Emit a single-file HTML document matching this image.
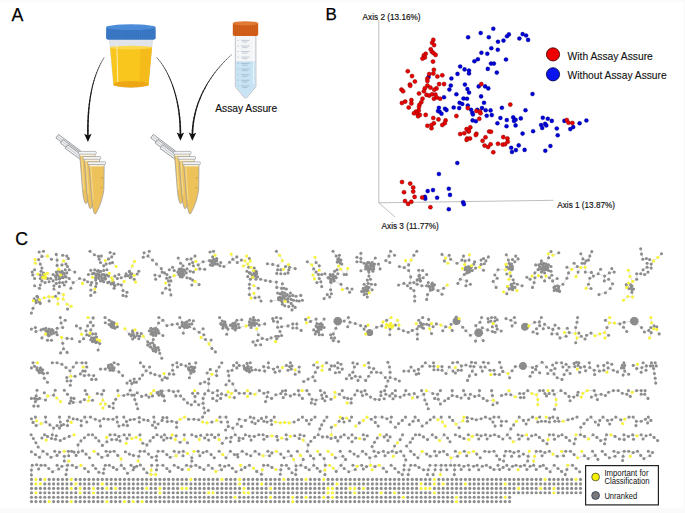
<!DOCTYPE html><html><head><meta charset="utf-8"><style>html,body{margin:0;padding:0;background:#fff;overflow:hidden}svg{display:block}</style></head><body><svg width="685" height="513" viewBox="0 0 685 513"><rect width="685" height="513" fill="#fff"/><rect x="0" y="0" width="685" height="2.2" fill="#fafafa"/><rect x="0" y="508" width="685" height="5" fill="#fafafa"/><rect x="683.5" y="0" width="2" height="513" fill="#fafafa"/><text x="11.6" y="20.8" font-size="17.8" font-family="Liberation Sans, sans-serif" fill="#000" stroke="#000" stroke-width="0.25">A</text><text x="325.6" y="20.0" font-size="17" font-family="Liberation Sans, sans-serif" fill="#000" stroke="#000" stroke-width="0.25">B</text><text x="15.3" y="245.1" font-size="17.6" font-family="Liberation Sans, sans-serif" fill="#000" stroke="#000" stroke-width="0.25">C</text><path d="M104.20,57.40L103.06,59.27" stroke="#1a1a1a" stroke-width="0.43" stroke-linecap="round"/><path d="M103.06,59.27L101.94,61.23" stroke="#1a1a1a" stroke-width="0.48" stroke-linecap="round"/><path d="M101.94,61.23L100.83,63.29" stroke="#1a1a1a" stroke-width="0.54" stroke-linecap="round"/><path d="M100.83,63.29L99.76,65.44" stroke="#1a1a1a" stroke-width="0.59" stroke-linecap="round"/><path d="M99.76,65.44L98.71,67.70" stroke="#1a1a1a" stroke-width="0.64" stroke-linecap="round"/><path d="M98.71,67.70L97.69,70.07" stroke="#1a1a1a" stroke-width="0.70" stroke-linecap="round"/><path d="M97.69,70.07L96.70,72.54" stroke="#1a1a1a" stroke-width="0.75" stroke-linecap="round"/><path d="M96.70,72.54L95.75,75.14" stroke="#1a1a1a" stroke-width="0.81" stroke-linecap="round"/><path d="M95.75,75.14L94.84,77.85" stroke="#1a1a1a" stroke-width="0.86" stroke-linecap="round"/><path d="M94.84,77.85L93.97,80.68" stroke="#1a1a1a" stroke-width="0.91" stroke-linecap="round"/><path d="M93.97,80.68L93.15,83.64" stroke="#1a1a1a" stroke-width="0.97" stroke-linecap="round"/><path d="M93.15,83.64L92.37,86.74" stroke="#1a1a1a" stroke-width="1.02" stroke-linecap="round"/><path d="M92.37,86.74L91.65,89.96" stroke="#1a1a1a" stroke-width="1.08" stroke-linecap="round"/><path d="M91.65,89.96L90.98,93.33" stroke="#1a1a1a" stroke-width="1.13" stroke-linecap="round"/><path d="M90.98,93.33L90.37,96.84" stroke="#1a1a1a" stroke-width="1.19" stroke-linecap="round"/><path d="M90.37,96.84L89.81,100.50" stroke="#1a1a1a" stroke-width="1.24" stroke-linecap="round"/><path d="M89.81,100.50L89.32,104.30" stroke="#1a1a1a" stroke-width="1.29" stroke-linecap="round"/><path d="M89.32,104.30L88.90,108.26" stroke="#1a1a1a" stroke-width="1.35" stroke-linecap="round"/><path d="M88.90,108.26L88.54,112.38" stroke="#1a1a1a" stroke-width="1.40" stroke-linecap="round"/><path d="M88.54,112.38L88.26,116.67" stroke="#1a1a1a" stroke-width="1.46" stroke-linecap="round"/><path d="M88.26,116.67L88.05,121.12" stroke="#1a1a1a" stroke-width="1.51" stroke-linecap="round"/><path d="M88.05,121.12L87.92,125.73" stroke="#1a1a1a" stroke-width="1.56" stroke-linecap="round"/><path d="M87.92,125.73L87.87,130.53" stroke="#1a1a1a" stroke-width="1.62" stroke-linecap="round"/><path d="M87.87,130.53L87.90,135.50" stroke="#1a1a1a" stroke-width="1.67" stroke-linecap="round"/><path d="M84.2,133.8 L87.9,135.4 L91.6,133.8 L87.9,142.0 Z" fill="#111" transform="rotate(0 87.9 142.0)"/><path d="M156.70,57.40L158.35,59.29" stroke="#1a1a1a" stroke-width="0.43" stroke-linecap="round"/><path d="M158.35,59.29L159.96,61.33" stroke="#1a1a1a" stroke-width="0.48" stroke-linecap="round"/><path d="M159.96,61.33L161.55,63.49" stroke="#1a1a1a" stroke-width="0.54" stroke-linecap="round"/><path d="M161.55,63.49L163.09,65.78" stroke="#1a1a1a" stroke-width="0.59" stroke-linecap="round"/><path d="M163.09,65.78L164.59,68.21" stroke="#1a1a1a" stroke-width="0.64" stroke-linecap="round"/><path d="M164.59,68.21L166.04,70.75" stroke="#1a1a1a" stroke-width="0.70" stroke-linecap="round"/><path d="M166.04,70.75L167.45,73.42" stroke="#1a1a1a" stroke-width="0.75" stroke-linecap="round"/><path d="M167.45,73.42L168.80,76.21" stroke="#1a1a1a" stroke-width="0.81" stroke-linecap="round"/><path d="M168.80,76.21L170.10,79.11" stroke="#1a1a1a" stroke-width="0.86" stroke-linecap="round"/><path d="M170.10,79.11L171.33,82.13" stroke="#1a1a1a" stroke-width="0.91" stroke-linecap="round"/><path d="M171.33,82.13L172.51,85.26" stroke="#1a1a1a" stroke-width="0.97" stroke-linecap="round"/><path d="M172.51,85.26L173.61,88.49" stroke="#1a1a1a" stroke-width="1.02" stroke-linecap="round"/><path d="M173.61,88.49L174.65,91.82" stroke="#1a1a1a" stroke-width="1.08" stroke-linecap="round"/><path d="M174.65,91.82L175.61,95.26" stroke="#1a1a1a" stroke-width="1.13" stroke-linecap="round"/><path d="M175.61,95.26L176.50,98.79" stroke="#1a1a1a" stroke-width="1.19" stroke-linecap="round"/><path d="M176.50,98.79L177.30,102.42" stroke="#1a1a1a" stroke-width="1.24" stroke-linecap="round"/><path d="M177.30,102.42L178.02,106.14" stroke="#1a1a1a" stroke-width="1.29" stroke-linecap="round"/><path d="M178.02,106.14L178.65,109.95" stroke="#1a1a1a" stroke-width="1.35" stroke-linecap="round"/><path d="M178.65,109.95L179.19,113.85" stroke="#1a1a1a" stroke-width="1.40" stroke-linecap="round"/><path d="M179.19,113.85L179.64,117.82" stroke="#1a1a1a" stroke-width="1.46" stroke-linecap="round"/><path d="M179.64,117.82L179.98,121.88" stroke="#1a1a1a" stroke-width="1.51" stroke-linecap="round"/><path d="M179.98,121.88L180.23,126.01" stroke="#1a1a1a" stroke-width="1.56" stroke-linecap="round"/><path d="M180.23,126.01L180.37,130.22" stroke="#1a1a1a" stroke-width="1.62" stroke-linecap="round"/><path d="M180.37,130.22L180.40,134.50" stroke="#1a1a1a" stroke-width="1.67" stroke-linecap="round"/><path d="M176.7,132.6 L180.4,134.2 L184.1,132.6 L180.4,140.8 Z" fill="#111" transform="rotate(0 180.4 140.8)"/><path d="M231.60,54.70L229.15,56.92" stroke="#1a1a1a" stroke-width="0.43" stroke-linecap="round"/><path d="M229.15,56.92L226.72,59.25" stroke="#1a1a1a" stroke-width="0.48" stroke-linecap="round"/><path d="M226.72,59.25L224.31,61.68" stroke="#1a1a1a" stroke-width="0.54" stroke-linecap="round"/><path d="M224.31,61.68L221.93,64.22" stroke="#1a1a1a" stroke-width="0.59" stroke-linecap="round"/><path d="M221.93,64.22L219.59,66.87" stroke="#1a1a1a" stroke-width="0.64" stroke-linecap="round"/><path d="M219.59,66.87L217.29,69.62" stroke="#1a1a1a" stroke-width="0.70" stroke-linecap="round"/><path d="M217.29,69.62L215.04,72.46" stroke="#1a1a1a" stroke-width="0.75" stroke-linecap="round"/><path d="M215.04,72.46L212.86,75.41" stroke="#1a1a1a" stroke-width="0.81" stroke-linecap="round"/><path d="M212.86,75.41L210.74,78.46" stroke="#1a1a1a" stroke-width="0.86" stroke-linecap="round"/><path d="M210.74,78.46L208.70,81.59" stroke="#1a1a1a" stroke-width="0.91" stroke-linecap="round"/><path d="M208.70,81.59L206.74,84.83" stroke="#1a1a1a" stroke-width="0.97" stroke-linecap="round"/><path d="M206.74,84.83L204.88,88.15" stroke="#1a1a1a" stroke-width="1.02" stroke-linecap="round"/><path d="M204.88,88.15L203.11,91.56" stroke="#1a1a1a" stroke-width="1.08" stroke-linecap="round"/><path d="M203.11,91.56L201.45,95.06" stroke="#1a1a1a" stroke-width="1.13" stroke-linecap="round"/><path d="M201.45,95.06L199.90,98.65" stroke="#1a1a1a" stroke-width="1.19" stroke-linecap="round"/><path d="M199.90,98.65L198.47,102.32" stroke="#1a1a1a" stroke-width="1.24" stroke-linecap="round"/><path d="M198.47,102.32L197.18,106.08" stroke="#1a1a1a" stroke-width="1.29" stroke-linecap="round"/><path d="M197.18,106.08L196.02,109.91" stroke="#1a1a1a" stroke-width="1.35" stroke-linecap="round"/><path d="M196.02,109.91L195.01,113.82" stroke="#1a1a1a" stroke-width="1.40" stroke-linecap="round"/><path d="M195.01,113.82L194.15,117.81" stroke="#1a1a1a" stroke-width="1.46" stroke-linecap="round"/><path d="M194.15,117.81L193.45,121.88" stroke="#1a1a1a" stroke-width="1.51" stroke-linecap="round"/><path d="M193.45,121.88L192.92,126.01" stroke="#1a1a1a" stroke-width="1.56" stroke-linecap="round"/><path d="M192.92,126.01L192.57,130.22" stroke="#1a1a1a" stroke-width="1.62" stroke-linecap="round"/><path d="M192.57,130.22L192.40,134.50" stroke="#1a1a1a" stroke-width="1.67" stroke-linecap="round"/><path d="M188.6,132.6 L192.3,134.2 L196.0,132.6 L192.3,140.8 Z" fill="#111" transform="rotate(1 192.3 140.8)"/><path d="M109.4,39.3 L152.6,39.3 L148.4,85.6 Q131,89 113.6,85.6 Z" fill="#e1e4ea" stroke="#c9ccd2" stroke-width="0.5"/><path d="M110.1,47.2 L151.9,47.2 L148.4,85.6 Q131,89 113.6,85.6 Z" fill="#f9c61d"/><path d="M140.5,47.2 L151.9,47.2 L148.4,85.6 L139.5,86.6 Z" fill="#f4bb1a"/><ellipse cx="131" cy="47.6" rx="20.9" ry="1.8" fill="#fbd84e"/><ellipse cx="131" cy="84.3" rx="17.2" ry="3.2" fill="#eda714"/><path d="M116.8,44 L117.8,82" stroke="#fff3c0" stroke-width="1" opacity="0.9"/><path d="M106.2,27 L155.5,27 L155.5,37.5 Q155.5,39.8 152.5,39.8 L109.2,39.8 Q106.2,39.8 106.2,37.5 Z" fill="#3b79c6"/><path d="M106.8,29.5 v9.5 M108.9,29.5 v9.5 M111.0,29.5 v9.5 M113.1,29.5 v9.5 M115.2,29.5 v9.5 M117.3,29.5 v9.5 M119.4,29.5 v9.5 M121.5,29.5 v9.5 M123.6,29.5 v9.5 M125.7,29.5 v9.5 M127.8,29.5 v9.5 M129.9,29.5 v9.5 M132.0,29.5 v9.5 M134.1,29.5 v9.5 M136.2,29.5 v9.5 M138.3,29.5 v9.5 M140.4,29.5 v9.5 M142.5,29.5 v9.5 M144.6,29.5 v9.5 M146.7,29.5 v9.5 M148.8,29.5 v9.5 M150.9,29.5 v9.5 M153.0,29.5 v9.5 M155.1,29.5 v9.5 " stroke="#346fb8" stroke-width="0.6"/><ellipse cx="130.85" cy="27.2" rx="24.65" ry="2.9" fill="#4c8bd8"/><path d="M235.3,35.3 L255.9,35.3 L255.9,86.8 L246.7,97.9 L244.5,97.9 L235.3,86.8 Z" fill="#f4f6f8" stroke="#a4abb3" stroke-width="0.7"/><path d="M235.8,61.9 L255.4,61.9 L255.4,86.6 L246.5,97.3 L244.7,97.3 L235.8,86.6 Z" fill="#c8e3f4"/><path d="M235.8,61.9 L255.4,61.9" stroke="#a9cde6" stroke-width="0.6"/><path d="M241,40.4 h8.6 M242.3,42.0 h5.2 M237.4,40.4 h1.4 M241,46.0 h8.6 M242.3,47.6 h5.2 M237.4,46.0 h1.4 M241,51.5 h8.6 M242.3,53.1 h5.2 M237.4,51.5 h1.4 M241,57.1 h8.6 M242.3,58.7 h5.2 M237.4,57.1 h1.4 M241,63.5 h8.6 M242.3,65.1 h5.2 M237.4,63.5 h1.4 M241,69.1 h8.6 M242.3,70.7 h5.2 M237.4,69.1 h1.4 M241,74.7 h8.6 M242.3,76.3 h5.2 M237.4,74.7 h1.4 M241,80.3 h8.6 M242.3,81.9 h5.2 M237.4,80.3 h1.4 M241,85.9 h8.6 M242.3,87.5 h5.2 M237.4,85.9 h1.4 " stroke="#8a99a8" stroke-width="0.45"/><path d="M253.6,38 v46" stroke="#ffffff" stroke-width="0.8" opacity="0.8"/><path d="M232.8,23.2 L258.2,23.2 L258.2,34.2 Q258.2,36 256.2,36 L234.8,36 Q232.8,36 232.8,34.2 Z" fill="#d4621c"/><path d="M233.6,25 v10.5 M235.5,25 v10.5 M237.4,25 v10.5 M239.3,25 v10.5 M241.2,25 v10.5 M243.1,25 v10.5 M245.0,25 v10.5 M246.9,25 v10.5 M248.8,25 v10.5 M250.7,25 v10.5 M252.6,25 v10.5 M254.5,25 v10.5 M256.4,25 v10.5 " stroke="#c35616" stroke-width="0.6"/><ellipse cx="245.5" cy="23.3" rx="12.7" ry="2.1" fill="#e07a35"/><text x="215.2" y="111.8" font-size="11" font-family="Liberation Sans, sans-serif" fill="#111" stroke="#111" stroke-width="0.15" textLength="62" lengthAdjust="spacingAndGlyphs">Assay Assure</text><path d="M58.5,134.4 L80.5,150.8 L78.5,154.4 L55.9,138.0 Z" fill="#eef0f2" stroke="#7e8186" stroke-width="0.75"/><path d="M57.9,136.5 L77.9,152.0" stroke="#a9acb1" stroke-width="0.6"/><path d="M63.0,139.5 L85.0,155.9 L83.0,159.5 L60.4,143.1 Z" fill="#eef0f2" stroke="#7e8186" stroke-width="0.75"/><path d="M62.4,141.6 L82.4,157.1" stroke="#a9acb1" stroke-width="0.6"/><path d="M67.8,144.8 L89.8,161.2 L87.8,164.8 L65.2,148.4 Z" fill="#eef0f2" stroke="#7e8186" stroke-width="0.75"/><path d="M67.2,146.9 L87.2,162.4" stroke="#a9acb1" stroke-width="0.6"/><path d="M79.7,154.2 L94.9,154.2 L94.6,179.4 Q92.7,192.4 86.7,203.0 Q85.7,204.2 84.9,202.8 Q82.9,197.4 82.5,189.9 Z" fill="#eec25a" stroke="#9c9c9c" stroke-width="0.75"/><path d="M81.7,156.4 L83.8,189.4" stroke="#f5d88e" stroke-width="1.1"/><rect x="78.5" y="151.4" width="17.7" height="2.8" rx="0.7" fill="#f3f4f5" stroke="#8e9196" stroke-width="0.6"/><rect x="80.1" y="154.5" width="14.4" height="1.5" fill="#f7f1e0"/><path d="M84.2,159.3 L99.4,159.3 L99.1,184.5 Q97.2,197.5 91.2,208.1 Q90.2,209.3 89.4,207.9 Q87.4,202.5 87.0,195.0 Z" fill="#eec25a" stroke="#9c9c9c" stroke-width="0.75"/><path d="M86.2,161.5 L88.3,194.5" stroke="#f5d88e" stroke-width="1.1"/><rect x="83.0" y="156.5" width="17.7" height="2.8" rx="0.7" fill="#f3f4f5" stroke="#8e9196" stroke-width="0.6"/><rect x="84.6" y="159.6" width="14.4" height="1.5" fill="#f7f1e0"/><path d="M89.0,164.6 L104.2,164.6 L103.9,189.8 Q102.0,202.8 96.0,213.4 Q95.0,214.6 94.2,213.2 Q92.2,207.8 91.8,200.3 Z" fill="#eec25a" stroke="#9c9c9c" stroke-width="0.75"/><path d="M91.0,166.8 L93.1,199.8" stroke="#f5d88e" stroke-width="1.1"/><rect x="87.8" y="161.8" width="17.7" height="2.8" rx="0.7" fill="#f3f4f5" stroke="#8e9196" stroke-width="0.6"/><rect x="89.4" y="164.9" width="14.4" height="1.5" fill="#f7f1e0"/><path d="M100.8,177.8 h2.5 M100.4,187.8 h2.5" stroke="#b3893a" stroke-width="0.5"/><path d="M153.3,134.4 L175.3,150.8 L173.3,154.4 L150.7,138.0 Z" fill="#eef0f2" stroke="#7e8186" stroke-width="0.75"/><path d="M152.7,136.5 L172.7,152.0" stroke="#a9acb1" stroke-width="0.6"/><path d="M157.8,139.5 L179.8,155.9 L177.8,159.5 L155.2,143.1 Z" fill="#eef0f2" stroke="#7e8186" stroke-width="0.75"/><path d="M157.2,141.6 L177.2,157.1" stroke="#a9acb1" stroke-width="0.6"/><path d="M162.6,144.8 L184.6,161.2 L182.6,164.8 L160.0,148.4 Z" fill="#eef0f2" stroke="#7e8186" stroke-width="0.75"/><path d="M162.0,146.9 L182.0,162.4" stroke="#a9acb1" stroke-width="0.6"/><path d="M174.5,154.2 L189.7,154.2 L189.4,179.4 Q187.5,192.4 181.5,203.0 Q180.5,204.2 179.7,202.8 Q177.7,197.4 177.3,189.9 Z" fill="#eec25a" stroke="#9c9c9c" stroke-width="0.75"/><path d="M176.5,156.4 L178.6,189.4" stroke="#f5d88e" stroke-width="1.1"/><rect x="173.3" y="151.4" width="17.7" height="2.8" rx="0.7" fill="#f3f4f5" stroke="#8e9196" stroke-width="0.6"/><rect x="174.9" y="154.5" width="14.4" height="1.5" fill="#f7f1e0"/><path d="M179.0,159.3 L194.2,159.3 L193.9,184.5 Q192.0,197.5 186.0,208.1 Q185.0,209.3 184.2,207.9 Q182.2,202.5 181.8,195.0 Z" fill="#eec25a" stroke="#9c9c9c" stroke-width="0.75"/><path d="M181.0,161.5 L183.1,194.5" stroke="#f5d88e" stroke-width="1.1"/><rect x="177.8" y="156.5" width="17.7" height="2.8" rx="0.7" fill="#f3f4f5" stroke="#8e9196" stroke-width="0.6"/><rect x="179.4" y="159.6" width="14.4" height="1.5" fill="#f7f1e0"/><path d="M183.8,164.6 L199.0,164.6 L198.7,189.8 Q196.8,202.8 190.8,213.4 Q189.8,214.6 189.0,213.2 Q187.0,207.8 186.6,200.3 Z" fill="#eec25a" stroke="#9c9c9c" stroke-width="0.75"/><path d="M185.8,166.8 L187.9,199.8" stroke="#f5d88e" stroke-width="1.1"/><rect x="182.6" y="161.8" width="17.7" height="2.8" rx="0.7" fill="#f3f4f5" stroke="#8e9196" stroke-width="0.6"/><rect x="184.2" y="164.9" width="14.4" height="1.5" fill="#f7f1e0"/><path d="M195.6,177.8 h2.5 M195.2,187.8 h2.5" stroke="#b3893a" stroke-width="0.5"/><path d="M378.8,20 L378.8,202.8 L553.6,200.3 M378.8,202.8 L395,217" fill="none" stroke="#b8b8b8" stroke-width="0.9"/><text x="362.6" y="19.9" font-size="8.6" font-family="Liberation Sans, sans-serif" fill="#111" stroke="#111" stroke-width="0.18" textLength="58" lengthAdjust="spacingAndGlyphs">Axis 2 (13.16%)</text><text x="557.3" y="207.6" font-size="9.2" font-family="Liberation Sans, sans-serif" fill="#111" stroke="#111" stroke-width="0.18" textLength="57.7" lengthAdjust="spacingAndGlyphs">Axis 1 (13.87%)</text><text x="381.6" y="228.7" font-size="9.2" font-family="Liberation Sans, sans-serif" fill="#111" stroke="#111" stroke-width="0.18" textLength="57.2" lengthAdjust="spacingAndGlyphs">Axis 3 (11.77%)</text><circle cx="468.1" cy="37.3" r="2.05" fill="#0000d8" stroke="#00006a" stroke-width="0.3"/><circle cx="460.2" cy="66.5" r="2.05" fill="#0000d8" stroke="#00006a" stroke-width="0.3"/><circle cx="464.6" cy="69.4" r="2.05" fill="#0000d8" stroke="#00006a" stroke-width="0.3"/><circle cx="469" cy="70.6" r="2.05" fill="#0000d8" stroke="#00006a" stroke-width="0.3"/><circle cx="469" cy="73.5" r="2.05" fill="#0000d8" stroke="#00006a" stroke-width="0.3"/><circle cx="457.5" cy="73.9" r="2.05" fill="#0000d8" stroke="#00006a" stroke-width="0.3"/><circle cx="451.4" cy="78.5" r="2.05" fill="#0000d8" stroke="#00006a" stroke-width="0.3"/><circle cx="428.6" cy="77" r="2.05" fill="#0000d8" stroke="#00006a" stroke-width="0.3"/><circle cx="493.3" cy="28.7" r="2.05" fill="#0000d8" stroke="#00006a" stroke-width="0.3"/><circle cx="480.7" cy="33" r="2.05" fill="#0000d8" stroke="#00006a" stroke-width="0.3"/><circle cx="488.8" cy="37.2" r="2.05" fill="#0000d8" stroke="#00006a" stroke-width="0.3"/><circle cx="508.9" cy="34.4" r="2.05" fill="#0000d8" stroke="#00006a" stroke-width="0.3"/><circle cx="507" cy="36.3" r="2.05" fill="#0000d8" stroke="#00006a" stroke-width="0.3"/><circle cx="503.5" cy="40.6" r="2.05" fill="#0000d8" stroke="#00006a" stroke-width="0.3"/><circle cx="498" cy="41.7" r="2.05" fill="#0000d8" stroke="#00006a" stroke-width="0.3"/><circle cx="522.6" cy="34.1" r="2.05" fill="#0000d8" stroke="#00006a" stroke-width="0.3"/><circle cx="526.1" cy="35.5" r="2.05" fill="#0000d8" stroke="#00006a" stroke-width="0.3"/><circle cx="519.4" cy="38.5" r="2.05" fill="#0000d8" stroke="#00006a" stroke-width="0.3"/><circle cx="528.1" cy="39.9" r="2.05" fill="#0000d8" stroke="#00006a" stroke-width="0.3"/><circle cx="491.3" cy="48.2" r="2.05" fill="#0000d8" stroke="#00006a" stroke-width="0.3"/><circle cx="497.8" cy="49.8" r="2.05" fill="#0000d8" stroke="#00006a" stroke-width="0.3"/><circle cx="481.4" cy="52.7" r="2.05" fill="#0000d8" stroke="#00006a" stroke-width="0.3"/><circle cx="487.3" cy="53.7" r="2.05" fill="#0000d8" stroke="#00006a" stroke-width="0.3"/><circle cx="477.9" cy="59.2" r="2.05" fill="#0000d8" stroke="#00006a" stroke-width="0.3"/><circle cx="474.4" cy="61.3" r="2.05" fill="#0000d8" stroke="#00006a" stroke-width="0.3"/><circle cx="506" cy="59.5" r="2.05" fill="#0000d8" stroke="#00006a" stroke-width="0.3"/><circle cx="491" cy="63.6" r="2.05" fill="#0000d8" stroke="#00006a" stroke-width="0.3"/><circle cx="493.9" cy="63.6" r="2.05" fill="#0000d8" stroke="#00006a" stroke-width="0.3"/><circle cx="487.8" cy="68.9" r="2.05" fill="#0000d8" stroke="#00006a" stroke-width="0.3"/><circle cx="496.8" cy="72.6" r="2.05" fill="#0000d8" stroke="#00006a" stroke-width="0.3"/><circle cx="464.9" cy="84.6" r="2.05" fill="#0000d8" stroke="#00006a" stroke-width="0.3"/><circle cx="450.8" cy="85.6" r="2.05" fill="#0000d8" stroke="#00006a" stroke-width="0.3"/><circle cx="449.4" cy="89.6" r="2.05" fill="#0000d8" stroke="#00006a" stroke-width="0.3"/><circle cx="444" cy="97.2" r="2.05" fill="#0000d8" stroke="#00006a" stroke-width="0.3"/><circle cx="456.4" cy="94.3" r="2.05" fill="#0000d8" stroke="#00006a" stroke-width="0.3"/><circle cx="467.4" cy="89.1" r="2.05" fill="#0000d8" stroke="#00006a" stroke-width="0.3"/><circle cx="469" cy="92.6" r="2.05" fill="#0000d8" stroke="#00006a" stroke-width="0.3"/><circle cx="463.5" cy="98.5" r="2.05" fill="#0000d8" stroke="#00006a" stroke-width="0.3"/><circle cx="467" cy="98.7" r="2.05" fill="#0000d8" stroke="#00006a" stroke-width="0.3"/><circle cx="459.6" cy="102.8" r="2.05" fill="#0000d8" stroke="#00006a" stroke-width="0.3"/><circle cx="462.3" cy="104" r="2.05" fill="#0000d8" stroke="#00006a" stroke-width="0.3"/><circle cx="467.8" cy="105.5" r="2.05" fill="#0000d8" stroke="#00006a" stroke-width="0.3"/><circle cx="453.7" cy="107.5" r="2.05" fill="#0000d8" stroke="#00006a" stroke-width="0.3"/><circle cx="459.2" cy="108.1" r="2.05" fill="#0000d8" stroke="#00006a" stroke-width="0.3"/><circle cx="438.9" cy="107.8" r="2.05" fill="#0000d8" stroke="#00006a" stroke-width="0.3"/><circle cx="438" cy="111" r="2.05" fill="#0000d8" stroke="#00006a" stroke-width="0.3"/><circle cx="439.7" cy="111.8" r="2.05" fill="#0000d8" stroke="#00006a" stroke-width="0.3"/><circle cx="441.5" cy="113.7" r="2.05" fill="#0000d8" stroke="#00006a" stroke-width="0.3"/><circle cx="445" cy="108.7" r="2.05" fill="#0000d8" stroke="#00006a" stroke-width="0.3"/><circle cx="446.5" cy="110.1" r="2.05" fill="#0000d8" stroke="#00006a" stroke-width="0.3"/><circle cx="478.7" cy="86.4" r="2.05" fill="#0000d8" stroke="#00006a" stroke-width="0.3"/><circle cx="485.1" cy="86.4" r="2.05" fill="#0000d8" stroke="#00006a" stroke-width="0.3"/><circle cx="488.3" cy="88.4" r="2.05" fill="#0000d8" stroke="#00006a" stroke-width="0.3"/><circle cx="481.1" cy="96.4" r="2.05" fill="#0000d8" stroke="#00006a" stroke-width="0.3"/><circle cx="484" cy="102.8" r="2.05" fill="#0000d8" stroke="#00006a" stroke-width="0.3"/><circle cx="471.1" cy="109.8" r="2.05" fill="#0000d8" stroke="#00006a" stroke-width="0.3"/><circle cx="472.3" cy="112.7" r="2.05" fill="#0000d8" stroke="#00006a" stroke-width="0.3"/><circle cx="472.9" cy="114.5" r="2.05" fill="#0000d8" stroke="#00006a" stroke-width="0.3"/><circle cx="477.3" cy="109.8" r="2.05" fill="#0000d8" stroke="#00006a" stroke-width="0.3"/><circle cx="482" cy="108.1" r="2.05" fill="#0000d8" stroke="#00006a" stroke-width="0.3"/><circle cx="485.7" cy="110.2" r="2.05" fill="#0000d8" stroke="#00006a" stroke-width="0.3"/><circle cx="490.6" cy="110.4" r="2.05" fill="#0000d8" stroke="#00006a" stroke-width="0.3"/><circle cx="486.7" cy="115.7" r="2.05" fill="#0000d8" stroke="#00006a" stroke-width="0.3"/><circle cx="491.8" cy="115.1" r="2.05" fill="#0000d8" stroke="#00006a" stroke-width="0.3"/><circle cx="472.6" cy="120.4" r="2.05" fill="#0000d8" stroke="#00006a" stroke-width="0.3"/><circle cx="475.8" cy="121.2" r="2.05" fill="#0000d8" stroke="#00006a" stroke-width="0.3"/><circle cx="501.9" cy="107.8" r="2.05" fill="#0000d8" stroke="#00006a" stroke-width="0.3"/><circle cx="500.4" cy="118" r="2.05" fill="#0000d8" stroke="#00006a" stroke-width="0.3"/><circle cx="497.4" cy="123.3" r="2.05" fill="#0000d8" stroke="#00006a" stroke-width="0.3"/><circle cx="506.8" cy="120" r="2.05" fill="#0000d8" stroke="#00006a" stroke-width="0.3"/><circle cx="506.5" cy="126.2" r="2.05" fill="#0000d8" stroke="#00006a" stroke-width="0.3"/><circle cx="513.2" cy="117.4" r="2.05" fill="#0000d8" stroke="#00006a" stroke-width="0.3"/><circle cx="515.6" cy="119.8" r="2.05" fill="#0000d8" stroke="#00006a" stroke-width="0.3"/><circle cx="514" cy="120.9" r="2.05" fill="#0000d8" stroke="#00006a" stroke-width="0.3"/><circle cx="520.8" cy="118.4" r="2.05" fill="#0000d8" stroke="#00006a" stroke-width="0.3"/><circle cx="515.6" cy="125.4" r="2.05" fill="#0000d8" stroke="#00006a" stroke-width="0.3"/><circle cx="525.5" cy="110.2" r="2.05" fill="#0000d8" stroke="#00006a" stroke-width="0.3"/><circle cx="532.5" cy="94" r="2.05" fill="#0000d8" stroke="#00006a" stroke-width="0.3"/><circle cx="522.6" cy="133.6" r="2.05" fill="#0000d8" stroke="#00006a" stroke-width="0.3"/><circle cx="533.1" cy="131.2" r="2.05" fill="#0000d8" stroke="#00006a" stroke-width="0.3"/><circle cx="542.8" cy="117.7" r="2.05" fill="#0000d8" stroke="#00006a" stroke-width="0.3"/><circle cx="547.8" cy="118.8" r="2.05" fill="#0000d8" stroke="#00006a" stroke-width="0.3"/><circle cx="551.8" cy="120.9" r="2.05" fill="#0000d8" stroke="#00006a" stroke-width="0.3"/><circle cx="541.1" cy="125" r="2.05" fill="#0000d8" stroke="#00006a" stroke-width="0.3"/><circle cx="545.1" cy="123.9" r="2.05" fill="#0000d8" stroke="#00006a" stroke-width="0.3"/><circle cx="546.3" cy="125.4" r="2.05" fill="#0000d8" stroke="#00006a" stroke-width="0.3"/><circle cx="542.2" cy="128" r="2.05" fill="#0000d8" stroke="#00006a" stroke-width="0.3"/><circle cx="556.8" cy="128.5" r="2.05" fill="#0000d8" stroke="#00006a" stroke-width="0.3"/><circle cx="557.7" cy="135.3" r="2.05" fill="#0000d8" stroke="#00006a" stroke-width="0.3"/><circle cx="564.4" cy="120.9" r="2.05" fill="#0000d8" stroke="#00006a" stroke-width="0.3"/><circle cx="570.3" cy="129.1" r="2.05" fill="#0000d8" stroke="#00006a" stroke-width="0.3"/><circle cx="573.2" cy="127.1" r="2.05" fill="#0000d8" stroke="#00006a" stroke-width="0.3"/><circle cx="579.6" cy="123.3" r="2.05" fill="#0000d8" stroke="#00006a" stroke-width="0.3"/><circle cx="586.4" cy="120.5" r="2.05" fill="#0000d8" stroke="#00006a" stroke-width="0.3"/><circle cx="457.3" cy="163" r="2.05" fill="#0000d8" stroke="#00006a" stroke-width="0.3"/><circle cx="438.9" cy="174" r="2.05" fill="#0000d8" stroke="#00006a" stroke-width="0.3"/><circle cx="427.7" cy="191.1" r="2.05" fill="#0000d8" stroke="#00006a" stroke-width="0.3"/><circle cx="433" cy="190.1" r="2.05" fill="#0000d8" stroke="#00006a" stroke-width="0.3"/><circle cx="424.9" cy="196.7" r="2.05" fill="#0000d8" stroke="#00006a" stroke-width="0.3"/><circle cx="425.3" cy="198.7" r="2.05" fill="#0000d8" stroke="#00006a" stroke-width="0.3"/><circle cx="437.1" cy="197.7" r="2.05" fill="#0000d8" stroke="#00006a" stroke-width="0.3"/><circle cx="448.8" cy="188.7" r="2.05" fill="#0000d8" stroke="#00006a" stroke-width="0.3"/><circle cx="450" cy="194.9" r="2.05" fill="#0000d8" stroke="#00006a" stroke-width="0.3"/><circle cx="448.8" cy="209.2" r="2.05" fill="#0000d8" stroke="#00006a" stroke-width="0.3"/><circle cx="463.1" cy="202.2" r="2.05" fill="#0000d8" stroke="#00006a" stroke-width="0.3"/><circle cx="463.9" cy="204.2" r="2.05" fill="#0000d8" stroke="#00006a" stroke-width="0.3"/><circle cx="511.2" cy="147.8" r="2.05" fill="#0000d8" stroke="#00006a" stroke-width="0.3"/><circle cx="512" cy="152" r="2.05" fill="#0000d8" stroke="#00006a" stroke-width="0.3"/><circle cx="515.9" cy="150.1" r="2.05" fill="#0000d8" stroke="#00006a" stroke-width="0.3"/><circle cx="518.7" cy="145.4" r="2.05" fill="#0000d8" stroke="#00006a" stroke-width="0.3"/><circle cx="524.6" cy="149.9" r="2.05" fill="#0000d8" stroke="#00006a" stroke-width="0.3"/><circle cx="550.4" cy="146" r="2.05" fill="#0000d8" stroke="#00006a" stroke-width="0.3"/><circle cx="545.3" cy="150.7" r="2.05" fill="#0000d8" stroke="#00006a" stroke-width="0.3"/><circle cx="433.3" cy="39.9" r="2.05" fill="#ee0000" stroke="#7a0000" stroke-width="0.45"/><circle cx="432.1" cy="42.8" r="2.05" fill="#ee0000" stroke="#7a0000" stroke-width="0.45"/><circle cx="434.1" cy="45.1" r="2.05" fill="#ee0000" stroke="#7a0000" stroke-width="0.45"/><circle cx="430.7" cy="49.3" r="2.05" fill="#ee0000" stroke="#7a0000" stroke-width="0.45"/><circle cx="431.9" cy="51.7" r="2.05" fill="#ee0000" stroke="#7a0000" stroke-width="0.45"/><circle cx="433.5" cy="53.1" r="2.05" fill="#ee0000" stroke="#7a0000" stroke-width="0.45"/><circle cx="435.6" cy="54.9" r="2.05" fill="#ee0000" stroke="#7a0000" stroke-width="0.45"/><circle cx="425.7" cy="53.7" r="2.05" fill="#ee0000" stroke="#7a0000" stroke-width="0.45"/><circle cx="423.9" cy="55.4" r="2.05" fill="#ee0000" stroke="#7a0000" stroke-width="0.45"/><circle cx="424.9" cy="57.5" r="2.05" fill="#ee0000" stroke="#7a0000" stroke-width="0.45"/><circle cx="422.5" cy="58.6" r="2.05" fill="#ee0000" stroke="#7a0000" stroke-width="0.45"/><circle cx="433" cy="61.6" r="2.05" fill="#ee0000" stroke="#7a0000" stroke-width="0.45"/><circle cx="433.9" cy="69.8" r="2.05" fill="#ee0000" stroke="#7a0000" stroke-width="0.45"/><circle cx="407.8" cy="71.2" r="2.05" fill="#ee0000" stroke="#7a0000" stroke-width="0.45"/><circle cx="412" cy="76.1" r="2.05" fill="#ee0000" stroke="#7a0000" stroke-width="0.45"/><circle cx="429.2" cy="74.1" r="2.05" fill="#ee0000" stroke="#7a0000" stroke-width="0.45"/><circle cx="433.3" cy="73.5" r="2.05" fill="#ee0000" stroke="#7a0000" stroke-width="0.45"/><circle cx="437.4" cy="76.5" r="2.05" fill="#ee0000" stroke="#7a0000" stroke-width="0.45"/><circle cx="442.3" cy="75.3" r="2.05" fill="#ee0000" stroke="#7a0000" stroke-width="0.45"/><circle cx="427.4" cy="78.6" r="2.05" fill="#ee0000" stroke="#7a0000" stroke-width="0.45"/><circle cx="427.4" cy="80.9" r="2.05" fill="#ee0000" stroke="#7a0000" stroke-width="0.45"/><circle cx="414.9" cy="81.5" r="2.05" fill="#ee0000" stroke="#7a0000" stroke-width="0.45"/><circle cx="409.9" cy="84.6" r="2.05" fill="#ee0000" stroke="#7a0000" stroke-width="0.45"/><circle cx="439.1" cy="84.1" r="2.05" fill="#ee0000" stroke="#7a0000" stroke-width="0.45"/><circle cx="444" cy="84.1" r="2.05" fill="#ee0000" stroke="#7a0000" stroke-width="0.45"/><circle cx="481.3" cy="84.1" r="2.05" fill="#ee0000" stroke="#7a0000" stroke-width="0.45"/><circle cx="410.2" cy="85.8" r="2.05" fill="#ee0000" stroke="#7a0000" stroke-width="0.45"/><circle cx="401.5" cy="89.6" r="2.05" fill="#ee0000" stroke="#7a0000" stroke-width="0.45"/><circle cx="403.1" cy="91.3" r="2.05" fill="#ee0000" stroke="#7a0000" stroke-width="0.45"/><circle cx="427.4" cy="85.6" r="2.05" fill="#ee0000" stroke="#7a0000" stroke-width="0.45"/><circle cx="424.9" cy="88.2" r="2.05" fill="#ee0000" stroke="#7a0000" stroke-width="0.45"/><circle cx="430.4" cy="87.6" r="2.05" fill="#ee0000" stroke="#7a0000" stroke-width="0.45"/><circle cx="436.5" cy="88.4" r="2.05" fill="#ee0000" stroke="#7a0000" stroke-width="0.45"/><circle cx="434.2" cy="89.7" r="2.05" fill="#ee0000" stroke="#7a0000" stroke-width="0.45"/><circle cx="423.9" cy="91.3" r="2.05" fill="#ee0000" stroke="#7a0000" stroke-width="0.45"/><circle cx="419" cy="93.5" r="2.05" fill="#ee0000" stroke="#7a0000" stroke-width="0.45"/><circle cx="426.5" cy="94.9" r="2.05" fill="#ee0000" stroke="#7a0000" stroke-width="0.45"/><circle cx="429.2" cy="95.6" r="2.05" fill="#ee0000" stroke="#7a0000" stroke-width="0.45"/><circle cx="432.1" cy="94.3" r="2.05" fill="#ee0000" stroke="#7a0000" stroke-width="0.45"/><circle cx="435.4" cy="94.6" r="2.05" fill="#ee0000" stroke="#7a0000" stroke-width="0.45"/><circle cx="433.9" cy="98.7" r="2.05" fill="#ee0000" stroke="#7a0000" stroke-width="0.45"/><circle cx="436.8" cy="97.5" r="2.05" fill="#ee0000" stroke="#7a0000" stroke-width="0.45"/><circle cx="440.1" cy="98.7" r="2.05" fill="#ee0000" stroke="#7a0000" stroke-width="0.45"/><circle cx="422.5" cy="98.7" r="2.05" fill="#ee0000" stroke="#7a0000" stroke-width="0.45"/><circle cx="421.3" cy="102.2" r="2.05" fill="#ee0000" stroke="#7a0000" stroke-width="0.45"/><circle cx="419.5" cy="104.8" r="2.05" fill="#ee0000" stroke="#7a0000" stroke-width="0.45"/><circle cx="419" cy="107.1" r="2.05" fill="#ee0000" stroke="#7a0000" stroke-width="0.45"/><circle cx="411.4" cy="100.1" r="2.05" fill="#ee0000" stroke="#7a0000" stroke-width="0.45"/><circle cx="411.4" cy="103.4" r="2.05" fill="#ee0000" stroke="#7a0000" stroke-width="0.45"/><circle cx="405.2" cy="101.6" r="2.05" fill="#ee0000" stroke="#7a0000" stroke-width="0.45"/><circle cx="401.9" cy="103" r="2.05" fill="#ee0000" stroke="#7a0000" stroke-width="0.45"/><circle cx="408.7" cy="107.5" r="2.05" fill="#ee0000" stroke="#7a0000" stroke-width="0.45"/><circle cx="418.7" cy="110.6" r="2.05" fill="#ee0000" stroke="#7a0000" stroke-width="0.45"/><circle cx="416" cy="111.6" r="2.05" fill="#ee0000" stroke="#7a0000" stroke-width="0.45"/><circle cx="414" cy="113.3" r="2.05" fill="#ee0000" stroke="#7a0000" stroke-width="0.45"/><circle cx="417.5" cy="113.9" r="2.05" fill="#ee0000" stroke="#7a0000" stroke-width="0.45"/><circle cx="419.8" cy="114.9" r="2.05" fill="#ee0000" stroke="#7a0000" stroke-width="0.45"/><circle cx="418.1" cy="116.3" r="2.05" fill="#ee0000" stroke="#7a0000" stroke-width="0.45"/><circle cx="425.7" cy="114.9" r="2.05" fill="#ee0000" stroke="#7a0000" stroke-width="0.45"/><circle cx="433.3" cy="118" r="2.05" fill="#ee0000" stroke="#7a0000" stroke-width="0.45"/><circle cx="438.5" cy="119.4" r="2.05" fill="#ee0000" stroke="#7a0000" stroke-width="0.45"/><circle cx="445.6" cy="120.4" r="2.05" fill="#ee0000" stroke="#7a0000" stroke-width="0.45"/><circle cx="444.7" cy="123.3" r="2.05" fill="#ee0000" stroke="#7a0000" stroke-width="0.45"/><circle cx="442.3" cy="125" r="2.05" fill="#ee0000" stroke="#7a0000" stroke-width="0.45"/><circle cx="433.9" cy="123.3" r="2.05" fill="#ee0000" stroke="#7a0000" stroke-width="0.45"/><circle cx="431.5" cy="125" r="2.05" fill="#ee0000" stroke="#7a0000" stroke-width="0.45"/><circle cx="427.4" cy="125.8" r="2.05" fill="#ee0000" stroke="#7a0000" stroke-width="0.45"/><circle cx="431.5" cy="128.2" r="2.05" fill="#ee0000" stroke="#7a0000" stroke-width="0.45"/><circle cx="456.4" cy="116" r="2.05" fill="#ee0000" stroke="#7a0000" stroke-width="0.45"/><circle cx="467.8" cy="108.1" r="2.05" fill="#ee0000" stroke="#7a0000" stroke-width="0.45"/><circle cx="460.2" cy="134" r="2.05" fill="#ee0000" stroke="#7a0000" stroke-width="0.45"/><circle cx="464.3" cy="133.2" r="2.05" fill="#ee0000" stroke="#7a0000" stroke-width="0.45"/><circle cx="466.6" cy="129.1" r="2.05" fill="#ee0000" stroke="#7a0000" stroke-width="0.45"/><circle cx="468.6" cy="131.5" r="2.05" fill="#ee0000" stroke="#7a0000" stroke-width="0.45"/><circle cx="467.2" cy="138.5" r="2.05" fill="#ee0000" stroke="#7a0000" stroke-width="0.45"/><circle cx="510.3" cy="104.6" r="2.05" fill="#ee0000" stroke="#7a0000" stroke-width="0.45"/><circle cx="476.4" cy="111" r="2.05" fill="#ee0000" stroke="#7a0000" stroke-width="0.45"/><circle cx="479.9" cy="111.6" r="2.05" fill="#ee0000" stroke="#7a0000" stroke-width="0.45"/><circle cx="480.5" cy="113.3" r="2.05" fill="#ee0000" stroke="#7a0000" stroke-width="0.45"/><circle cx="479.3" cy="118.8" r="2.05" fill="#ee0000" stroke="#7a0000" stroke-width="0.45"/><circle cx="470.3" cy="127.4" r="2.05" fill="#ee0000" stroke="#7a0000" stroke-width="0.45"/><circle cx="468.8" cy="130.9" r="2.05" fill="#ee0000" stroke="#7a0000" stroke-width="0.45"/><circle cx="476.4" cy="133.8" r="2.05" fill="#ee0000" stroke="#7a0000" stroke-width="0.45"/><circle cx="475.8" cy="135" r="2.05" fill="#ee0000" stroke="#7a0000" stroke-width="0.45"/><circle cx="489.2" cy="131.5" r="2.05" fill="#ee0000" stroke="#7a0000" stroke-width="0.45"/><circle cx="491" cy="131.7" r="2.05" fill="#ee0000" stroke="#7a0000" stroke-width="0.45"/><circle cx="485.5" cy="137.3" r="2.05" fill="#ee0000" stroke="#7a0000" stroke-width="0.45"/><circle cx="470" cy="138.5" r="2.05" fill="#ee0000" stroke="#7a0000" stroke-width="0.45"/><circle cx="503.3" cy="137.1" r="2.05" fill="#ee0000" stroke="#7a0000" stroke-width="0.45"/><circle cx="507.4" cy="138.5" r="2.05" fill="#ee0000" stroke="#7a0000" stroke-width="0.45"/><circle cx="566.8" cy="120" r="2.05" fill="#ee0000" stroke="#7a0000" stroke-width="0.45"/><circle cx="568.5" cy="122.7" r="2.05" fill="#ee0000" stroke="#7a0000" stroke-width="0.45"/><circle cx="572.4" cy="123" r="2.05" fill="#ee0000" stroke="#7a0000" stroke-width="0.45"/><circle cx="402" cy="182" r="2.05" fill="#ee0000" stroke="#7a0000" stroke-width="0.45"/><circle cx="410.2" cy="183.6" r="2.05" fill="#ee0000" stroke="#7a0000" stroke-width="0.45"/><circle cx="413.2" cy="187.5" r="2.05" fill="#ee0000" stroke="#7a0000" stroke-width="0.45"/><circle cx="466.6" cy="139.9" r="2.05" fill="#ee0000" stroke="#7a0000" stroke-width="0.45"/><circle cx="413.2" cy="191.6" r="2.05" fill="#ee0000" stroke="#7a0000" stroke-width="0.45"/><circle cx="404" cy="192.2" r="2.05" fill="#ee0000" stroke="#7a0000" stroke-width="0.45"/><circle cx="414.6" cy="196.9" r="2.05" fill="#ee0000" stroke="#7a0000" stroke-width="0.45"/><circle cx="422.2" cy="197.5" r="2.05" fill="#ee0000" stroke="#7a0000" stroke-width="0.45"/><circle cx="405" cy="201" r="2.05" fill="#ee0000" stroke="#7a0000" stroke-width="0.45"/><circle cx="408.1" cy="203.9" r="2.05" fill="#ee0000" stroke="#7a0000" stroke-width="0.45"/><circle cx="411.3" cy="201.8" r="2.05" fill="#ee0000" stroke="#7a0000" stroke-width="0.45"/><circle cx="430.4" cy="207.2" r="2.05" fill="#ee0000" stroke="#7a0000" stroke-width="0.45"/><circle cx="482.6" cy="140.8" r="2.05" fill="#ee0000" stroke="#7a0000" stroke-width="0.45"/><circle cx="484.6" cy="145.6" r="2.05" fill="#ee0000" stroke="#7a0000" stroke-width="0.45"/><circle cx="488.1" cy="147" r="2.05" fill="#ee0000" stroke="#7a0000" stroke-width="0.45"/><circle cx="490.6" cy="144.3" r="2.05" fill="#ee0000" stroke="#7a0000" stroke-width="0.45"/><circle cx="493.3" cy="152.2" r="2.05" fill="#ee0000" stroke="#7a0000" stroke-width="0.45"/><circle cx="498" cy="143.8" r="2.05" fill="#ee0000" stroke="#7a0000" stroke-width="0.45"/><circle cx="507.7" cy="141.7" r="2.05" fill="#ee0000" stroke="#7a0000" stroke-width="0.45"/><circle cx="502.7" cy="144.6" r="2.05" fill="#ee0000" stroke="#7a0000" stroke-width="0.45"/><circle cx="505" cy="144.3" r="2.05" fill="#ee0000" stroke="#7a0000" stroke-width="0.45"/><circle cx="553" cy="54.4" r="6.6" fill="#ee0000" stroke="#3a0000" stroke-width="0.8"/><circle cx="553" cy="74.3" r="6.6" fill="#0a14ee" stroke="#00003a" stroke-width="0.8"/><text x="567.6" y="60" font-size="11.4" font-family="Liberation Sans, sans-serif" fill="#111" stroke="#111" stroke-width="0.12" textLength="85.2" lengthAdjust="spacingAndGlyphs">With Assay Assure</text><text x="567.6" y="79.4" font-size="11.4" font-family="Liberation Sans, sans-serif" fill="#111" stroke="#111" stroke-width="0.12" textLength="99.1" lengthAdjust="spacingAndGlyphs">Without Assay Assure</text><path d="M320.9,329.1L321.0,328.9M112.5,280.1L112.7,280.1M254.3,325.1L254.5,325.0M178.2,272.1L178.1,272.3M252.7,277.3L252.5,277.4M255.1,276.1L255.2,275.9M420.3,280.9L420.4,280.7M225.6,325.1L225.8,325.1M249.4,321.9L249.4,322.1M113.3,325.1L113.6,325.1M161.3,393.5L161.6,393.5M254.3,273.7L254.6,273.7M509.2,289.0L509.4,288.7M59.5,278.5L59.5,278.9M541.4,268.9L541.6,268.6M158.9,395.1L159.1,394.8M45.1,278.2L45.3,277.8M254.3,322.7L253.8,322.7M102.1,278.5L102.3,278.1M236.0,325.9L235.5,325.9M417.1,280.1L417.4,279.7M92.5,341.1L92.6,341.6M187.0,325.1L186.5,325.1M100.5,271.3L100.3,271.8M50.7,331.5L50.2,331.5M153.3,334.7L153.1,335.2M433.1,286.6L432.6,286.6M507.6,286.2L507.5,286.8M62.7,277.7L62.3,277.4M626.8,287.4L627.0,286.8M105.3,278.5L105.4,279.1M135.0,337.1L134.4,337.0M98.9,275.3L99.0,275.9M538.1,269.7L538.5,269.2M96.5,274.5L95.9,274.9M466.7,272.9L467.3,272.6M42.7,277.3L43.2,277.7M51.5,333.9L50.8,333.7M337.8,261.7L337.2,262.1M467.5,269.7L466.9,270.1M95.7,277.7L96.3,277.4M541.4,264.1L541.0,263.5M43.5,273.7L43.7,273.0M42.7,277.3L42.1,276.8M331.4,279.3L330.8,279.8M512.5,289.0L512.6,289.7M328.1,277.7L328.9,277.9M129.4,271.3L129.6,272.0M333.8,280.1L334.0,280.9M255.9,271.3L256.5,271.8M179.0,269.7L179.4,269.0M224.7,321.9L224.9,322.6M150.1,346.8L150.8,347.0M230.4,325.1L231.1,325.3M468.3,267.3L468.5,266.5M631.1,288.2L631.4,287.4M253.5,270.5L253.7,271.3M154.1,345.9L154.3,345.1M249.4,371.9L249.6,371.0M94.8,341.1L95.1,340.3M55.5,276.1L56.0,276.9M39.5,299.7L38.6,299.5M330.6,281.8L331.1,282.4M288.0,298.6L287.5,299.4M365.7,266.5L366.4,265.9M155.7,348.4L155.2,347.6M94.0,338.7L94.2,337.8M183.0,272.1L182.5,272.9M249.4,272.9L250.3,273.1M151.7,331.5L150.9,330.9M316.9,326.7L316.1,326.1M156.5,333.1L155.8,333.7M421.1,323.5L420.5,322.7M183.8,274.5L183.2,275.3M371.3,265.7L370.8,266.5M235.2,322.7L234.6,323.4M214.3,260.1L213.7,259.3M60.6,275.0L61.6,275.0M112.5,370.3L113.5,370.1M37.9,370.3L37.0,369.7M512.5,268.9L511.8,269.6M98.1,270.5L97.5,271.3M194.2,371.1L193.5,371.7M512.5,286.6L511.9,287.4M191.0,367.0L192.0,367.1M247.0,370.7L246.4,370.0M511.6,284.2L511.0,284.9M419.5,275.3L418.9,276.1M370.5,268.9L371.5,268.9M64.3,273.7L63.6,273.0M244.6,369.1L244.5,368.1M153.3,329.1L154.3,329.1M49.1,335.5L48.1,335.2M179.0,274.5L180.0,274.2M209.5,260.6L210.3,261.1M543.8,269.7L544.8,269.6M280.8,297.8L279.9,297.2M114.9,285.8L114.3,284.9M319.3,326.7L320.4,326.7M37.0,296.2L37.7,297.0M114.9,328.3L114.3,327.4M109.3,367.9L108.4,367.2M559.6,291.4L559.0,290.5M188.6,367.9L188.6,368.9M158.1,392.3L157.2,392.9M368.1,268.9L368.3,267.8M216.7,260.9L216.5,259.8M541.4,272.1L542.0,271.2M232.8,328.3L233.0,327.2M111.7,367.5L112.8,367.8M189.4,370.3L190.4,370.8M368.1,333.9L367.7,332.8M369.8,330.6L370.9,331.0M371.7,333.0L371.2,334.0M371.2,334.0L370.2,334.6M370.9,331.0L371.6,331.9M369.0,334.5L368.1,333.9M368.7,330.9L369.8,330.6M370.2,334.6L369.0,334.5M367.9,331.7L368.7,330.9M371.7,333.0L371.6,331.9M459.1,318.6L458.0,319.0M66.0,276.9L64.8,276.6M110.1,370.3L110.3,369.1M285.1,301.3L285.0,300.1M39.5,372.7L38.9,371.6M251.9,325.1L251.3,324.0M368.9,262.5L367.7,262.6M546.2,264.1L546.1,265.3M110.9,364.6L111.9,365.3M545.4,267.3L544.1,267.3M184.6,327.5L184.0,326.4M280.0,293.8L281.2,294.0M470.7,268.1L471.3,267.0M111.7,321.9L112.7,322.6M220.7,323.5L221.4,324.5M337.8,259.3L338.8,258.5M318.5,329.1L317.9,327.9M465.9,267.3L465.1,268.3M44.6,275.5L44.7,274.2M432.3,289.8L433.2,288.8M191.8,370.3L192.9,369.5M429.9,286.6L430.1,287.9M184.6,323.5L185.6,322.6M114.1,367.9L112.8,367.8M471.5,265.7L471.3,267.0M365.7,287.4L366.7,286.5M40.3,369.1L40.5,367.8M112.5,283.4L113.6,282.6M368.1,266.5L368.3,267.8M43.5,273.7L44.7,274.2M432.3,283.0L431.7,284.2M510.0,266.5L511.1,267.3M154.1,332.3L155.2,331.5M45.3,277.8L45.5,276.5M386.6,324.3L387.7,325.0M321.7,326.7L320.4,326.7M469.1,272.1L470.0,271.1M216.7,258.5L216.5,259.8M318.5,329.1L318.3,330.4M130.2,277.7L131.2,276.8M44.6,275.5L45.5,276.5M182.2,325.9L182.1,324.5M42.7,369.8L41.4,370.3M465.1,269.7L465.1,268.3M546.2,269.7L544.8,269.6M193.4,367.9L194.8,367.6M283.2,297.0L284.3,297.8M162.1,391.1L160.7,391.0M183.8,269.7L184.6,270.9M114.1,322.7L112.7,322.6M543.0,266.5L544.1,267.3M523.0,363.4L524.4,363.9M525.1,324.2L526.5,324.6M523.5,368.4L522.0,368.3M525.5,329.1L524.1,329.1M455.7,323.4L454.6,322.6M454.3,319.9L455.3,318.9M527.4,327.2L527.3,325.8M525.4,366.4L525.2,365.0M459.0,321.6L458.9,320.1M454.1,321.3L454.3,319.9M522.5,326.9L522.8,325.5M520.4,366.1L520.7,364.8M521.6,363.7L523.0,363.4M455.3,318.9L456.7,318.6M523.7,324.5L525.1,324.2M526.8,328.4L525.5,329.1M524.7,367.7L523.5,368.4M458.4,322.8L457.1,323.5M458.0,319.0L458.9,320.1M459.0,321.6L458.4,322.8M527.4,327.2L526.8,328.4M525.4,366.4L524.7,367.7M520.7,364.8L521.6,363.7M522.8,325.5L523.7,324.5M457.1,323.5L455.7,323.4M456.7,318.6L458.0,319.0M520.9,367.5L520.4,366.1M523.0,328.2L522.5,326.9M522.0,368.3L520.9,367.5M524.1,329.1L523.0,328.2M131.8,334.7L131.2,336.0M546.2,269.7L547.3,268.9M154.1,332.3L152.7,332.8M105.3,275.3L106.7,275.0M366.5,290.6L365.1,290.3M233.6,325.9L233.0,327.2M163.7,395.9L162.3,395.8M251.9,322.7L251.3,324.0M181.4,274.5L180.0,274.2M191.8,370.3L190.4,370.8M364.1,291.4L365.1,290.3M510.0,268.9L508.6,268.6M287.2,294.6L286.3,295.8M336.2,277.7L335.4,276.5M53.1,330.7L52.1,329.6M158.1,330.7L157.1,329.6M280.8,300.2L281.8,299.1M131.8,273.7L130.5,274.5M103.7,281.8L102.7,280.6M555.0,286.6L553.9,287.6M181.4,268.9L181.6,270.4M528.8,325.9L527.3,325.8M189.4,370.3L188.6,368.9M112.5,283.4L111.1,283.9M330.6,276.1L330.2,274.6M470.7,268.1L469.4,268.9M132.6,330.7L132.8,332.2M47.5,330.7L45.9,330.9M512.5,266.5L511.1,267.3M341.0,260.1L339.7,260.9M333.0,274.5L332.4,276.0M99.0,275.9L100.5,276.3M456.2,317.0L456.7,318.6M155.7,348.4L155.9,349.9M211.9,260.9L210.3,261.1M109.3,367.9L110.3,369.1M393.0,325.9L391.4,325.5M187.0,321.9L185.6,322.6M193.4,367.9L192.0,367.1M105.3,275.3L103.9,274.5M633.5,289.0L632.1,289.7M368.1,268.9L368.6,270.4M511.6,264.1L510.2,264.8M631.9,285.8L630.5,284.9M389.8,325.1L389.3,326.6M155.7,328.3L154.3,329.1M543.8,263.3L543.2,264.8M107.7,282.6L109.2,282.0M43.5,373.5L42.1,372.6M333.8,276.9L333.3,278.5M97.3,341.9L95.8,342.6M633.3,323.8L632.0,322.8M636.0,318.7L637.0,320.0M476.2,331.3L477.3,330.1M335.2,319.7L336.4,318.5M632.9,318.5L634.5,318.2M478.9,329.7L480.4,330.3M337.9,318.2L339.5,318.7M481.6,333.2L481.4,331.6M340.6,321.6L340.5,320.0M637.1,321.6L637.0,320.0M338.4,323.9L336.8,323.8M479.4,335.4L477.8,335.4M637.1,321.6L636.4,323.1M475.8,332.9L476.2,331.3M631.4,321.3L631.7,319.7M334.9,321.3L335.2,319.7M476.4,334.4L475.8,332.9M335.5,322.8L334.9,321.3M631.7,319.7L632.9,318.5M481.6,333.2L480.8,334.6M340.6,321.6L339.9,323.1M636.4,323.1L635.0,323.9M339.9,323.1L338.4,323.9M480.8,334.6L479.4,335.4M336.4,318.5L337.9,318.2M477.3,330.1L478.9,329.7M632.0,322.8L631.4,321.3M477.8,335.4L476.4,334.4M336.8,323.8L335.5,322.8M634.5,318.2L636.0,318.7M333.8,276.9L332.4,276.0M151.7,331.5L152.7,332.8M40.3,369.1L41.4,370.3M316.9,326.7L317.9,327.9M320.9,323.5L319.5,324.3M280.8,297.8L281.8,299.1M547.8,267.3L547.3,268.9M558.8,286.6L557.4,285.7M369.2,292.7L368.3,291.3M214.3,260.1L214.6,261.7M333.8,276.9L335.4,276.5M426.7,285.8L428.3,286.0M278.4,297.8L279.9,297.2M421.1,323.5L421.4,325.1M155.7,351.6L155.9,349.9M105.3,275.3L104.8,276.9M512.5,289.0L511.9,287.4M213.5,264.1L212.5,265.4M429.9,286.6L428.3,286.0M510.0,266.5L510.2,264.8M149.3,330.7L150.9,330.9M37.9,370.3L38.9,371.6M110.9,324.3L109.2,324.5M333.8,280.1L333.3,278.5M98.9,275.3L98.4,273.7M61.9,271.3L60.7,272.5M631.9,285.8L631.4,287.4M543.0,266.5L543.2,264.8M558.8,286.6L558.3,288.2M283.2,297.0L283.4,295.3M368.9,272.1L368.6,270.4M389.8,325.1L391.4,325.5M105.3,278.5L104.8,276.9M213.5,264.1L215.2,263.9M374.5,264.1L372.9,264.5M223.1,324.3L221.4,324.5M193.4,367.9L192.9,369.5M557.2,290.6L559.0,290.5M94.8,341.1L95.8,342.6M112.5,327.5L114.3,327.4M341.8,264.1L340.3,263.1M155.7,335.5L155.8,333.7M423.5,328.3L422.0,327.3M213.5,264.1L212.1,262.9M108.5,365.4L108.4,367.2M92.5,273.7L94.1,273.1M112.5,327.5L111.1,326.4M557.2,290.6L555.8,289.5M368.9,262.5L369.9,264.0M368.1,266.5L366.4,265.9M366.5,264.1L366.4,265.9M102.1,274.5L103.9,274.5M509.2,263.3L510.2,264.8M631.1,288.2L632.1,289.7M36.2,302.6L36.1,300.8M232.8,323.5L234.6,323.4M182.2,276.9L180.3,276.8M469.1,272.1L467.3,272.6M182.2,325.9L184.0,326.4M319.3,326.7L317.9,327.9M37.0,367.9L37.0,369.7M330.6,276.1L332.4,276.0M40.3,303.4L39.3,301.8M278.4,297.8L278.7,299.7M393.0,325.9L392.0,327.5M366.5,264.1L367.7,262.6M247.0,367.9L248.0,366.2M510.0,268.9L511.8,269.6M318.5,332.3L318.3,330.4M94.0,338.7L95.1,340.3M389.8,325.1L390.7,323.4M465.1,269.7L466.9,270.1M432.3,289.8L430.5,290.3M320.9,323.5L322.3,324.8M155.7,328.3L157.1,329.6M131.8,334.7L133.7,334.7M554.2,290.6L555.8,289.5M510.0,268.9L511.1,267.3M233.6,325.9L235.5,325.9M366.5,290.6L368.3,291.3M468.3,267.3L469.4,268.9M366.5,290.6L367.6,289.0M256.7,273.7L256.5,271.8M235.2,329.9L236.2,328.2M58.7,269.2L58.5,271.2M371.3,265.7L372.9,264.5M251.9,322.7L253.8,322.7M222.8,328.3L223.3,326.4M330.6,281.8L330.8,279.8M45.1,278.2L43.2,277.7M244.6,369.1L246.4,370.0M182.2,276.9L183.2,275.3M153.3,350.8L152.7,348.9M181.4,274.5L183.2,275.3M321.7,326.7L322.3,324.8M538.9,264.9L539.7,266.7M183.0,272.1L184.6,270.9M181.4,274.5L182.5,272.9M33.4,300.7L34.2,298.9M154.1,345.9L155.2,347.6M181.4,268.9L179.4,269.0M541.4,264.1L543.2,264.8M180.6,272.1L181.6,270.4M91.6,337.9L90.7,339.7M280.8,300.2L282.1,301.7M369.7,332.6L371.2,334.0M153.3,334.7L152.7,332.8M337.8,261.7L339.7,260.9M60.6,275.0L59.1,276.3M247.0,367.9L248.9,368.7M548.6,270.5L547.3,268.9M467.5,269.7L469.4,268.9M194.2,371.1L192.9,369.5M47.5,330.7L47.7,332.8M96.5,274.5L98.4,273.7M156.5,333.1L155.2,331.5M368.9,287.4L367.6,289.0M389.8,325.1L387.7,325.0M211.9,260.9L212.1,262.9M180.6,272.1L182.5,272.9M39.5,299.7L39.3,301.8M256.7,273.7L254.6,273.7M282.4,292.2L281.2,294.0M111.7,367.5L110.3,369.1M249.4,325.1L251.3,324.0M223.1,324.3L223.3,326.4M545.4,267.3L546.1,265.3M110.9,324.3L111.1,326.4M108.5,276.1L106.7,275.0M372.1,262.5L372.9,264.5M331.4,279.3L333.3,278.5M255.1,320.3L252.9,320.2M255.9,271.3L253.7,271.3M512.5,286.6L511.0,284.9M102.1,278.5L102.7,280.6M182.2,322.3L182.1,324.5M373.7,266.5L372.9,264.5M150.9,333.9L152.7,332.8M371.3,265.7L369.9,264.0M111.7,367.5L111.9,365.3M214.3,260.1L216.5,259.8M373.7,268.9L371.5,268.9M92.5,341.1L90.7,339.7M228.0,329.1L226.5,327.4M344.2,274.5L346.4,274.5M134.2,382.3L136.4,382.3M247.0,367.9L246.4,370.0M100.5,280.9L102.7,280.6M50.7,331.5L50.8,333.7M631.1,288.2L628.9,288.7M210.3,264.9L212.5,265.4M433.1,286.6L433.2,288.8M59.5,278.5L59.1,276.3M365.7,333.9L367.7,332.8M97.3,339.5L95.1,340.3M423.5,324.3L421.4,325.1M217.5,264.1L215.2,263.9M626.3,284.6L627.0,286.8M243.8,365.9L244.5,368.1M433.1,286.6L434.5,284.7M47.5,278.5L45.3,277.8M94.8,341.1L92.6,341.6M339.7,260.9L340.3,263.1M421.4,325.1L422.0,327.3M419.8,278.5L420.4,280.7M254.6,273.7L255.2,275.9M214.6,261.7L215.2,263.9M320.4,326.7L321.0,328.9M469.4,268.9L470.0,271.1M543.8,269.7L542.0,271.2M125.4,276.1L126.1,273.9M368.9,287.4L366.7,286.5M189.4,326.7L187.2,327.4M96.5,337.1L94.2,337.8M236.0,325.9L236.2,328.2M187.0,325.1L187.2,327.4M50.7,331.5L52.1,329.6M112.5,283.4L114.3,284.9M252.7,277.3L252.1,274.9M472.3,270.5L470.0,271.1M541.4,268.9L542.0,271.2M114.1,367.9L113.5,370.1M254.3,322.7L254.5,325.0M102.1,274.5L100.5,276.3M165.0,377.5L167.3,378.3M179.0,274.5L178.1,272.3M62.7,277.7L64.8,276.6M56.3,272.1L58.5,271.2M61.9,271.3L63.6,273.0M370.5,268.9L368.6,270.4M55.5,276.1L57.2,274.4M251.9,370.3L249.6,371.0M95.7,277.7L95.7,280.1M170.9,280.9L168.5,280.9M281.6,288.2L284.0,288.2M361.7,291.4L364.1,291.4M365.7,266.5L365.7,268.9M251.1,267.3L248.7,267.3M131.8,395.1L134.2,395.1M156.5,333.1L158.9,333.1M82.8,371.1L85.2,371.1M622.3,365.4L624.7,365.4M137.2,333.1L137.2,335.5M545.4,267.3L547.8,267.3M275.9,336.3L278.4,336.3M582.1,263.3L584.5,263.3M337.8,259.3L337.8,261.7M621.5,367.9L623.9,367.9M650.4,365.9L652.8,365.9M189.4,324.3L189.4,326.7M47.5,330.7L49.3,329.1M223.1,324.3L224.9,322.6M506.0,264.4L506.7,266.7M161.6,393.5L162.3,395.8M225.8,325.1L226.5,327.4M558.3,288.2L559.0,290.5M130.5,274.5L131.2,276.8M133.7,334.7L134.4,337.0M113.6,325.1L114.3,327.4M248.9,368.7L249.6,371.0M41.4,370.3L42.1,372.6M162.1,391.1L161.6,393.5M189.4,324.3L191.8,323.9M296.8,300.7L299.2,301.0M110.9,324.3L112.7,322.6M330.6,276.1L328.9,277.9M284.3,297.8L285.0,300.1M61.6,275.0L62.3,277.4M251.1,367.5L248.9,368.7M316.1,331.5L318.3,330.4M576.5,362.2L578.9,362.7M237.9,457.0L237.4,454.6M56.3,272.1L57.2,274.4M254.3,273.7L252.1,274.9M45.5,333.9L47.7,332.8M257.5,276.9L255.2,275.9M631.9,292.2L632.1,289.7M49.1,335.5L50.8,333.7M232.8,323.5L231.1,325.3M548.6,264.9L546.1,265.3M288.0,301.8L287.5,299.4M251.9,322.7L249.4,322.1M289.6,366.6L292.0,365.9M95.9,274.9L96.3,277.4M47.7,332.8L48.1,335.2M190.4,370.8L190.8,373.2M430.1,287.9L430.5,290.3M60.6,275.0L60.7,272.5M390.1,329.1L392.0,327.5M56.3,279.3L56.0,276.9M626.8,287.4L628.9,288.7M233.6,325.9L231.1,325.3M184.6,323.5L186.5,325.1M538.9,264.9L541.0,263.5M419.8,278.5L418.9,276.1M525.0,326.7L526.5,324.6M522.9,365.9L524.4,363.9M456.6,321.1L459.0,321.6M225.6,325.1L224.9,322.6M283.2,297.0L281.8,299.1M131.8,334.7L129.3,334.1M40.3,278.5L42.1,276.8M155.2,331.5L154.3,329.1M98.4,273.7L97.5,271.3M432.6,286.6L431.7,284.2M586.1,260.9L588.5,260.1M277.6,293.0L280.0,293.8M416.3,374.3L418.7,373.5M158.1,347.6L158.9,350.0M139.6,336.3L138.8,338.7M94.8,289.0L95.7,286.6M111.7,277.7L112.5,280.1M91.6,282.6L90.8,285.0M56.3,332.3L57.1,334.7M53.1,330.7L53.9,333.1M272.7,318.6L273.5,321.1M426.7,324.3L429.1,325.1M318.5,332.3L319.3,334.7M488.4,321.9L490.8,321.1M293.6,300.2L291.2,299.4M474.7,261.7L473.9,264.1M289.6,267.3L288.8,269.7M393.0,325.9L395.4,325.1M624.7,365.4L623.9,367.9M275.9,336.3L276.8,338.7M321.7,326.7L324.1,327.5M250.3,260.9L249.4,258.5M137.2,335.5L139.6,336.3M282.4,292.2L284.8,293.0M316.1,331.5L315.3,333.9M56.3,332.3L53.9,333.1M110.1,263.3L112.5,262.5M71.6,451.3L74.0,452.1M86.8,334.7L89.2,335.5M98.1,270.5L100.5,271.3M34.6,398.4L37.0,399.2M37.0,399.2L39.5,398.4M41.1,329.9L43.5,329.1M43.5,329.1L45.9,328.3M150.1,343.5L152.5,342.7M222.3,321.1L224.7,321.9M155.7,348.4L158.1,347.6M153.3,350.8L155.7,351.6M90.0,333.1L92.5,333.9M135.0,329.9L132.6,330.7M254.3,322.7L256.7,323.5M64.3,273.7L66.8,272.9M150.9,328.3L153.3,329.1M162.1,272.1L164.5,272.9M284.0,288.2L286.4,289.0M255.1,320.3L254.3,322.7M90.0,333.1L89.2,335.5M373.7,268.9L372.9,271.3M253.5,270.5L254.3,268.1M364.1,294.6L366.5,293.8M548.6,270.5L551.0,271.3M251.9,325.1L251.1,327.5M364.1,263.3L366.5,264.1M114.9,285.8L114.1,288.2M512.5,286.6L514.9,287.4M37.9,274.0L40.2,274.9M252.1,274.9L250.3,273.1M102.3,278.1L100.5,276.3M95.9,274.9L94.1,273.1M282.4,304.2L282.1,301.7M555.0,286.6L557.4,285.7M161.3,393.5L159.1,394.8M239.2,438.0L239.0,440.6M184.6,327.5L187.2,327.4M283.4,295.3L281.2,294.0M60.7,272.5L58.5,271.2M98.9,278.5L99.0,275.9M134.2,467.4L133.2,469.8M541.4,260.9L541.0,263.5M186.2,272.9L184.6,270.9M38.6,299.5L37.7,297.0M113.6,282.6L112.7,280.1M133.7,334.7L132.8,332.2M130.5,274.5L129.6,272.0M39.5,372.7L42.1,372.6M628.7,283.0L630.5,284.9M152.7,348.9L150.8,347.0M159.1,394.8L157.2,392.9M42.1,276.8L40.2,274.9M111.1,283.9L109.2,282.0M36.1,300.8L34.2,298.9M128.0,275.8L126.1,273.9M509.4,288.7L507.5,286.8M508.6,268.6L506.7,266.7M365.1,290.3L363.2,288.4M285.0,300.1L287.5,299.4M212.7,256.9L213.7,259.3M45.9,328.3L45.9,330.9M368.1,325.1L365.7,326.2M97.3,339.5L99.7,340.6M63.5,424.5L61.1,425.6M70.8,400.8L69.6,403.2M514.0,283.0L511.6,284.2M574.1,363.4L576.5,362.2M132.6,339.0L134.4,337.0M421.4,325.1L418.9,326.3M419.8,278.5L417.4,279.7M539.7,266.7L538.5,269.2M340.2,417.1L342.6,418.4M131.8,383.6L134.2,382.3M656.8,329.4L656.8,326.7M497.2,319.8L494.8,321.1M195.0,281.4L192.6,280.1M135.0,337.1L137.2,335.5M316.9,323.5L319.5,324.3M71.2,398.0L74.0,398.4M98.5,256.4L101.3,256.1M253.5,317.5L252.9,320.2M71.2,398.0L70.8,400.8M116.8,323.9L117.3,326.7M283.5,269.2L280.8,269.7M134.2,467.4L136.7,466.3M462.3,268.6L465.1,268.3M284.3,297.8L286.3,295.8M511.9,287.4L509.4,288.7M38.6,299.5L36.1,300.8M130.5,274.5L128.0,275.8M162.9,417.6L162.1,420.4M109.3,273.4L108.5,276.1M492.4,331.5L495.1,332.3M654.1,325.9L656.8,326.7M333.3,333.9L330.6,334.7M250.3,319.1L249.4,321.9M623.9,362.7L624.7,365.4M652.8,365.9L653.6,368.6M578.9,362.7L578.1,365.4M99.7,340.6L99.7,343.5M431.5,323.5L429.1,325.1M256.7,323.5L259.1,325.1M289.6,296.2L288.0,298.6M291.2,303.4L292.8,305.8M190.2,278.5L192.6,280.1M150.1,343.5L147.7,345.1M284.8,305.8L282.4,304.2M114.9,328.3L117.3,326.7M59.5,428.1L61.1,425.6M150.9,393.5L152.5,395.9M62.7,282.6L64.3,285.0M37.0,399.2L35.4,401.6M40.3,278.5L41.9,280.9M247.0,271.3L249.4,272.9M53.1,274.5L55.5,276.1M586.1,260.9L584.5,263.3M471.5,265.7L473.9,264.1M147.7,345.1L150.1,346.8M147.7,341.9L150.1,343.5M164.5,272.9L166.9,274.5M134.2,275.3L131.8,273.7M544.9,393.5L546.5,395.9M236.0,325.9L238.4,324.3M215.1,255.3L212.7,256.9M493.2,323.5L494.8,321.1M483.5,258.5L481.1,260.1M34.6,366.2L37.0,367.9M187.0,321.9L189.4,320.3M109.3,320.3L111.7,321.9M179.8,327.5L182.2,325.9M103.7,265.7L106.1,264.1M70.8,400.8L73.2,402.4M34.6,398.4L36.2,395.9M66.8,256.1L68.4,258.5M66.0,264.1L67.5,266.5M466.7,272.9L464.3,274.5M257.5,276.9L255.9,279.3M280.8,393.5L282.4,391.1M217.5,264.1L219.9,265.7M292.8,305.8L295.2,307.4M313.7,329.9L316.1,331.5M334.6,271.3L337.0,269.7M235.2,322.7L236.8,320.3M548.6,264.9L551.0,266.5M634.3,321.1L632.0,322.8M478.7,332.6L475.8,332.9M337.8,321.1L334.9,321.3M47.5,273.4L44.7,274.2M653.6,328.8L654.1,325.9M32.2,272.1L32.7,275.0M369.2,292.7L366.5,293.8M288.5,264.6L289.6,267.3M250.3,279.3L252.5,277.4M98.5,256.4L99.2,259.3M52.6,297.0L55.5,296.2M578.1,392.3L577.3,395.1M334.6,337.9L333.3,340.6M653.6,328.8L650.9,327.5M234.4,454.6L237.4,454.6M479.5,267.0L481.1,264.4M289.6,366.6L291.2,369.1M247.0,363.4L248.0,366.2M548.1,390.6L549.1,393.5M417.1,328.8L418.9,326.3M495.1,317.5L497.2,319.8M482.3,327.8L480.4,330.3M418.7,320.3L420.5,322.7M134.2,279.3L135.6,282.1M453.0,371.1L455.4,373.0M505.7,269.7L508.6,268.6M94.8,269.7L97.5,271.3M239.2,327.5L236.2,328.2M544.6,272.9L542.0,271.2M385.8,327.5L387.7,325.0M275.5,341.6L276.8,338.7M445.7,258.0L444.4,260.9M464.6,264.4L465.9,267.3M538.5,275.6L541.4,276.9M187.0,268.9L184.6,270.9M41.1,271.3L43.7,273.0M138.8,271.3L137.2,274.0M139.6,336.3L141.2,333.6M578.1,365.4L580.5,367.5M384.2,436.9L386.6,434.8M512.5,259.6L514.9,261.7M191.8,457.8L191.8,461.0M319.3,334.7L322.5,334.7M53.9,285.8L53.9,289.0M331.4,337.9L334.6,337.9M458.2,370.3L461.4,370.3M255.1,320.3L258.3,320.3M360.9,258.5L360.9,261.7M277.6,269.7L280.8,269.7M331.4,365.9L334.6,365.9M62.7,282.6L59.5,282.6M92.5,333.9L95.7,333.9M68.4,451.3L71.6,451.3M31.4,398.4L34.6,398.4M50.7,278.5L47.5,278.5M194.6,390.6L192.6,393.2M134.2,379.1L134.2,382.3M438.0,366.6L438.0,369.8M94.8,289.0L94.8,292.2M535.7,264.9L538.9,264.9M423.5,324.3L426.7,324.3M318.5,274.5L321.7,274.5M488.0,318.6L488.4,321.9M282.4,391.1L285.6,390.6M296.8,300.7L293.6,300.2M92.5,277.3L95.7,277.7M463.9,417.1L467.2,417.6M263.9,421.3L267.1,422.0M247.0,363.4L250.3,362.7M484.3,263.8L481.1,264.4M134.2,275.3L137.2,274.0M648.8,330.4L651.2,332.6M485.9,260.9L484.3,263.8M44.6,434.8L47.5,436.4M365.7,326.2L364.1,329.1M543.3,390.6L544.9,393.5M130.2,380.7L131.8,383.6M532.0,276.1L534.9,277.7M193.4,272.1L190.2,271.3M288.8,269.7L288.0,272.9M367.3,280.1L370.5,279.3M219.9,265.7L220.7,262.5M336.2,256.1L339.4,255.3M95.7,333.9L96.5,337.1M96.5,283.4L95.7,286.6M496.4,325.9L497.2,329.1M493.2,323.5L492.4,326.7M289.6,296.2L292.8,295.4M289.6,296.2L290.4,293.0M623.9,367.9L624.7,371.1M321.7,274.5L324.9,273.7M302.4,300.2L299.2,301.0M510.0,272.9L510.8,276.1M330.6,334.7L331.4,337.9M246.2,325.9L249.4,325.1M306.5,322.7L305.7,319.4M90.0,333.1L90.8,329.9M574.1,363.4L574.9,366.6M291.2,299.4L288.0,298.6M508.4,260.1L509.2,263.3M192.6,262.5L193.4,265.7M278.4,336.3L281.6,335.5M118.1,284.2L121.3,285.0M367.3,297.0L366.5,293.8M153.3,339.5L152.5,342.7M461.9,260.1L465.1,260.9M251.1,267.3L254.3,268.1M103.7,270.5L106.9,269.7M100.5,271.3L103.7,270.5M66.0,281.8L62.7,282.6M123.0,295.4L126.2,296.2M59.5,282.6L56.3,283.4M187.0,277.7L190.2,278.5M367.3,280.1L368.1,283.4M321.7,395.1L322.5,398.4M41.9,268.1L41.1,271.3M95.7,280.1L96.5,283.4M40.3,285.0L39.5,288.2M247.8,264.1L248.7,267.3M513.2,279.8L514.0,283.0M284.8,273.7L288.0,272.9M536.5,366.2L535.7,369.4M292.8,295.4L296.0,296.2M368.1,283.4L371.3,284.2M158.9,350.0L159.7,353.2M339.4,255.3L338.8,258.5M166.6,278.2L168.5,280.9M185.9,365.9L188.6,367.9M143.2,336.3L141.2,333.6M169.8,277.3L166.6,278.2M549.7,418.1L552.9,417.1M540.1,466.3L543.3,465.3M338.6,266.0L340.3,263.1M450.0,327.5L451.1,324.3M646.4,258.5L649.6,259.6M514.0,283.0L517.3,284.2M286.4,365.4L289.6,366.6M288.0,370.3L291.2,369.1M510.0,272.9L506.8,274.0M172.1,434.8L170.9,438.0M651.5,362.7L650.4,365.9M655.2,362.7L656.3,365.9M557.7,418.1L558.8,421.3M549.4,277.7L551.8,275.3M483.5,258.5L485.9,260.9M239.2,365.4L236.8,367.9M50.7,278.5L53.1,280.9M56.3,283.4L53.9,285.8M57.9,298.6L55.5,296.2M34.6,269.7L32.2,272.1M57.1,425.6L59.5,428.1M389.8,395.9L392.2,393.5M327.3,294.6L329.7,297.0M322.5,398.4L324.9,400.8M316.1,272.1L318.5,274.5M117.3,278.5L114.9,276.1M180.6,263.3L183.0,265.7M493.2,323.5L490.8,321.1M114.1,362.7L111.9,365.3M283.5,269.2L285.6,266.5M645.5,419.2L648.3,417.1M548.3,253.7L551.0,251.6M545.9,276.1L544.6,272.9M195.8,261.2L192.6,262.5M536.5,418.4L539.7,417.1M99.2,259.3L100.5,262.5M368.1,283.4L366.7,286.5M308.6,317.5L305.7,319.4M288.5,264.6L285.6,266.5M146.1,395.1L148.9,397.1M428.3,282.6L428.3,286.0M423.2,277.7L419.8,278.5M546.5,395.9L549.1,393.5M577.3,369.1L574.9,366.6M520.5,397.6L524.0,397.6M641.2,394.3L644.7,394.3M539.7,390.6L543.3,390.6M652.8,365.9L656.3,365.9M491.6,317.5L495.1,317.5M380.9,395.5L380.9,391.9M433.9,366.2L433.9,369.8M364.1,284.2L366.7,286.5M347.7,398.4L351.2,398.7M470.4,366.2L473.9,366.6M66.8,377.5L67.1,381.0M464.6,264.4L465.1,260.9M433.5,362.7L433.9,366.2M648.8,330.4L650.9,327.5M165.7,283.0L168.5,280.9M575.4,333.6L578.9,333.1M360.9,261.7L364.1,263.3M333.0,274.5L334.6,271.3M192.6,262.5L189.4,264.1M331.4,293.8L329.7,297.0M290.4,362.7L292.0,365.9M251.9,422.0L255.1,423.6M49.1,281.8L47.5,278.5M193.4,320.7L191.8,323.9M67.5,266.5L69.2,269.7M172.6,267.3L174.2,270.5M183.0,265.7L181.4,268.9M189.4,363.8L191.0,367.0M65.2,269.7L66.8,272.9M114.9,285.8L118.1,284.2M53.1,280.9L56.3,279.3M319.3,278.5L320.9,281.8M288.0,301.8L291.2,303.4M337.8,362.7L341.0,364.3M431.5,323.5L433.1,326.7M105.3,260.6L108.5,258.9M31.4,367.9L34.6,366.2M41.9,280.9L45.1,282.6M66.0,276.9L69.2,278.5M111.7,277.7L114.9,276.1M111.7,277.7L108.5,276.1M273.5,369.1L275.1,372.3M413.9,282.6L417.1,284.2M368.9,276.1L370.5,279.3M537.8,422.0L541.4,421.3M344.2,397.6L347.7,398.4M210.0,252.0L213.5,251.2M105.3,260.6L106.1,264.1M434.7,398.4L438.3,399.2M161.3,268.6L162.1,272.1M245.0,260.9L241.4,260.1M56.3,435.8L55.5,439.3M642.8,259.3L646.4,258.5M344.2,321.1L340.6,321.6M89.2,397.1L86.8,394.3M409.9,283.0L407.4,285.8M236.8,362.7L239.2,365.4M269.5,455.7L271.9,452.9M395.4,395.9L393.0,398.7M247.8,276.6L250.3,279.3M450.0,327.5L452.2,330.4M546.2,417.1L549.7,418.1M473.6,466.3L477.1,465.3M512.5,466.3L516.0,465.3M530.1,466.3L533.6,465.3M59.5,282.6L59.5,278.9M105.3,369.1L108.4,367.2M337.8,273.7L335.4,276.5M35.0,259.6L38.6,259.6M442.0,366.6L442.0,370.3M399.1,325.1L395.4,325.1M302.1,390.6L298.4,390.6M285.6,390.6L285.6,394.3M641.2,390.6L641.2,394.3M83.1,367.0L86.8,367.0M580.8,267.6L577.3,266.5M148.9,397.1L152.5,395.9M70.8,380.7L67.1,381.0M645.1,390.6L644.7,394.3M467.2,417.6L467.5,421.3M166.9,274.5L166.6,278.2M331.4,434.8L331.0,438.5M539.4,321.9L539.7,325.6M35.0,259.6L35.4,263.3M251.9,370.3L255.6,369.8M399.1,325.1L398.6,328.8M429.6,328.8L429.1,325.1M340.7,269.2L337.0,269.7M510.0,272.9L511.8,269.6M532.5,367.5L535.7,369.4M319.3,270.2L316.1,272.1M349.6,375.1L351.6,378.3M154.4,422.0L152.5,425.2M84.4,279.8L87.6,281.8M228.0,391.9L226.0,395.1M508.9,279.3L510.8,276.1M532.0,276.1L530.1,279.3M334.6,365.9L337.8,367.9M582.9,258.9L586.1,260.9M116.5,439.6L120.1,440.9M536.5,418.4L537.8,422.0M361.2,391.9L362.5,395.5M515.7,256.1L518.1,258.9M324.6,392.7L321.7,395.1M162.1,379.9L165.0,377.5M82.8,371.1L80.4,373.9M195.8,269.2L193.4,272.1M246.6,256.1L249.4,258.5M261.5,418.4L263.9,421.3M300.0,434.8L299.2,438.5M51.5,438.5L52.3,434.8M60.3,422.0L61.1,425.6M89.2,397.1L88.4,400.8M276.8,436.4L277.6,440.1M312.1,399.2L311.3,402.9M277.6,269.7L276.8,273.4M342.6,418.4L344.0,422.0M463.9,417.1L463.0,420.8M250.3,417.1L253.9,418.1M607.0,372.3L603.8,370.3M338.6,266.0L340.7,269.2M468.8,452.5L466.7,455.7M503.6,291.7L506.8,293.8M516.9,290.6L514.9,287.4M166.9,438.0L163.7,440.1M566.9,370.3L569.0,367.0M111.7,256.9L108.5,258.9M161.3,436.9L164.5,434.8M357.3,466.3L355.3,469.5M131.0,465.3L134.2,467.4M74.0,452.1L76.1,455.4M497.2,329.1L495.1,332.3M526.9,277.3L530.1,279.3M451.1,324.3L454.6,322.6M455.4,367.5L458.2,370.3M203.1,452.5L206.8,451.3M311.3,402.9L315.0,404.0M455.4,373.0L458.2,370.3M272.7,318.6L276.4,317.5M384.6,390.6L385.8,394.3M36.6,420.8L35.4,417.1M239.2,438.0L243.0,438.5M549.7,418.1L549.4,422.0M134.2,395.1L137.2,392.7M251.1,298.1L249.4,294.6M90.8,270.2L92.5,273.7M33.0,362.7L34.6,366.2M228.0,391.9L231.5,393.5M383.0,321.9L386.6,320.3M36.6,420.8L33.0,422.4M331.4,365.9L329.7,369.4M191.0,258.9L192.6,262.5M545.9,276.1L549.4,277.7M255.6,369.8L259.4,370.3M48.8,296.5L52.6,297.0M359.6,438.5L355.7,438.0M380.9,391.9L384.6,390.6M361.2,391.9L364.9,390.6M552.9,390.6L554.2,394.3M558.4,436.1L562.0,434.8M136.7,466.3L140.4,465.0M104.0,469.0L105.3,465.3M46.2,440.1L47.5,436.4M76.1,455.4L78.3,452.1M459.8,452.9L457.5,456.2M416.3,323.5L418.9,326.3M134.2,279.3L131.2,276.8M175.3,439.6L176.2,435.8M566.1,364.3L569.0,367.0M247.5,396.4L250.3,393.5M247.5,390.6L250.3,393.5M346.7,418.1L349.6,420.8M201.0,337.4L203.9,334.7M640.7,273.7L636.7,273.7M646.4,365.9L650.4,365.9M541.4,421.3L545.4,421.3M549.4,434.8L553.4,434.8M644.7,274.5L648.0,272.1M164.5,434.8L166.9,438.0M392.2,393.5L395.4,395.9M478.7,439.0L481.1,435.8M493.2,323.5L496.4,325.9M283.2,397.6L285.6,394.3M410.7,288.2L413.9,290.6M368.9,287.4L372.1,289.8M114.1,253.7L111.7,256.9M127.0,383.1L130.2,380.7M577.3,369.1L579.7,372.3M578.9,333.1L581.3,336.3M63.5,260.9L66.0,264.1M250.3,260.9L247.8,264.1M121.3,277.7L118.9,274.5M69.2,269.7L66.8,272.9M188.6,469.5L191.0,466.3M192.6,393.2L195.0,396.4M490.0,370.3L494.0,370.3M296.8,323.9L296.8,328.0M292.8,323.9L292.8,328.0M59.5,282.6L59.5,286.6M292.8,328.0L296.8,328.0M415.5,434.8L419.5,434.8M368.9,272.1L368.9,276.1M249.4,284.2L249.4,288.2M166.9,438.0L170.9,438.0M374.5,264.1L378.5,264.1M450.6,465.3L454.6,465.3M438.0,366.6L442.0,366.6M347.2,402.9L351.2,402.9M280.8,269.7L280.8,273.7M162.9,417.6L166.9,417.6M296.0,465.8L296.0,469.8M433.9,369.8L438.0,369.8M82.0,362.7L86.0,362.7M651.2,264.1L651.2,268.1M429.9,366.2L433.9,366.2M88.4,434.8L92.5,434.8M386.6,324.3L386.6,320.3M47.5,340.3L51.5,340.3M41.1,465.3L45.1,465.3M105.3,465.3L109.3,465.3M169.3,269.7L172.6,267.3M356.9,261.7L360.9,261.7M233.6,365.4L236.8,367.9M156.5,456.2L156.5,460.2M475.5,268.1L472.3,270.5M204.7,438.0L207.1,434.8M257.5,276.9L260.7,279.3M317.7,451.3L320.1,454.6M313.7,268.9L316.1,272.1M291.2,303.4L288.8,306.6M653.6,260.9L651.2,264.1M407.4,285.8L410.7,288.2M64.3,451.3L68.4,451.3M352.0,289.0L349.6,292.2M514.9,261.7L511.6,264.1M286.4,465.3L288.8,468.5M363.3,469.0L366.5,466.6M190.2,271.3L187.0,268.9M116.5,439.6L118.9,436.4M57.1,455.4L59.5,452.1M519.7,393.5L523.7,393.5M554.8,421.3L558.8,421.3M494.8,275.0L497.2,278.2M258.3,420.8L261.5,418.4M417.1,280.1L417.1,284.2M292.0,309.9L295.2,307.4M647.1,263.3L647.1,267.3M231.5,393.5L229.6,397.1M573.8,397.1L577.3,395.1M32.7,275.0L34.6,278.5M82.5,283.4L84.4,279.8M361.7,465.3L363.3,469.0M523.7,393.5L524.0,397.6M195.8,269.2L199.8,268.9M335.4,372.7L339.4,372.3M251.1,298.1L255.1,297.8M418.4,369.4L418.7,373.5M187.0,259.3L191.0,258.9M418.7,270.2L422.7,270.5M83.1,367.0L82.8,371.1M166.9,417.6L167.3,421.6M490.8,374.6L494.8,374.3M548.3,253.7L548.6,257.7M67.5,420.8L69.2,417.1M57.1,465.3L58.7,469.0M31.4,418.7L33.0,422.4M85.2,390.6L86.8,394.3M626.8,394.3L628.4,390.6M364.9,390.6L366.5,394.3M327.3,436.9L331.0,438.5M71.2,422.4L67.5,420.8M564.5,332.6L566.1,336.3M413.9,282.6L409.9,283.0M624.7,419.2L620.7,419.7M110.1,451.8L114.1,451.3M73.2,418.7L77.2,419.2M106.1,451.3L110.1,451.8M371.3,284.2L375.3,284.6M35.4,327.5L35.9,331.5M277.6,327.2L281.6,326.7M130.2,419.7L134.2,419.2M471.5,362.2L475.5,362.7M88.4,400.8L92.5,400.3M278.0,265.7L277.6,269.7M43.5,373.5L47.5,373.0M357.3,390.6L361.2,391.9M295.2,369.8L291.2,369.1M545.4,421.3L549.4,422.0M153.8,390.6L150.9,393.5M166.9,468.5L169.8,471.4M647.1,267.3L651.2,268.1M312.1,399.2L316.1,400.0M169.3,285.0L168.5,280.9M62.7,255.3L66.8,256.1M127.0,292.2L126.2,296.2M51.5,438.5L55.5,439.3M110.1,263.3L106.1,264.1M88.4,274.5L92.5,273.7M228.0,371.1L232.0,370.3M273.5,321.1L277.6,321.9M330.6,289.8L331.4,293.8M318.5,274.5L319.3,278.5M281.6,288.2L282.4,292.2M66.0,264.1L61.9,264.9M494.0,370.3L494.8,374.3M86.0,330.7L86.8,334.7M259.1,297.0L255.1,297.8M465.1,260.9L469.1,260.1M219.9,265.7L223.9,266.5M127.8,394.3L131.8,395.1M117.3,278.5L121.3,277.7M87.6,281.8L91.6,282.6M439.6,452.1L443.6,451.3M57.1,328.3L56.3,332.3M640.7,273.7L644.7,274.5M585.3,267.3L584.5,263.3M316.9,282.6L320.9,281.8M414.2,370.7L416.3,374.3M499.6,469.5L503.1,467.4M340.7,436.9L344.2,434.8M538.5,275.6L534.9,277.7M626.8,394.3L630.3,396.4M386.6,434.8L390.1,436.9M113.3,467.4L116.8,469.5M593.4,276.1L589.8,278.2M426.7,454.1L430.2,456.2M650.9,420.4L647.6,422.9M651.5,322.7L654.1,325.9M648.3,417.1L650.9,420.4M652.5,452.5L649.9,455.7M253.0,341.9L255.6,345.1M438.0,419.7L441.2,417.1M194.6,390.6L197.8,393.2M152.5,425.2L155.7,427.7M211.6,434.8L214.8,437.4M247.5,390.6L244.3,393.2M531.7,435.8L535.7,434.8M477.1,434.8L481.1,435.8M127.5,425.6L126.5,421.6M164.0,373.5L165.0,377.5M263.9,393.2L267.9,392.3M224.7,466.3L228.8,465.3M363.3,434.8L367.3,435.8M518.1,434.8L522.1,435.8M300.0,434.8L304.1,435.8M580.5,367.5L584.5,366.6M520.5,466.3L524.5,465.3M632.7,281.4L630.5,284.9M153.8,390.6L157.2,392.9M342.6,418.4L346.7,418.1M591.4,272.4L593.4,276.1M552.9,255.3L551.0,251.6M349.6,420.8L351.6,417.1M324.6,392.7L326.5,396.4M71.2,422.4L73.2,418.7M126.5,421.6L130.2,419.7M101.8,394.3L103.7,390.6M292.0,472.7L295.7,474.6M110.1,252.5L114.1,253.7M94.8,289.0L90.8,290.1M388.2,452.5L392.2,451.3M88.4,400.8L84.4,399.6M172.6,370.3L173.7,374.3M471.5,362.2L470.4,366.2M479.5,267.0L475.5,268.1M356.9,257.3L360.9,258.5M63.5,424.5L67.5,425.6M123.8,395.5L127.8,394.3M510.0,451.3L514.0,452.5M501.2,367.5L502.8,371.4M629.0,417.1L633.2,417.1M58.7,269.2L57.1,265.4M582.9,393.2L581.3,397.1M585.0,339.0L586.6,335.2M632.2,392.3L628.4,390.6M312.9,275.0L314.5,278.9M351.2,398.7L351.2,402.9M561.6,451.3L565.7,451.3M390.1,377.5L387.9,381.0M342.9,456.2L345.6,459.4M271.1,420.4L271.6,424.5M536.5,418.4L532.5,417.1M518.1,258.9L514.9,261.7M255.1,423.6L258.3,420.8M542.1,455.7L544.9,452.5M473.6,451.3L476.8,454.1M507.3,434.8L510.0,438.0M352.9,372.3L349.6,375.1M58.7,469.0L61.9,466.3M90.5,322.3L93.2,325.6M41.9,438.0L44.6,434.8M245.4,434.8L249.4,436.1M166.9,454.6L170.2,457.3M433.1,326.7L436.4,323.9M397.5,442.8L400.2,439.6M370.5,465.3L366.5,466.6M383.0,321.9L381.8,325.9M129.4,454.1L133.4,455.4M306.5,322.7L310.5,321.4M70.8,376.2L66.8,377.5M566.1,364.3L562.9,367.0M589.8,256.1L588.5,260.1M653.6,260.9L649.6,259.6M576.0,434.8L575.4,439.0M490.3,467.4L494.0,469.5M351.6,378.3L355.3,376.2M358.0,380.4L360.1,376.7M154.4,422.0L158.1,424.0M503.1,467.4L506.8,465.3M123.3,424.9L127.5,425.6M567.7,465.3L566.9,469.5M449.2,255.3L450.6,259.3M611.8,268.6L614.2,272.1M407.4,285.8L403.9,283.4M195.8,269.2L193.4,265.7M53.6,428.1L57.1,425.6M241.4,469.8L245.0,467.4M335.4,437.4L337.8,440.9M518.1,469.8L520.5,466.3M177.4,323.9L179.8,327.5M305.7,467.4L309.2,469.8M447.9,263.3L444.4,260.9M107.7,455.4L110.1,451.8M172.1,434.8L176.2,435.8M490.3,435.8L494.5,434.8M482.3,466.3L486.4,465.3M637.0,435.8L641.2,434.8M153.3,339.5L153.1,335.2M622.6,423.6L620.7,419.7M187.5,402.9L191.3,404.8M174.2,270.5L178.1,272.3M532.5,372.3L535.7,369.4M333.3,468.2L336.2,471.4M461.1,469.5L463.9,466.3M310.5,455.7L313.7,458.6M317.2,468.2L320.1,471.4M372.1,469.8L375.0,466.6M532.0,276.1L534.9,272.9M312.9,275.0L316.1,272.1M643.1,439.0L646.0,435.8M392.2,393.5L395.4,390.6M357.3,363.8L354.4,367.0M397.5,442.8L394.6,446.0M519.2,439.0L522.1,435.8M380.1,434.8L377.3,438.0M245.0,260.9L247.8,264.1M92.5,434.8L95.7,437.7M217.5,395.5L220.7,398.4M263.9,439.3L267.1,436.4M490.0,418.7L492.9,422.0M342.3,369.1L339.4,372.3M92.8,465.3L95.7,468.5M595.3,422.0L598.5,424.9M121.3,465.3L124.2,468.5M56.8,398.0L53.6,395.1M229.6,262.2L232.8,259.3M551.0,370.3L555.0,368.6M611.0,434.8L615.0,436.4M607.5,420.4L609.7,424.0M548.1,439.6L547.0,443.8M613.4,370.3L617.5,371.9M396.5,452.5L400.7,451.3M648.3,451.3L652.5,452.5M390.1,436.9L387.9,440.6M421.6,390.6L423.8,394.3M480.6,367.0L482.3,371.1M267.9,451.3L271.9,452.9M114.9,434.8L118.9,436.4M499.6,459.4L503.6,461.0M263.1,434.8L267.1,436.4M303.2,440.1L299.2,438.5M31.4,329.1L35.4,327.5M142.8,443.3L146.9,444.9M385.8,394.3L389.8,395.9M290.4,395.9L294.4,394.3M249.4,436.1L251.1,440.1M198.2,264.9L199.8,268.9M41.9,280.9L40.3,285.0M40.3,264.1L41.9,268.1M31.1,434.8L33.4,438.5M457.0,396.4L461.1,398.0M468.8,398.4L470.4,394.3M490.0,418.7L494.0,417.1M215.1,255.3L213.5,251.2M624.7,371.1L623.1,375.1M204.7,382.0L208.7,383.6M463.5,256.1L461.9,260.1M123.0,290.6L127.0,292.2M109.3,406.4L113.3,408.0M80.4,373.9L84.4,375.6M267.1,339.5L271.1,337.9M263.1,455.7L259.1,454.1M267.1,422.0L271.1,420.4M217.5,395.5L221.5,393.9M121.3,277.7L125.4,276.1M280.0,331.5L281.6,335.5M77.2,419.2L81.2,420.8M306.9,390.6L309.2,394.3M584.5,366.6L585.6,370.7M410.3,442.2L412.6,438.5M114.1,362.7L118.1,364.3M340.2,417.1L339.1,421.3M472.3,436.4L468.3,434.8M580.5,434.8L584.5,436.4M505.7,451.3L510.0,451.3M536.2,451.3L540.5,451.3M533.6,461.0L533.6,465.3M91.6,379.4L96.0,379.4M563.2,421.3L558.8,421.3M263.6,465.3L267.9,465.3M139.3,417.6L139.3,422.0M461.4,365.9L461.4,370.3M258.8,434.8L263.1,434.8M33.8,406.1L38.2,406.1M68.7,461.0L64.3,461.0M193.9,451.3L198.2,451.3M70.8,376.2L75.1,376.2M256.7,328.8L254.5,325.0M106.6,437.4L106.9,441.7M376.6,372.3L380.9,372.7M183.3,451.3L183.0,455.7M501.5,421.3L501.2,425.6M68.4,451.3L68.7,455.7M646.4,365.9L646.0,370.3M169.3,373.9L173.7,374.3M105.3,322.7L109.2,324.5M508.9,279.3L513.2,279.8M635.9,425.6L636.4,421.3M623.1,456.2L622.6,460.5M176.9,362.7L177.4,367.0M322.5,365.9L322.0,370.3M64.3,456.2L68.7,455.7M484.8,451.3L489.2,451.8M375.0,399.2L379.3,399.6M594.2,370.3L594.6,374.6M235.7,390.6L239.2,393.2M78.3,452.1L82.5,450.9M106.6,437.4L110.1,434.8M385.3,377.5L387.9,381.0M93.7,375.6L91.6,379.4M276.4,317.5L280.8,318.2M143.7,419.7L148.0,420.4M290.4,436.4L294.7,435.8M607.5,420.4L611.8,419.7M113.0,419.2L116.8,417.1M415.1,465.3L419.0,467.4M486.4,465.3L490.3,467.4M32.2,465.3L36.6,464.7M209.0,343.9L211.1,340.0M253.9,418.1L251.9,422.0M334.9,397.1L331.0,399.2M354.1,454.1L358.0,456.2M103.4,473.3L104.0,469.0M179.0,452.1L183.3,451.3M204.7,412.8L208.4,410.4M444.7,400.8L448.4,398.4M177.4,367.0L181.1,364.6M398.6,472.2L402.3,474.6M293.6,459.4L291.2,455.7M373.7,368.6L371.3,372.3M231.2,437.4L230.4,441.7M637.5,364.3L636.7,368.6M450.0,327.5L445.7,326.7M86.0,362.7L86.8,367.0M599.5,371.1L603.8,370.3M39.1,252.0L43.5,251.2M127.0,438.5L129.4,434.8M243.0,438.5L245.4,434.8M38.6,469.0L41.1,465.3M140.4,439.6L142.8,443.3M447.6,438.0L450.0,441.7M552.6,365.0L555.0,368.6M131.8,438.5L129.4,434.8M514.0,452.5L511.6,456.2M316.1,319.1L316.9,323.5M154.9,275.0L155.7,279.3M646.0,435.8L650.4,434.8M474.7,396.4L479.0,395.5M637.0,435.8L632.7,434.8M357.3,466.3L361.7,465.3M463.9,466.3L468.3,465.3M481.1,435.8L485.5,434.8M472.0,418.7L476.3,419.7M552.6,365.0L556.4,362.7M581.3,397.1L577.3,395.1M311.8,264.9L313.7,268.9M497.2,329.1L501.2,331.0M395.4,379.1L399.4,381.0M424.8,400.0L426.7,404.0M400.2,397.1L404.2,395.1M319.8,428.9L321.7,424.9M150.9,474.6L146.9,472.7M385.8,260.6L389.8,262.5M408.2,332.3L412.3,330.4M259.1,297.0L261.0,301.0M131.8,438.5L136.1,437.4M202.6,422.0L198.7,419.7M510.8,320.3L514.4,317.5M552.9,454.1L549.4,451.3M516.5,421.3L513.7,424.9M362.5,451.3L366.0,454.1M219.6,317.5L222.3,321.1M445.7,258.0L449.2,255.3M282.4,367.5L279.6,371.1M228.3,426.4L225.6,430.0M176.2,455.7L179.0,452.1M317.2,362.2L313.7,365.0M526.6,434.8L528.2,439.0M485.5,434.8L487.1,439.0M463.5,390.6L465.1,394.8M379.3,399.6L380.9,395.5M117.3,422.0L118.9,426.1M165.7,288.2L169.8,289.8M94.4,254.8L98.5,256.4M246.6,454.1L250.7,455.7M498.0,465.3L499.6,469.5M601.1,394.3L605.4,395.5M331.0,438.5L335.4,437.4M540.5,451.3L544.9,452.5M68.7,461.0L67.5,465.3M392.2,451.3L396.5,452.5M613.9,451.3L618.2,452.5M569.0,396.4L570.1,400.8M633.2,452.5L637.5,451.3M637.5,364.3L633.2,365.4M576.0,434.8L580.5,434.8M480.6,367.0L485.1,367.0M295.2,369.8L295.2,374.3M454.6,465.3L459.1,465.3M140.0,451.3L144.4,451.3M207.1,434.8L211.6,434.8M37.5,362.7L33.0,362.7M441.2,465.3L445.7,465.3M636.7,390.6L641.2,390.6M329.7,465.3L325.2,465.3M208.7,383.6L208.7,379.1M319.3,270.2L319.3,265.7M454.6,465.3L454.6,469.8M324.9,470.1L324.9,474.6M611.0,434.8L606.5,434.8M624.2,451.3L628.7,451.3M410.7,465.3L415.1,465.3M314.5,437.4L318.2,434.8M432.3,434.8L436.0,437.4M311.3,419.7L315.0,417.1M153.3,437.4L157.0,434.8M650.4,434.8L654.1,437.4M426.4,390.6L423.8,394.3M430.2,419.7L433.9,417.1M535.7,434.8L539.4,437.4M587.3,419.7L591.0,417.1M493.5,400.3L497.2,402.9M167.3,421.6L171.8,421.3M151.2,470.1L150.9,474.6M441.2,465.3L440.9,469.8M48.8,296.5L49.1,301.0M404.2,465.3L403.9,469.8M580.8,267.6L585.3,267.3M63.5,294.6L63.2,299.1M216.4,371.1L216.7,375.6M494.8,374.3L499.3,374.6M505.7,451.3L504.4,455.7M561.6,362.7L562.9,367.0M84.4,375.6L88.9,375.1M103.7,418.7L108.2,419.2M118.9,426.1L123.3,424.9M280.3,422.9L284.8,422.4M435.6,465.3L435.1,469.8M284.8,422.4L289.3,422.9M70.8,380.7L70.3,385.2M280.8,469.8L280.3,474.3M199.4,439.6L200.7,435.3M379.3,465.3L375.0,466.6M60.3,440.6L64.3,438.5M204.7,438.0L208.7,440.1M99.7,420.8L103.7,418.7M312.9,376.7L315.0,380.7M295.2,369.8L299.2,371.9M199.8,467.4L203.9,469.5M335.4,425.2L331.4,427.3M281.6,438.0L277.6,440.1M184.6,417.1L188.6,419.2M178.2,467.4L182.2,469.5M371.3,419.2L375.3,417.1M273.5,369.1L277.6,367.0M275.9,469.5L271.9,467.4M282.4,367.5L286.4,365.4M419.5,434.8L423.5,436.9M277.6,367.0L279.6,371.1M109.3,465.3L113.3,467.4M47.5,436.4L51.5,438.5M174.2,465.3L178.2,467.4M195.8,465.3L199.8,467.4M267.9,465.3L271.9,467.4M72.4,465.3L76.4,467.4M380.1,434.8L384.2,436.9M632.7,281.4L636.7,279.3M449.5,417.1L452.7,420.4M187.0,277.7L183.2,275.3M134.2,395.1L134.8,399.6M230.4,325.1L226.5,327.4M602.2,451.3L605.4,454.6M549.4,277.7L552.6,280.9M402.3,420.4L405.5,417.1M415.1,417.1L418.4,420.4M222.8,454.6L226.0,457.8M316.1,262.5L319.3,265.7M184.3,439.6L187.5,442.8M332.1,454.6L335.4,457.8M211.1,454.6L214.3,457.8M487.1,439.0L490.3,435.8M509.2,469.5L512.5,466.3M33.0,422.4L36.2,425.6M58.7,293.0L55.5,296.2M100.5,262.5L103.7,265.7M95.7,437.7L98.9,440.9M36.6,464.7L41.1,465.3M199.8,455.7L203.1,452.5M148.5,454.1L151.7,457.3M253.5,468.2L256.7,471.4M216.7,420.4L219.9,417.1M227.6,422.0L228.3,426.4M493.5,400.3L492.9,404.8M286.1,434.8L286.7,439.3M640.7,455.4L643.9,458.6M599.8,420.4L603.0,417.1M538.1,269.7L534.9,272.9M299.2,395.1L302.4,398.4M539.7,325.6L536.5,328.8M334.6,365.9L337.8,362.7M271.1,420.4L274.3,417.1M180.6,395.9L183.8,399.2M526.9,469.5L530.1,466.3M341.0,465.3L344.2,468.5M515.3,322.7L512.1,325.9M643.1,362.7L646.4,365.9M380.9,395.5L384.2,398.7M385.0,455.7L388.2,452.5M41.9,256.4L38.6,259.6M199.4,439.6L196.2,436.4M543.3,465.3L546.5,468.5M574.1,263.3L577.3,266.5M547.8,373.5L551.0,370.3M605.4,395.5L608.6,392.3M566.9,370.3L570.1,373.5M483.2,398.4L487.1,400.8M530.1,376.2L532.5,372.3M124.2,281.4L121.3,285.0M558.0,468.5L561.6,471.4M90.5,322.3L87.6,325.9M329.7,465.3L333.3,468.2M367.3,435.8L364.4,439.3M313.7,465.3L317.2,468.2M605.4,439.3L604.6,443.8M298.4,390.6L299.2,395.1M97.3,393.5L101.8,394.3M157.3,465.3L156.5,469.8M228.8,375.6L228.0,371.1M67.5,465.3L66.8,469.8M282.4,283.7L281.6,288.2M262.3,469.8L261.5,474.3M281.6,465.3L280.8,469.8M267.9,392.3L267.1,396.8M240.6,465.3L241.4,469.8M632.7,434.8L633.5,439.3M552.9,417.1L554.8,421.3M581.3,336.3L585.0,339.0M523.4,420.4L526.1,424.0M437.6,394.3L440.4,390.6M308.1,444.9L310.8,441.2M604.9,337.9L608.6,335.2M124.2,434.8L127.0,438.5M71.2,306.3L67.5,309.1M324.1,420.8L326.9,417.1M603.8,365.4L607.5,362.7M306.5,420.4L309.2,424.0M335.9,328.3L336.8,323.8M641.2,434.8L643.1,439.0M508.9,390.6L510.8,394.8M186.5,465.3L191.0,466.3M403.9,455.7L405.8,459.9M526.6,434.8L522.1,435.8M461.4,365.9L465.9,365.0M568.0,419.7L572.5,418.7M202.6,422.0L207.1,422.9M168.9,390.6L173.4,391.6M144.1,252.8L143.2,257.3M516.0,465.3L520.5,466.3M357.3,466.3L352.9,465.3M459.1,465.3L461.1,469.5M125.4,451.8L129.4,454.1M47.8,395.9L45.5,400.0M80.4,401.9L84.4,399.6M408.7,371.1L411.0,367.0M364.1,329.1L367.9,331.7M459.8,452.9L455.4,451.3M494.5,434.8L498.8,436.4M455.4,434.8L459.8,436.4M174.2,275.6L169.8,277.3M434.7,451.3L436.4,455.7M628.4,436.4L632.7,434.8M290.4,436.4L286.1,434.8M604.3,280.9L608.6,279.3M383.4,451.3L385.0,455.7M548.6,327.8L552.9,329.4M191.8,434.8L196.2,436.4M644.4,332.0L648.8,330.4M619.9,323.9L624.2,322.3M577.0,337.9L581.3,336.3M134.8,399.6L136.4,404.0M198.2,451.3L199.8,455.7M200.3,383.6L204.7,382.0M607.5,362.7L611.8,364.3M533.0,332.0L537.3,333.6M352.9,362.7L354.4,367.0M150.6,373.0L154.9,374.6M386.2,386.3L384.6,390.6M507.9,373.5L509.6,377.8M95.3,419.2L99.7,420.8M198.7,404.8L203.1,403.2M481.1,418.7L485.5,417.1M275.5,422.0L271.1,420.4M553.4,434.8L554.5,439.3M214.8,437.4L218.6,434.8M198.7,419.7L202.6,417.1M136.1,437.4L140.0,434.8M593.0,434.8L596.9,437.4M628.7,451.3L633.2,452.5M98.9,472.2L103.4,473.3M253.9,293.3L255.1,297.8M468.3,465.3L469.4,469.8M263.6,366.6L264.7,371.1M544.9,452.5L549.4,451.3M501.5,395.5L506.0,394.3M622.3,393.2L626.8,394.3M374.0,451.3L378.5,452.5M445.7,465.3L446.8,469.8M440.9,325.1L436.4,323.9M468.8,452.5L464.3,451.3M369.2,367.5L373.7,368.6M514.0,452.5L518.5,451.3M605.4,439.3L606.5,434.8M552.9,329.4L551.8,333.9M607.0,372.3L608.1,367.9M239.2,365.4L243.8,365.9M187.5,453.4L183.3,451.3M459.8,436.4L463.9,438.5M519.2,456.2L523.4,454.1M67.1,304.2L71.2,306.3M413.1,421.3L415.1,417.1M320.4,390.6L324.6,392.7M337.8,367.9L342.3,369.1M370.5,465.3L375.0,466.6M44.3,297.8L48.8,296.5M141.6,396.4L146.1,395.1M262.3,469.8L263.6,465.3M257.5,340.6L253.0,341.9M465.9,365.0L470.4,366.2M598.5,424.9L599.8,420.4M544.6,324.3L543.3,328.8M221.5,393.9L226.0,395.1M532.0,393.5L536.5,394.8M562.9,284.2L558.8,286.6M586.1,288.2L588.5,284.2M460.3,279.3L457.9,283.4M212.7,398.4L216.7,400.8M321.7,424.9L324.1,420.8M216.7,400.8L220.7,398.4M76.4,325.9L80.4,328.3M232.8,259.3L236.8,256.9M127.8,394.3L130.2,390.3M54.7,451.3L57.1,455.4M102.9,400.0L105.3,404.0M113.3,403.2L115.7,399.2M162.1,272.1L159.7,276.1M159.7,375.9L162.1,379.9M102.9,400.0L100.5,404.0M105.3,404.0L109.3,406.4M158.9,333.1L162.9,335.5M347.2,288.2L349.6,292.2M643.1,269.7L640.7,273.7M485.9,260.9L488.4,256.9M95.7,280.1L91.6,282.6M647.1,267.3L643.1,269.7M138.0,461.0L140.4,465.0M105.3,404.0L102.9,408.0M609.4,322.7L605.4,320.3M375.3,422.4L378.2,426.1M584.5,455.7L588.2,458.6M375.6,456.2L378.5,452.5M118.6,395.5L115.7,399.2M508.9,390.6L506.0,394.3M373.7,368.6L376.6,372.3M412.6,438.5L415.5,434.8M630.3,456.2L633.2,452.5M496.7,455.7L499.6,459.4M339.4,394.3L342.3,390.6M139.6,378.8L142.5,375.1M228.8,465.3L232.4,468.2M371.3,372.3L368.6,376.2M492.9,422.0L495.1,426.1M35.9,442.8L38.2,447.0M595.8,395.1L591.4,397.1M539.4,321.9L541.4,317.5M567.3,328.3L569.3,332.6M618.2,390.6L622.3,393.2M562.0,434.8L566.1,437.4M604.6,332.6L608.6,335.2M588.5,439.0L584.5,436.4M611.8,419.7L615.8,417.1M313.7,365.0L317.7,367.5M438.0,419.7L433.9,417.1M298.4,419.7L302.4,417.1M231.2,437.4L235.2,434.8M498.8,436.4L502.8,439.0M363.3,420.4L359.3,422.9M595.3,455.4L597.9,459.4M528.5,419.7L532.5,417.1M475.8,325.6L477.3,330.1M405.8,390.6L404.2,395.1M459.8,452.9L464.3,451.3M38.6,259.6L40.3,264.1M594.2,390.6L595.8,395.1M485.5,417.1L490.0,418.7M414.2,393.5L417.4,397.1M536.5,328.8L533.0,332.0M654.1,437.4L657.6,440.6M539.4,437.4L543.0,440.6M383.4,468.2L386.6,471.7M566.1,437.4L569.6,440.6M207.1,373.0L210.3,369.4M195.0,281.4L191.8,285.0M355.7,426.1L359.3,422.9M462.7,327.2L465.9,330.7M422.2,366.2L425.4,362.7M577.6,457.8L574.1,454.6M426.7,422.9L430.2,419.7M570.5,451.3L574.1,454.6M539.7,325.6L543.3,328.8M439.6,440.6L436.0,437.4M444.1,434.8L447.6,438.0M254.3,436.4L258.8,434.8M595.8,395.1L597.4,399.6M121.0,458.9L117.8,455.4M47.8,395.9L44.3,392.7M221.5,469.8L224.7,466.3M216.7,420.4L221.2,422.0M150.1,440.9L153.3,437.4M80.9,440.9L84.4,437.7M82.5,450.9L86.0,454.1M632.2,392.3L636.7,390.6M228.3,426.4L232.8,428.1M465.9,285.8L470.4,284.2M473.9,366.6L472.3,371.1M219.9,465.3L221.5,469.8M623.9,434.8L628.4,436.4M203.1,398.4L204.7,393.9M410.7,465.3L409.1,469.8M276.4,451.3L271.9,452.9M253.9,285.8L249.4,284.2M35.4,401.6L33.8,406.1M499.3,374.6L502.8,371.4M61.1,323.0L62.7,327.5M423.2,277.7L426.7,274.5M229.2,380.7L232.8,383.9M436.4,455.7L439.6,452.1M410.7,451.3L414.2,454.6M136.4,382.3L139.6,378.8M641.9,367.5L646.4,365.9M267.1,396.8L271.6,398.4M429.9,465.3L428.3,469.8M412.6,398.0L414.2,393.5M556.1,404.8L554.5,409.3M572.5,418.7L577.0,417.1M386.9,418.7L391.4,417.1M477.1,465.3L478.7,469.8M180.1,419.2L176.6,422.4M468.8,439.6L472.3,436.4M528.2,439.0L531.7,435.8M572.5,465.3L576.0,468.5M551.0,370.3L554.0,373.9M189.4,377.8L190.8,373.2M552.9,454.1L557.2,456.2M448.4,398.4L452.2,395.5M237.3,424.0L241.4,426.4M237.3,262.5L241.4,260.1M204.7,412.8L202.6,417.1M167.3,378.3L169.3,373.9M157.0,434.8L161.3,436.9M309.2,424.0L311.3,419.7M470.4,394.3L474.7,396.4M561.6,451.3L563.6,455.7M624.7,419.2L629.0,417.1M552.9,329.4L555.0,325.1M318.2,434.8L322.5,436.9M176.2,455.7L174.2,451.3M641.2,421.3L645.5,419.2M586.6,335.2L591.0,333.1M139.3,417.6L143.7,419.7M208.4,390.6L212.7,392.7M367.0,417.1L371.3,419.2M403.9,371.1L408.7,371.1M613.4,390.6L618.2,390.6M567.7,465.3L572.5,465.3M603.8,365.4L603.8,370.3M585.3,267.3L585.3,272.1M64.3,456.2L64.3,461.0M565.7,451.3L570.5,451.3M176.6,422.4L176.6,427.3M158.1,451.3L162.9,451.3M111.7,439.6L116.5,439.6M67.5,465.3L72.4,465.3M52.3,362.7L57.1,362.7M100.5,369.1L105.3,369.1M281.6,465.3L286.4,465.3M108.2,419.2L113.0,419.2M103.7,265.7L103.7,270.5M217.5,390.6L217.5,395.5M175.8,395.9L180.6,395.9M302.1,390.6L306.9,390.6M334.9,392.3L334.9,397.1M203.1,398.4L203.1,403.2M268.4,362.7L268.4,367.5M423.5,469.8L428.3,469.8M537.8,399.6L537.8,404.5M417.4,334.2L417.4,339.0M299.2,367.0L299.2,371.9M452.2,390.6L452.2,395.5M501.5,421.3L506.3,421.3M494.0,417.1L498.8,417.1M31.4,470.1L31.4,474.9M414.7,296.2L414.7,301.0M184.3,439.6L184.3,434.8M322.5,436.9L327.3,436.9M150.9,474.6L155.7,474.6M67.5,420.8L67.5,425.6M110.1,434.8L114.9,434.8M81.2,420.8L81.2,425.6M113.3,403.2L113.3,408.0M549.1,393.5L552.9,390.6M208.4,465.3L212.2,468.2M564.5,332.6L569.3,332.6M636.4,421.3L641.2,421.3M421.9,285.8L426.7,285.8M524.5,465.3L526.9,469.5M143.7,366.6L146.1,370.7M506.8,465.3L509.2,469.5M263.9,421.3L266.3,417.1M586.1,288.2L591.0,288.5M199.8,268.9L204.7,269.2M67.1,338.4L71.9,338.7M275.9,469.5L280.8,469.8M45.5,417.1L45.9,422.0M324.9,470.1L325.2,465.3M249.4,436.1L254.3,436.4M454.6,469.8L454.3,474.6M296.0,469.8L295.7,474.6M623.9,434.8L624.2,439.6M604.6,276.1L604.3,280.9M627.9,296.5L632.7,297.0M528.2,456.2L527.7,461.0M489.2,451.8L494.0,451.3M534.6,322.3L539.4,321.9M296.0,465.8L300.8,465.3M229.6,397.1L234.4,397.6M173.4,391.6L178.2,391.1M116.8,417.1L117.3,422.0M140.4,439.6L140.0,434.8M169.3,285.0L169.8,289.8M193.9,419.2L198.7,419.7M219.1,439.6L218.6,434.8M452.7,362.7L457.5,362.2M88.9,375.1L93.7,375.6M151.2,470.1L151.7,465.3M440.4,474.6L440.9,469.8M355.3,376.2L360.1,376.7M479.5,390.6L479.0,395.5M655.2,378.3L655.7,383.1M589.3,362.7L589.8,367.5M366.5,394.3L370.5,397.1M418.7,320.3L422.7,317.5M592.5,451.3L595.3,455.4M144.4,451.3L148.5,454.1M35.4,454.6L39.5,457.3M557.2,333.9L560.0,337.9M255.1,451.3L259.1,454.1M158.9,317.5L162.9,320.3M94.0,451.3L98.1,454.1M31.4,451.8L35.4,454.6M300.5,455.4L303.2,459.4M423.5,436.9L427.5,439.6M200.7,435.3L204.7,438.0M216.4,371.1L219.1,367.0M65.2,320.3L61.1,323.0M595.0,335.8L591.0,333.1M226.3,438.0L231.2,437.4M368.6,362.7L369.2,367.5M271.9,435.8L267.1,436.4M437.6,394.3L438.3,399.2M577.6,317.5L577.0,322.3M518.5,451.3L519.2,456.2M271.9,435.8L276.8,436.4M624.2,322.3L623.5,327.2M641.2,372.3L641.9,367.5M153.8,417.1L154.4,422.0M569.0,396.4L573.8,397.1M619.4,439.0L624.2,439.6M654.4,373.5L655.2,378.3M203.9,408.0L204.7,412.8M43.5,373.5L44.3,378.3M138.0,461.0L138.8,456.2M609.4,272.9L614.2,272.1M296.0,296.2L300.8,295.4M359.6,438.5L364.4,439.3M632.7,297.0L631.9,292.2M64.3,451.3L59.5,452.1M255.1,394.3L250.3,393.5M294.1,422.0L298.4,419.7M172.6,365.0L176.9,362.7M350.0,322.3L347.7,326.7M427.5,294.6L426.7,299.4M294.4,394.3L299.2,395.1M404.2,395.1L409.1,394.3M203.1,403.2L203.9,408.0M66.8,469.8L66.0,474.6M126.2,443.3L127.0,438.5M32.2,465.3L31.4,470.1M59.5,417.1L60.3,422.0M118.6,395.5L117.8,390.6M466.7,280.9L465.9,285.8M281.6,288.2L276.8,287.4M155.7,474.6L156.5,469.8M320.9,281.8L321.7,286.6M491.6,390.6L492.4,395.5M653.6,368.6L654.4,373.5M534.9,277.7L534.1,282.6M250.3,279.3L249.4,284.2M432.8,393.5L437.6,394.3M409.1,469.8L408.2,474.6M428.3,469.8L427.5,474.6M483.5,362.2L488.4,363.0M163.7,395.9L164.5,400.8M391.4,417.1L390.6,422.0M591.8,251.6L589.8,256.1M469.4,375.9L467.5,380.4M515.3,396.8L510.8,394.8M243.3,266.0L247.8,264.1M576.0,468.5L579.7,471.7M546.5,468.5L550.2,471.7M443.6,451.3L447.3,454.6M571.7,269.2L568.5,272.9M98.1,454.1L101.8,457.3M447.3,285.0L443.6,288.2M49.9,424.9L53.6,428.1M280.8,454.1L284.0,457.8M409.4,424.5L413.1,421.3M398.6,423.6L402.3,420.4M395.4,427.3L398.6,423.6M219.1,439.6L222.3,443.3M596.9,437.4L600.6,440.6M565.3,393.2L569.0,396.4M363.3,420.4L367.0,417.1M195.0,401.6L198.7,404.8M191.3,404.8L195.0,401.6M561.6,471.4L565.3,474.6M143.7,469.0L146.9,472.7M204.7,393.9L208.4,390.6M455.9,424.0L452.7,420.4M352.0,434.8L355.7,438.0M455.9,424.0L459.1,427.7M414.2,454.6L417.9,457.8M70.0,370.7L73.2,367.0M84.7,468.5L88.4,471.7M215.9,471.4L212.2,468.2M222.8,454.6L219.1,451.3M348.4,438.0L352.0,434.8M95.7,468.5L98.9,472.2M411.0,367.0L414.2,370.7M45.1,465.3L48.8,468.5M349.6,375.1L346.4,378.8M618.2,452.5L615.0,456.2M513.2,441.7L510.0,438.0M580.8,427.3L584.0,423.6M393.3,456.2L396.5,452.5M354.8,394.8L357.3,390.6M184.3,439.6L180.1,442.2M533.6,465.3L536.2,469.5M476.3,419.7L481.1,418.7M275.5,422.0L280.3,422.9M534.6,456.2L533.6,461.0M207.1,422.9L211.9,422.0M289.3,422.9L294.1,422.0M452.2,395.5L457.0,396.4M265.5,280.5L270.3,281.4M191.0,466.3L195.8,465.3M263.6,366.6L268.4,367.5M523.7,393.5L527.7,390.6M493.5,400.3L492.4,395.5M467.2,417.6L472.0,418.7M262.3,338.4L267.1,339.5M84.4,437.7L88.4,434.8M445.7,326.7L442.8,330.7M83.6,338.7L79.6,341.6M78.0,444.9L80.9,440.9M337.8,440.9L340.7,436.9M416.8,251.2L413.9,255.3M191.0,258.9L195.0,256.1M431.5,323.5L428.6,319.4M510.8,428.9L513.7,424.9M151.7,457.3L156.5,456.2M45.9,422.0L49.9,424.9M468.8,439.6L463.9,438.5M378.5,452.5L383.4,451.3M138.8,456.2L140.0,451.3M395.4,395.9L400.2,397.1M174.2,275.6L179.0,274.5M468.8,452.5L473.6,451.3M171.8,421.3L176.6,422.4M260.7,279.3L265.5,280.5M159.7,276.1L154.9,275.0M404.2,267.6L399.4,266.5M624.2,451.3L623.1,456.2M529.3,451.3L528.2,456.2M379.3,465.3L383.4,468.2M253.5,468.2L249.4,465.3M445.7,465.3L450.6,465.3M334.9,392.3L339.4,394.3M370.5,397.1L375.0,399.2M180.1,419.2L184.6,417.1M245.0,467.4L249.4,465.3M80.9,465.3L76.4,467.4M201.0,337.4L205.5,339.5M576.0,276.6L578.1,272.1M81.5,334.2L83.6,338.7M173.4,391.6L175.8,395.9M315.3,372.3L312.9,376.7M277.6,327.2L280.0,331.5M253.9,285.8L258.3,288.2M93.2,325.6L90.8,329.9M526.1,424.0L528.5,419.7M372.1,446.5L374.5,442.2M308.1,379.1L303.7,381.5M296.8,328.0L301.2,330.4M236.8,320.3L241.7,319.8M600.6,440.6L605.4,439.3M181.1,364.6L185.9,365.9M211.9,374.3L207.1,373.0M149.3,251.2L148.0,256.1M55.5,439.3L60.3,440.6M577.0,337.9L575.7,342.7M154.9,374.6L159.7,375.9M574.1,443.8L575.4,439.0M442.4,422.0L441.2,417.1M545.9,276.1L544.6,280.9M275.9,394.8L280.8,393.5M79.6,278.5L84.4,279.8M536.5,394.8L537.8,399.6M136.4,404.0L137.7,408.8M324.9,470.1L320.1,471.4M211.9,374.3L216.7,375.6M148.0,256.1L143.2,257.3M548.1,439.6L549.4,434.8M599.8,333.9L604.6,332.6M350.0,451.3L354.1,454.1M43.0,451.3L47.2,454.1M442.4,422.0L445.2,426.1M507.9,373.5L512.1,370.7M374.5,442.2L377.3,438.0M364.4,365.4L368.6,362.7M498.8,417.1L501.5,421.3M516.5,421.3L519.2,417.1M478.7,469.8L482.3,466.3M360.6,325.6L364.1,329.1M657.9,257.3L661.5,253.8M211.9,348.4L215.4,351.9M232.4,468.2L236.0,471.7M472.3,371.1L475.8,374.6M195.8,362.7L194.8,367.6M447.3,454.6L451.1,457.8M555.0,325.1L558.8,328.3M554.2,465.3L558.0,468.5M536.2,469.5L540.1,466.3M584.0,423.6L587.3,419.7M554.0,373.9L557.2,377.8M48.8,468.5L52.6,471.7M140.4,362.7L143.7,366.6M47.2,454.1L51.0,457.3M391.1,465.3L394.9,468.5M80.9,465.3L84.7,468.5M418.4,369.4L422.2,366.2M554.5,439.3L558.4,436.1M146.1,370.7L150.6,373.0M615.0,436.4L619.4,439.0M560.9,390.6L565.3,393.2M33.4,438.5L35.9,442.8M582.9,393.2L587.3,390.6M438.0,290.6L433.2,288.8M515.3,366.6L520.4,366.1M417.1,284.2L421.9,285.8M506.0,318.6L510.8,320.3M472.3,436.4L477.1,434.8M232.0,370.3L233.6,365.4M53.6,395.1L55.2,390.3M563.2,421.3L568.0,419.7M534.1,282.6L532.5,287.4M41.1,423.6L45.9,422.0M389.0,256.1L390.6,251.2M63.5,294.6L58.7,293.0M271.1,337.9L275.9,336.3M387.9,362.2L389.5,367.0M267.1,396.8L265.5,401.6M483.5,362.2L485.1,367.0M285.6,394.3L290.4,395.9M378.5,264.1L380.1,268.9M426.7,404.0L428.3,408.8M74.0,434.8L69.2,436.4M49.1,335.5L47.5,340.3M156.5,456.2L158.1,451.3M57.1,362.7L61.9,364.3M33.0,308.2L31.4,313.1M348.4,317.5L350.0,322.3M403.4,330.7L408.2,332.3M231.5,393.5L235.7,390.6M412.3,330.4L417.1,328.8M481.6,317.5L480.0,322.3M487.6,329.9L492.4,331.5M216.7,420.4L211.9,422.0M479.0,395.5L483.2,398.4M403.9,469.8L402.3,474.6M322.5,365.9L317.7,367.5M534.6,456.2L536.2,451.3M368.6,376.2L365.7,380.4M226.0,417.1L227.6,422.0M440.9,325.1L445.7,326.7M382.1,417.1L386.9,418.7M397.5,320.3L399.1,325.1M63.5,348.7L60.6,352.9M557.2,377.8L562.0,379.4M522.1,285.8L517.3,284.2M608.6,392.3L613.4,390.6M419.0,467.4L423.5,469.8M598.2,273.7L600.6,269.2M656.8,329.4L659.2,333.9M510.8,320.3L515.3,322.7M412.6,398.0L409.1,394.3M63.5,348.7L67.1,352.4M86.0,454.1L89.5,457.8M146.1,370.7L149.6,367.0M81.2,420.8L84.7,417.1M445.7,258.0L442.0,254.4M476.8,454.1L480.3,457.8M465.1,394.8L468.8,398.4M239.2,393.2L244.3,393.2M342.3,289.5L347.2,288.2M276.4,451.3L280.8,454.1M609.7,317.5L605.4,320.3M589.8,367.5L594.2,370.3M581.8,451.3L584.5,455.7M242.2,451.3L246.6,454.1M105.0,317.5L109.3,320.3M39.1,252.0L41.9,256.4M219.1,367.0L221.8,362.7M162.9,320.3L158.6,323.0M494.0,451.3L496.7,455.7M564.1,374.6L566.9,370.3M390.1,372.3L390.1,377.5M118.6,395.5L123.8,395.5M195.0,396.4L195.0,401.6M556.4,362.7L561.6,362.7M403.9,469.8L409.1,469.8M556.1,399.6L556.1,404.8M644.7,394.3L648.0,398.4M637.5,451.3L640.7,455.4M140.4,465.0L143.7,469.0M322.5,365.9L326.5,362.7M226.0,384.7L229.2,380.7M302.4,417.1L306.5,420.4M327.3,294.6L324.1,298.6M146.9,444.9L150.1,440.9M279.6,255.3L276.4,251.2M497.2,278.2L493.2,281.4M324.9,273.7L328.1,277.7M61.9,364.3L66.0,367.5M47.5,256.1L51.5,259.3M94.8,292.2L90.8,295.4M328.1,451.3L332.1,454.6M300.5,455.4L297.3,451.3M230.4,451.3L234.4,454.6M235.2,434.8L239.2,438.0M162.9,451.3L166.9,454.6M66.0,367.5L70.0,370.7M86.8,334.7L83.6,338.7M64.3,390.3L67.5,394.3M195.0,281.4L199.1,284.6M442.0,370.3L446.0,373.5M371.3,419.2L375.3,422.4M461.1,398.0L465.1,394.8M479.5,267.0L483.5,270.2M162.9,465.3L166.9,468.5M543.0,440.6L547.0,443.8M624.7,371.1L628.7,374.3M535.7,369.4L539.7,372.7M605.4,454.6L609.4,457.8M44.3,378.3L47.5,382.3M255.6,345.1L260.7,344.8M609.4,322.7L614.5,323.1M229.2,380.7L228.8,375.6M650.9,317.5L651.5,322.7M259.4,390.6L263.9,393.2M571.7,269.2L566.9,267.3M595.0,335.8L599.8,333.9M288.0,325.9L292.8,323.9M429.6,328.8L431.5,333.6M365.7,268.9L360.9,270.8M372.1,446.5L374.0,451.3M435.1,469.8L433.1,474.6M398.6,328.8L403.4,330.7M237.3,424.0L239.2,419.2M39.5,299.7L44.3,297.8M515.3,396.8L520.5,397.6M418.7,270.2L419.5,275.3M532.0,393.5L527.7,390.6M288.3,451.3L291.2,455.7M427.5,294.6L430.5,290.3M352.0,441.7L355.7,438.0M183.8,399.2L187.5,402.9M366.0,454.1L369.7,457.8M118.9,371.9L122.6,375.6M394.9,468.5L398.6,472.2M67.5,394.3L71.2,398.0M552.6,280.9L557.2,278.5M56.8,398.0L60.6,401.6M166.9,325.6L172.1,324.6M37.9,274.0L32.7,275.0M351.2,398.7L354.8,394.8M344.2,434.8L348.4,438.0M438.3,399.2L440.4,404.0M523.4,454.1L528.2,456.2M212.7,392.7L217.5,390.6M90.5,417.1L95.3,419.2M189.4,326.7L194.2,328.8M84.7,417.1L86.8,422.0M41.1,423.6L36.2,425.6M300.8,465.3L305.7,467.4M64.3,438.5L69.2,436.4M580.8,267.6L578.1,272.1M408.7,264.9L404.2,267.6M169.8,289.8L170.9,294.9M422.2,451.3L426.7,454.1M391.1,317.5L386.6,320.3M636.7,368.6L641.9,367.5M315.0,257.3L316.1,262.5M93.2,317.9L90.5,322.3M61.6,337.4L57.1,334.7M123.8,417.1L126.5,421.6M294.7,435.8L299.2,438.5M326.5,396.4L331.0,399.2M480.0,322.3L475.8,325.6M288.8,468.5L292.0,472.7M519.2,417.1L523.4,420.4M536.5,394.8L539.7,390.6M512.1,370.7L515.3,366.6M633.2,417.1L636.4,421.3M589.8,367.5L585.6,370.7M641.5,254.1L642.8,259.3M577.0,322.3L575.7,327.5M376.6,327.2L381.8,325.9M228.0,329.1L226.7,334.2M281.6,438.0L286.7,439.3M172.6,370.3L172.6,365.0M188.6,419.2L193.9,419.2M57.9,298.6L57.9,303.9M277.6,321.9L277.6,327.2M360.9,253.2L360.9,258.5M57.1,260.1L57.1,265.4M88.0,317.5L93.2,317.9M469.4,254.8L469.1,260.1M276.4,282.1L276.8,287.4M132.3,266.0L134.5,261.2M262.3,338.4L257.5,340.6M267.4,263.8L272.7,264.4M310.8,441.2L314.5,437.4M335.4,425.2L339.1,421.3M406.6,446.0L410.3,442.2M457.5,362.2L461.4,365.9M389.5,367.0L390.1,372.3M172.1,324.6L177.4,323.9M404.2,267.6L408.7,270.5M641.5,327.5L644.4,332.0M209.0,343.9L211.9,348.4M199.1,332.3L203.1,328.8M544.6,324.3L548.6,327.8M595.8,395.1L601.1,394.3M99.7,420.8L100.5,426.1M503.6,461.0L504.4,455.7M640.7,248.8L641.5,254.1M259.4,370.3L264.7,371.1M594.2,370.3L599.5,371.1M191.8,461.0L191.0,466.3M614.5,323.1L619.9,323.9M134.2,419.2L139.3,417.6M231.2,254.1L232.8,259.3M268.4,367.5L273.5,369.1M597.9,365.9L599.5,371.1M35.9,331.5L41.1,329.9M565.3,474.6L566.9,469.5M593.4,276.1L598.2,273.7M199.1,332.3L203.9,334.7M63.5,260.9L68.4,258.5M400.2,439.6L402.6,434.8M312.9,376.7L308.1,379.1M317.7,367.5L315.3,372.3M179.8,317.5L182.2,322.3M34.6,285.8L39.5,288.2M612.6,283.7L610.2,288.5M509.2,289.0L506.8,293.8M411.1,260.1L408.7,264.9M609.4,322.7L607.0,327.5M333.3,340.6L338.6,341.6M468.3,465.3L473.6,466.3M527.7,461.0L524.5,465.3M623.5,327.2L626.8,331.5M440.4,404.0L444.7,400.8M307.3,451.3L310.5,455.7M405.5,260.6L408.7,264.9M73.2,367.0L76.4,362.7M206.8,451.3L211.1,454.6M400.7,451.3L403.9,455.7M324.1,319.1L320.9,323.5M350.0,322.3L355.3,323.5M551.8,333.9L557.2,333.9M344.2,321.1L348.4,317.5M342.3,289.5L341.0,284.2M272.7,264.4L278.0,265.7M45.5,333.9L41.9,337.9M158.1,424.0L162.1,420.4M438.0,290.6L442.0,294.3M116.2,266.5L112.5,262.5M114.1,451.3L117.8,455.4M258.3,334.7L262.3,338.4M175.3,439.6L180.1,442.2M615.8,417.1L620.7,419.7M417.1,328.8L417.4,334.2M133.4,455.4L138.8,456.2M70.8,376.2L70.0,370.7M60.3,317.5L61.1,323.0M62.7,343.2L63.5,348.7M311.8,264.9L307.3,261.7M232.8,259.3L237.3,262.5M422.2,426.1L426.7,422.9M603.0,417.1L607.5,420.4M569.6,440.6L574.1,443.8M385.8,260.6L389.0,256.1M546.5,367.0L551.0,370.3M372.1,262.5L375.3,258.0M411.1,260.1L413.9,255.3M649.6,337.9L651.2,332.6M118.9,436.4L124.2,434.8M630.0,276.6L632.7,281.4M398.6,285.0L403.9,283.4M390.1,377.5L395.4,379.1M340.2,451.3L342.9,456.2M499.6,362.2L501.2,367.5M354.4,367.0L352.9,372.3M568.5,272.9L566.9,278.2M387.9,381.0L386.2,386.3M61.6,337.4L67.1,338.4M159.7,353.2L161.8,358.3M507.9,373.5L502.8,371.4M449.2,367.0L453.0,371.1M142.5,375.1L146.1,370.7M657.9,257.3L653.6,260.9M90.0,251.2L94.4,254.8M209.0,343.9L205.5,339.5M271.6,398.4L275.9,394.8M309.2,394.3L312.1,399.2M256.7,471.4L261.5,474.3M472.3,371.1L469.4,375.9M429.9,465.3L435.6,465.3M157.3,465.3L162.9,465.3M76.4,362.7L82.0,362.7M636.7,273.7L636.7,279.3M435.6,465.3L441.2,465.3M494.0,469.5L499.6,469.5M47.5,256.1L41.9,256.4M390.1,329.1L389.8,334.7M554.2,394.3L556.1,399.6M344.2,468.5L348.8,471.7M604.6,332.6L607.0,327.5M617.5,371.9L621.5,367.9M37.0,390.3L36.2,395.9M57.1,328.3L62.7,327.5M56.3,254.4L57.1,260.1M320.1,454.6L324.1,458.6M69.2,278.5L73.2,282.6M390.6,251.2L394.6,255.3M152.5,260.1L156.5,264.1M413.9,290.6L414.7,296.2M405.8,459.9L404.2,465.3M580.8,253.7L582.9,258.9M506.3,254.8L508.4,260.1M137.2,392.7L141.6,396.4M255.1,394.3L259.4,390.6M627.9,296.5L623.5,300.2M355.3,323.5L360.6,325.6M482.3,327.8L487.6,329.9M423.8,394.3L424.8,400.0M61.9,466.3L67.5,465.3M425.4,362.7L429.9,366.2M98.9,440.9L102.4,445.4M118.9,371.9L113.5,370.1M102.9,400.0L101.8,394.3M259.1,325.1L264.7,323.9M184.6,327.5L183.3,333.1M289.6,267.3L295.2,268.6M236.0,471.7L241.4,469.8M84.7,417.1L90.5,417.1M604.6,276.1L609.4,272.9M333.0,251.2L336.2,256.1M339.4,394.3L344.2,397.6M245.4,420.4L250.3,417.1M326.5,362.7L331.4,365.9M198.2,264.9L203.1,261.7M237.4,454.6L242.2,451.3M485.1,367.0L490.0,370.3M457.0,263.3L461.9,260.1M124.2,468.5L127.5,473.3M165.7,288.2L162.4,293.0M211.9,374.3L208.7,379.1M102.4,445.4L106.9,441.7M178.2,258.0L180.6,263.3M608.1,367.9L613.4,370.3M394.6,446.0L392.2,451.3M47.8,395.9L53.6,395.1M609.4,457.8L615.0,456.2M215.9,471.4L221.5,469.8M121.3,285.0L123.0,290.6M61.6,337.4L62.7,343.2M608.6,279.3L612.6,283.7M470.4,335.2L475.8,332.9M279.6,255.3L282.4,260.6M569.0,367.0L574.9,366.6M194.2,328.8L199.1,332.3M182.2,469.5L186.5,465.3M232.8,428.1L237.3,424.0M148.0,256.1L152.5,260.1M158.6,323.0L155.7,328.3M132.3,266.0L129.4,271.3M81.5,334.2L80.4,328.3M618.2,452.5L624.2,451.3M310.5,321.4L316.1,319.1M347.7,268.6L346.4,274.5M589.8,278.2L588.5,284.2M219.9,417.1L226.0,417.1M575.4,333.6L575.7,327.5M585.3,272.1L591.4,272.4M69.2,269.7L74.8,272.1M438.0,290.6L443.6,288.2M73.2,282.6L70.8,288.2M552.6,280.9L555.0,286.6M462.7,327.2L458.4,322.8M430.2,456.2L436.4,455.7M250.7,455.7L255.1,451.3M187.5,453.4L191.8,457.8M270.3,281.4L276.4,282.1M502.8,439.0L507.3,434.8M588.5,439.0L593.0,434.8M203.9,469.5L208.4,465.3M116.8,469.5L121.3,465.3M369.7,457.8L375.6,456.2M256.7,328.8L258.3,334.7M319.8,428.9L318.2,434.8M410.7,276.9L409.9,283.0M575.4,333.6L569.3,332.6M335.9,328.3L333.3,333.9M498.0,269.7L494.8,275.0M475.5,341.1L477.8,335.4M101.8,457.3L107.7,455.4M571.7,269.2L577.3,266.5M464.3,274.5L460.3,279.3M53.9,289.0L58.7,293.0M176.2,455.7L170.2,457.3M39.5,398.4L45.5,400.0M560.0,337.9L566.1,336.3M239.2,419.2L245.4,420.4M309.2,469.8L313.7,465.3M465.9,330.7L470.4,335.2M340.7,269.2L344.2,274.5M610.2,288.5L605.4,292.7M552.9,255.3L558.8,252.8M51.0,457.3L57.1,455.4M303.2,459.4L300.8,465.3M249.4,288.2L249.4,294.6M63.2,299.1L67.1,304.2M263.1,455.7L269.5,455.7M121.0,458.9L121.3,465.3M557.2,456.2L563.6,455.7M493.5,400.3L487.1,400.8M483.2,340.6L479.4,335.4M36.2,302.6L33.0,308.2M308.1,444.9L307.3,451.3M281.6,326.7L288.0,325.9M380.9,372.7L385.3,377.5M542.1,362.2L546.5,367.0M591.0,417.1L595.3,422.0M38.2,447.0L43.0,451.3M203.1,261.7L209.5,260.6M513.2,441.7L519.2,439.0M156.5,264.1L161.3,268.6M148.0,420.4L152.5,425.2M358.0,456.2L362.5,451.3M493.2,281.4L496.1,287.4M643.9,458.6L649.9,455.7M316.1,400.0L322.5,398.4M99.7,343.5L98.1,350.0M628.4,270.2L630.0,276.6M460.3,279.3L466.7,280.9M451.1,457.8L457.5,456.2M162.9,320.3L166.9,325.6M222.3,443.3L226.3,438.0M406.6,446.0L410.7,451.3M52.6,471.7L58.7,469.0M605.4,292.7L599.0,294.6M408.7,270.5L410.7,276.9M475.5,362.7L480.6,367.0M282.4,260.6L278.0,265.7M360.1,376.7L365.7,380.4M313.7,458.6L313.7,465.3M375.3,417.1L382.1,417.1M193.9,451.3L191.8,457.8M127.5,473.3L133.2,469.8M162.1,391.1L168.9,390.6M641.5,327.5L636.4,323.1M528.8,325.9L534.6,322.3M348.8,471.7L355.3,469.5M303.2,440.1L308.1,444.9M427.5,439.6L432.3,434.8M324.1,458.6L325.2,465.3M293.6,459.4L296.0,465.8M548.6,257.7L546.2,264.1M146.9,444.9L144.4,451.3M598.2,273.7L604.6,276.1M53.6,428.1L52.3,434.8M376.6,327.2L370.9,331.0M587.3,390.6L594.2,390.6M536.5,366.2L542.1,362.2M39.5,457.3L43.0,451.3M510.8,428.9L507.3,434.8M131.8,383.6L130.2,390.3M418.4,420.4L422.2,426.1M124.9,328.8L129.3,334.1M417.4,397.1L423.8,394.3M426.4,390.6L432.8,393.5M208.7,383.6L208.4,390.6M223.9,266.5L229.6,262.2M390.6,422.0L395.4,427.3M232.8,428.1L235.2,434.8M562.9,284.2L566.9,278.2M446.0,373.5L449.2,367.0M143.2,336.3L147.7,341.9M577.6,457.8L584.5,455.7M239.2,327.5L246.2,325.9M78.0,444.9L78.3,452.1M73.2,402.4L80.4,401.9M532.5,367.5L525.4,366.4M624.2,322.3L631.4,321.3M439.6,440.6L444.1,434.8M232.8,383.9L235.7,390.6M330.6,289.8L331.1,282.4M284.0,457.8L291.2,455.7M341.0,465.3L345.6,459.4M331.4,434.8L331.4,427.3M580.8,427.3L580.5,434.8M451.1,457.8L450.6,465.3M450.6,259.3L457.0,263.3M73.2,282.6L79.6,278.5M550.2,471.7L554.2,465.3M370.5,465.3L369.7,457.8M554.2,394.3L560.9,390.6M271.1,301.0L278.7,299.7M505.7,269.7L498.0,269.7M341.0,284.2L334.0,280.9M335.4,457.8L342.9,456.2M422.2,451.3L417.9,457.8M226.0,457.8L230.4,451.3M588.2,458.6L595.3,455.4M455.9,424.0L463.0,420.8M336.2,471.4L341.0,465.3" stroke="#b4b4b4" stroke-width="0.45" fill="none"/><g fill="#8c8c8c"><circle cx="337.8" cy="321.1" r="3.1"/><circle cx="369.7" cy="332.6" r="3.1"/><circle cx="456.6" cy="321.1" r="3.1"/><circle cx="478.7" cy="332.6" r="3.1"/><circle cx="525.0" cy="326.7" r="3.1"/><circle cx="634.3" cy="321.1" r="3.1"/><circle cx="522.9" cy="365.9" r="3.1"/></g><g fill="#8c8c8c"><circle cx="39.1" cy="252.0" r="1.55"/><circle cx="43.5" cy="251.2" r="1.55"/><circle cx="41.9" cy="256.4" r="1.55"/><circle cx="38.6" cy="259.6" r="1.55"/><circle cx="40.3" cy="264.1" r="1.55"/><circle cx="41.9" cy="268.1" r="1.55"/><circle cx="34.6" cy="269.7" r="1.55"/><circle cx="32.2" cy="272.1" r="1.55"/><circle cx="32.7" cy="275.0" r="1.55"/><circle cx="34.6" cy="278.5" r="1.55"/><circle cx="41.1" cy="271.3" r="1.55"/><circle cx="43.5" cy="273.7" r="1.55"/><circle cx="40.3" cy="278.5" r="1.55"/><circle cx="41.9" cy="280.9" r="1.55"/><circle cx="45.1" cy="282.6" r="1.55"/><circle cx="34.6" cy="285.8" r="1.55"/><circle cx="40.3" cy="285.0" r="1.55"/><circle cx="39.5" cy="288.2" r="1.55"/><circle cx="51.5" cy="259.3" r="1.55"/><circle cx="56.3" cy="254.4" r="1.55"/><circle cx="57.1" cy="260.1" r="1.55"/><circle cx="62.7" cy="255.3" r="1.55"/><circle cx="66.8" cy="256.1" r="1.55"/><circle cx="68.4" cy="258.5" r="1.55"/><circle cx="66.0" cy="264.1" r="1.55"/><circle cx="61.9" cy="264.9" r="1.55"/><circle cx="57.1" cy="265.4" r="1.55"/><circle cx="67.5" cy="266.5" r="1.55"/><circle cx="69.2" cy="269.7" r="1.55"/><circle cx="65.2" cy="269.7" r="1.55"/><circle cx="61.9" cy="271.3" r="1.55"/><circle cx="56.3" cy="272.1" r="1.55"/><circle cx="53.1" cy="274.5" r="1.55"/><circle cx="55.5" cy="276.1" r="1.55"/><circle cx="64.3" cy="273.7" r="1.55"/><circle cx="66.8" cy="272.9" r="1.55"/><circle cx="74.8" cy="272.1" r="1.55"/><circle cx="50.7" cy="278.5" r="1.55"/><circle cx="53.1" cy="280.9" r="1.55"/><circle cx="56.3" cy="279.3" r="1.55"/><circle cx="59.5" cy="278.5" r="1.55"/><circle cx="62.7" cy="277.7" r="1.55"/><circle cx="66.0" cy="276.9" r="1.55"/><circle cx="69.2" cy="278.5" r="1.55"/><circle cx="73.2" cy="282.6" r="1.55"/><circle cx="66.0" cy="281.8" r="1.55"/><circle cx="62.7" cy="282.6" r="1.55"/><circle cx="59.5" cy="282.6" r="1.55"/><circle cx="56.3" cy="283.4" r="1.55"/><circle cx="53.9" cy="285.8" r="1.55"/><circle cx="53.9" cy="289.0" r="1.55"/><circle cx="59.5" cy="286.6" r="1.55"/><circle cx="64.3" cy="285.0" r="1.55"/><circle cx="70.8" cy="288.2" r="1.55"/><circle cx="49.1" cy="281.8" r="1.55"/><circle cx="47.5" cy="278.5" r="1.55"/><circle cx="58.7" cy="293.0" r="1.55"/><circle cx="55.5" cy="296.2" r="1.55"/><circle cx="49.1" cy="301.0" r="1.55"/><circle cx="37.0" cy="296.2" r="1.55"/><circle cx="36.2" cy="302.6" r="1.55"/><circle cx="40.3" cy="303.4" r="1.55"/><circle cx="33.0" cy="308.2" r="1.55"/><circle cx="31.4" cy="313.1" r="1.55"/><circle cx="67.5" cy="309.1" r="1.55"/><circle cx="90.0" cy="251.2" r="1.55"/><circle cx="94.4" cy="254.8" r="1.55"/><circle cx="98.5" cy="256.4" r="1.55"/><circle cx="101.3" cy="256.1" r="1.55"/><circle cx="99.2" cy="259.3" r="1.55"/><circle cx="100.5" cy="262.5" r="1.55"/><circle cx="103.7" cy="265.7" r="1.55"/><circle cx="110.1" cy="252.5" r="1.55"/><circle cx="114.1" cy="253.7" r="1.55"/><circle cx="111.7" cy="256.9" r="1.55"/><circle cx="108.5" cy="258.9" r="1.55"/><circle cx="110.1" cy="263.3" r="1.55"/><circle cx="112.5" cy="262.5" r="1.55"/><circle cx="106.1" cy="264.1" r="1.55"/><circle cx="90.8" cy="270.2" r="1.55"/><circle cx="94.8" cy="269.7" r="1.55"/><circle cx="98.1" cy="270.5" r="1.55"/><circle cx="100.5" cy="271.3" r="1.55"/><circle cx="103.7" cy="270.5" r="1.55"/><circle cx="106.9" cy="269.7" r="1.55"/><circle cx="88.4" cy="274.5" r="1.55"/><circle cx="92.5" cy="273.7" r="1.55"/><circle cx="96.5" cy="274.5" r="1.55"/><circle cx="98.9" cy="275.3" r="1.55"/><circle cx="102.1" cy="274.5" r="1.55"/><circle cx="105.3" cy="275.3" r="1.55"/><circle cx="108.5" cy="276.1" r="1.55"/><circle cx="95.7" cy="277.7" r="1.55"/><circle cx="98.9" cy="278.5" r="1.55"/><circle cx="102.1" cy="278.5" r="1.55"/><circle cx="105.3" cy="278.5" r="1.55"/><circle cx="95.7" cy="280.1" r="1.55"/><circle cx="100.5" cy="280.9" r="1.55"/><circle cx="103.7" cy="281.8" r="1.55"/><circle cx="107.7" cy="282.6" r="1.55"/><circle cx="117.3" cy="278.5" r="1.55"/><circle cx="121.3" cy="277.7" r="1.55"/><circle cx="125.4" cy="276.1" r="1.55"/><circle cx="112.5" cy="283.4" r="1.55"/><circle cx="114.9" cy="285.8" r="1.55"/><circle cx="118.1" cy="284.2" r="1.55"/><circle cx="121.3" cy="285.0" r="1.55"/><circle cx="114.1" cy="288.2" r="1.55"/><circle cx="123.0" cy="290.6" r="1.55"/><circle cx="127.0" cy="292.2" r="1.55"/><circle cx="123.0" cy="295.4" r="1.55"/><circle cx="126.2" cy="296.2" r="1.55"/><circle cx="118.9" cy="274.5" r="1.55"/><circle cx="114.9" cy="276.1" r="1.55"/><circle cx="79.6" cy="278.5" r="1.55"/><circle cx="84.4" cy="279.8" r="1.55"/><circle cx="87.6" cy="281.8" r="1.55"/><circle cx="91.6" cy="282.6" r="1.55"/><circle cx="90.8" cy="285.0" r="1.55"/><circle cx="96.5" cy="283.4" r="1.55"/><circle cx="95.7" cy="286.6" r="1.55"/><circle cx="90.8" cy="290.1" r="1.55"/><circle cx="94.8" cy="292.2" r="1.55"/><circle cx="90.8" cy="295.4" r="1.55"/><circle cx="129.4" cy="271.3" r="1.55"/><circle cx="131.8" cy="273.7" r="1.55"/><circle cx="130.2" cy="277.7" r="1.55"/><circle cx="134.2" cy="279.3" r="1.55"/><circle cx="138.8" cy="271.3" r="1.55"/><circle cx="137.2" cy="274.0" r="1.55"/><circle cx="144.1" cy="252.8" r="1.55"/><circle cx="149.3" cy="251.2" r="1.55"/><circle cx="148.0" cy="256.1" r="1.55"/><circle cx="143.2" cy="257.3" r="1.55"/><circle cx="152.5" cy="260.1" r="1.55"/><circle cx="156.5" cy="264.1" r="1.55"/><circle cx="161.3" cy="268.6" r="1.55"/><circle cx="162.1" cy="272.1" r="1.55"/><circle cx="159.7" cy="276.1" r="1.55"/><circle cx="154.9" cy="275.0" r="1.55"/><circle cx="155.7" cy="279.3" r="1.55"/><circle cx="164.5" cy="272.9" r="1.55"/><circle cx="166.9" cy="274.5" r="1.55"/><circle cx="169.3" cy="269.7" r="1.55"/><circle cx="172.6" cy="267.3" r="1.55"/><circle cx="174.2" cy="270.5" r="1.55"/><circle cx="169.8" cy="277.3" r="1.55"/><circle cx="170.9" cy="280.9" r="1.55"/><circle cx="169.3" cy="285.0" r="1.55"/><circle cx="165.7" cy="288.2" r="1.55"/><circle cx="169.8" cy="289.8" r="1.55"/><circle cx="162.4" cy="293.0" r="1.55"/><circle cx="170.9" cy="294.9" r="1.55"/><circle cx="178.2" cy="258.0" r="1.55"/><circle cx="180.6" cy="263.3" r="1.55"/><circle cx="183.0" cy="265.7" r="1.55"/><circle cx="187.0" cy="259.3" r="1.55"/><circle cx="191.0" cy="258.9" r="1.55"/><circle cx="195.0" cy="256.1" r="1.55"/><circle cx="192.6" cy="262.5" r="1.55"/><circle cx="189.4" cy="264.1" r="1.55"/><circle cx="193.4" cy="265.7" r="1.55"/><circle cx="198.2" cy="264.9" r="1.55"/><circle cx="203.1" cy="261.7" r="1.55"/><circle cx="199.8" cy="268.9" r="1.55"/><circle cx="204.7" cy="269.2" r="1.55"/><circle cx="193.4" cy="272.1" r="1.55"/><circle cx="190.2" cy="271.3" r="1.55"/><circle cx="187.0" cy="268.9" r="1.55"/><circle cx="186.2" cy="272.9" r="1.55"/><circle cx="187.0" cy="277.7" r="1.55"/><circle cx="190.2" cy="278.5" r="1.55"/><circle cx="192.6" cy="280.1" r="1.55"/><circle cx="191.8" cy="285.0" r="1.55"/><circle cx="199.1" cy="284.6" r="1.55"/><circle cx="179.0" cy="269.7" r="1.55"/><circle cx="181.4" cy="268.9" r="1.55"/><circle cx="183.8" cy="269.7" r="1.55"/><circle cx="178.2" cy="272.1" r="1.55"/><circle cx="180.6" cy="272.1" r="1.55"/><circle cx="183.0" cy="272.1" r="1.55"/><circle cx="179.0" cy="274.5" r="1.55"/><circle cx="181.4" cy="274.5" r="1.55"/><circle cx="183.8" cy="274.5" r="1.55"/><circle cx="182.2" cy="276.9" r="1.55"/><circle cx="166.6" cy="278.2" r="1.55"/><circle cx="168.5" cy="280.9" r="1.55"/><circle cx="210.0" cy="252.0" r="1.55"/><circle cx="213.5" cy="251.2" r="1.55"/><circle cx="212.7" cy="256.9" r="1.55"/><circle cx="216.7" cy="258.5" r="1.55"/><circle cx="209.5" cy="260.6" r="1.55"/><circle cx="211.9" cy="260.9" r="1.55"/><circle cx="214.3" cy="260.1" r="1.55"/><circle cx="216.7" cy="260.9" r="1.55"/><circle cx="210.3" cy="264.9" r="1.55"/><circle cx="213.5" cy="264.1" r="1.55"/><circle cx="217.5" cy="264.1" r="1.55"/><circle cx="219.9" cy="265.7" r="1.55"/><circle cx="220.7" cy="262.5" r="1.55"/><circle cx="223.9" cy="266.5" r="1.55"/><circle cx="229.6" cy="262.2" r="1.55"/><circle cx="232.8" cy="259.3" r="1.55"/><circle cx="236.8" cy="256.9" r="1.55"/><circle cx="237.3" cy="262.5" r="1.55"/><circle cx="241.4" cy="260.1" r="1.55"/><circle cx="249.4" cy="258.5" r="1.55"/><circle cx="248.7" cy="267.3" r="1.55"/><circle cx="254.3" cy="268.1" r="1.55"/><circle cx="255.9" cy="271.3" r="1.55"/><circle cx="247.0" cy="271.3" r="1.55"/><circle cx="249.4" cy="272.9" r="1.55"/><circle cx="254.3" cy="273.7" r="1.55"/><circle cx="256.7" cy="273.7" r="1.55"/><circle cx="257.5" cy="276.9" r="1.55"/><circle cx="247.8" cy="276.6" r="1.55"/><circle cx="255.1" cy="276.1" r="1.55"/><circle cx="250.3" cy="279.3" r="1.55"/><circle cx="255.9" cy="279.3" r="1.55"/><circle cx="260.7" cy="279.3" r="1.55"/><circle cx="249.4" cy="284.2" r="1.55"/><circle cx="249.4" cy="288.2" r="1.55"/><circle cx="258.3" cy="288.2" r="1.55"/><circle cx="249.4" cy="294.6" r="1.55"/><circle cx="259.1" cy="297.0" r="1.55"/><circle cx="261.0" cy="301.0" r="1.55"/><circle cx="255.1" cy="297.8" r="1.55"/><circle cx="265.5" cy="280.5" r="1.55"/><circle cx="270.3" cy="281.4" r="1.55"/><circle cx="276.4" cy="282.1" r="1.55"/><circle cx="282.4" cy="283.7" r="1.55"/><circle cx="276.4" cy="251.2" r="1.55"/><circle cx="267.4" cy="263.8" r="1.55"/><circle cx="272.7" cy="264.4" r="1.55"/><circle cx="278.0" cy="265.7" r="1.55"/><circle cx="285.6" cy="266.5" r="1.55"/><circle cx="289.6" cy="267.3" r="1.55"/><circle cx="295.2" cy="268.6" r="1.55"/><circle cx="277.6" cy="269.7" r="1.55"/><circle cx="280.8" cy="269.7" r="1.55"/><circle cx="288.8" cy="269.7" r="1.55"/><circle cx="276.8" cy="273.4" r="1.55"/><circle cx="280.8" cy="273.7" r="1.55"/><circle cx="284.8" cy="273.7" r="1.55"/><circle cx="288.0" cy="272.9" r="1.55"/><circle cx="281.6" cy="288.2" r="1.55"/><circle cx="284.0" cy="288.2" r="1.55"/><circle cx="286.4" cy="289.0" r="1.55"/><circle cx="276.8" cy="287.4" r="1.55"/><circle cx="277.6" cy="293.0" r="1.55"/><circle cx="280.0" cy="293.8" r="1.55"/><circle cx="282.4" cy="292.2" r="1.55"/><circle cx="284.8" cy="293.0" r="1.55"/><circle cx="287.2" cy="294.6" r="1.55"/><circle cx="289.6" cy="296.2" r="1.55"/><circle cx="292.8" cy="295.4" r="1.55"/><circle cx="296.0" cy="296.2" r="1.55"/><circle cx="300.8" cy="295.4" r="1.55"/><circle cx="302.4" cy="300.2" r="1.55"/><circle cx="296.8" cy="300.7" r="1.55"/><circle cx="293.6" cy="300.2" r="1.55"/><circle cx="291.2" cy="299.4" r="1.55"/><circle cx="288.0" cy="298.6" r="1.55"/><circle cx="283.2" cy="297.0" r="1.55"/><circle cx="280.8" cy="297.8" r="1.55"/><circle cx="278.4" cy="297.8" r="1.55"/><circle cx="271.1" cy="301.0" r="1.55"/><circle cx="280.8" cy="300.2" r="1.55"/><circle cx="288.0" cy="301.8" r="1.55"/><circle cx="291.2" cy="303.4" r="1.55"/><circle cx="288.8" cy="306.6" r="1.55"/><circle cx="284.8" cy="305.8" r="1.55"/><circle cx="282.4" cy="304.2" r="1.55"/><circle cx="292.8" cy="305.8" r="1.55"/><circle cx="292.0" cy="309.9" r="1.55"/><circle cx="295.2" cy="307.4" r="1.55"/><circle cx="299.2" cy="301.0" r="1.55"/><circle cx="290.4" cy="293.0" r="1.55"/><circle cx="307.3" cy="261.7" r="1.55"/><circle cx="316.1" cy="262.5" r="1.55"/><circle cx="313.7" cy="268.9" r="1.55"/><circle cx="319.3" cy="265.7" r="1.55"/><circle cx="316.1" cy="272.1" r="1.55"/><circle cx="318.5" cy="274.5" r="1.55"/><circle cx="321.7" cy="274.5" r="1.55"/><circle cx="324.9" cy="273.7" r="1.55"/><circle cx="319.3" cy="278.5" r="1.55"/><circle cx="316.9" cy="282.6" r="1.55"/><circle cx="320.9" cy="281.8" r="1.55"/><circle cx="321.7" cy="286.6" r="1.55"/><circle cx="328.1" cy="277.7" r="1.55"/><circle cx="330.6" cy="276.1" r="1.55"/><circle cx="333.0" cy="274.5" r="1.55"/><circle cx="333.8" cy="276.9" r="1.55"/><circle cx="336.2" cy="277.7" r="1.55"/><circle cx="331.4" cy="279.3" r="1.55"/><circle cx="333.8" cy="280.1" r="1.55"/><circle cx="330.6" cy="281.8" r="1.55"/><circle cx="337.8" cy="273.7" r="1.55"/><circle cx="334.6" cy="271.3" r="1.55"/><circle cx="333.0" cy="251.2" r="1.55"/><circle cx="336.2" cy="256.1" r="1.55"/><circle cx="339.4" cy="255.3" r="1.55"/><circle cx="337.8" cy="259.3" r="1.55"/><circle cx="341.0" cy="260.1" r="1.55"/><circle cx="337.8" cy="261.7" r="1.55"/><circle cx="341.8" cy="264.1" r="1.55"/><circle cx="337.0" cy="269.7" r="1.55"/><circle cx="330.6" cy="289.8" r="1.55"/><circle cx="327.3" cy="294.6" r="1.55"/><circle cx="331.4" cy="293.8" r="1.55"/><circle cx="324.1" cy="298.6" r="1.55"/><circle cx="329.7" cy="297.0" r="1.55"/><circle cx="341.0" cy="284.2" r="1.55"/><circle cx="344.2" cy="274.5" r="1.55"/><circle cx="346.4" cy="274.5" r="1.55"/><circle cx="347.2" cy="288.2" r="1.55"/><circle cx="352.0" cy="289.0" r="1.55"/><circle cx="349.6" cy="292.2" r="1.55"/><circle cx="360.9" cy="253.2" r="1.55"/><circle cx="356.9" cy="257.3" r="1.55"/><circle cx="360.9" cy="258.5" r="1.55"/><circle cx="356.9" cy="261.7" r="1.55"/><circle cx="360.9" cy="261.7" r="1.55"/><circle cx="364.1" cy="263.3" r="1.55"/><circle cx="366.5" cy="264.1" r="1.55"/><circle cx="368.9" cy="262.5" r="1.55"/><circle cx="372.1" cy="262.5" r="1.55"/><circle cx="375.3" cy="258.0" r="1.55"/><circle cx="374.5" cy="264.1" r="1.55"/><circle cx="365.7" cy="266.5" r="1.55"/><circle cx="368.1" cy="266.5" r="1.55"/><circle cx="371.3" cy="265.7" r="1.55"/><circle cx="373.7" cy="266.5" r="1.55"/><circle cx="365.7" cy="268.9" r="1.55"/><circle cx="368.1" cy="268.9" r="1.55"/><circle cx="370.5" cy="268.9" r="1.55"/><circle cx="373.7" cy="268.9" r="1.55"/><circle cx="378.5" cy="264.1" r="1.55"/><circle cx="380.1" cy="268.9" r="1.55"/><circle cx="360.9" cy="270.8" r="1.55"/><circle cx="368.9" cy="272.1" r="1.55"/><circle cx="372.9" cy="271.3" r="1.55"/><circle cx="385.8" cy="260.6" r="1.55"/><circle cx="389.8" cy="262.5" r="1.55"/><circle cx="389.0" cy="256.1" r="1.55"/><circle cx="390.6" cy="251.2" r="1.55"/><circle cx="394.6" cy="255.3" r="1.55"/><circle cx="368.9" cy="276.1" r="1.55"/><circle cx="364.1" cy="284.2" r="1.55"/><circle cx="367.3" cy="280.1" r="1.55"/><circle cx="370.5" cy="279.3" r="1.55"/><circle cx="368.1" cy="283.4" r="1.55"/><circle cx="371.3" cy="284.2" r="1.55"/><circle cx="375.3" cy="284.6" r="1.55"/><circle cx="365.7" cy="287.4" r="1.55"/><circle cx="368.9" cy="287.4" r="1.55"/><circle cx="372.1" cy="289.8" r="1.55"/><circle cx="361.7" cy="291.4" r="1.55"/><circle cx="364.1" cy="291.4" r="1.55"/><circle cx="366.5" cy="290.6" r="1.55"/><circle cx="364.1" cy="294.6" r="1.55"/><circle cx="367.3" cy="297.0" r="1.55"/><circle cx="366.5" cy="293.8" r="1.55"/><circle cx="416.8" cy="251.2" r="1.55"/><circle cx="413.9" cy="255.3" r="1.55"/><circle cx="408.7" cy="264.9" r="1.55"/><circle cx="404.2" cy="267.6" r="1.55"/><circle cx="399.4" cy="266.5" r="1.55"/><circle cx="408.7" cy="270.5" r="1.55"/><circle cx="410.7" cy="276.9" r="1.55"/><circle cx="418.7" cy="270.2" r="1.55"/><circle cx="422.7" cy="270.5" r="1.55"/><circle cx="419.5" cy="275.3" r="1.55"/><circle cx="423.2" cy="277.7" r="1.55"/><circle cx="426.7" cy="274.5" r="1.55"/><circle cx="417.1" cy="280.1" r="1.55"/><circle cx="420.3" cy="280.9" r="1.55"/><circle cx="413.9" cy="282.6" r="1.55"/><circle cx="409.9" cy="283.0" r="1.55"/><circle cx="407.4" cy="285.8" r="1.55"/><circle cx="410.7" cy="288.2" r="1.55"/><circle cx="413.9" cy="290.6" r="1.55"/><circle cx="417.1" cy="284.2" r="1.55"/><circle cx="398.6" cy="285.0" r="1.55"/><circle cx="403.9" cy="283.4" r="1.55"/><circle cx="421.9" cy="285.8" r="1.55"/><circle cx="414.7" cy="296.2" r="1.55"/><circle cx="414.7" cy="301.0" r="1.55"/><circle cx="428.3" cy="282.6" r="1.55"/><circle cx="432.3" cy="283.0" r="1.55"/><circle cx="429.9" cy="286.6" r="1.55"/><circle cx="433.1" cy="286.6" r="1.55"/><circle cx="432.3" cy="289.8" r="1.55"/><circle cx="438.0" cy="290.6" r="1.55"/><circle cx="442.0" cy="294.3" r="1.55"/><circle cx="427.5" cy="294.6" r="1.55"/><circle cx="426.7" cy="299.4" r="1.55"/><circle cx="443.6" cy="288.2" r="1.55"/><circle cx="426.7" cy="285.8" r="1.55"/><circle cx="442.0" cy="254.4" r="1.55"/><circle cx="449.2" cy="255.3" r="1.55"/><circle cx="444.4" cy="260.9" r="1.55"/><circle cx="450.6" cy="259.3" r="1.55"/><circle cx="457.0" cy="263.3" r="1.55"/><circle cx="463.5" cy="256.1" r="1.55"/><circle cx="461.9" cy="260.1" r="1.55"/><circle cx="465.1" cy="260.9" r="1.55"/><circle cx="469.1" cy="260.1" r="1.55"/><circle cx="474.7" cy="261.7" r="1.55"/><circle cx="465.9" cy="267.3" r="1.55"/><circle cx="468.3" cy="267.3" r="1.55"/><circle cx="470.7" cy="268.1" r="1.55"/><circle cx="475.5" cy="268.1" r="1.55"/><circle cx="465.1" cy="269.7" r="1.55"/><circle cx="467.5" cy="269.7" r="1.55"/><circle cx="472.3" cy="270.5" r="1.55"/><circle cx="469.1" cy="272.1" r="1.55"/><circle cx="466.7" cy="272.9" r="1.55"/><circle cx="464.3" cy="274.5" r="1.55"/><circle cx="460.3" cy="279.3" r="1.55"/><circle cx="457.9" cy="283.4" r="1.55"/><circle cx="466.7" cy="280.9" r="1.55"/><circle cx="465.9" cy="285.8" r="1.55"/><circle cx="470.4" cy="284.2" r="1.55"/><circle cx="483.5" cy="258.5" r="1.55"/><circle cx="485.9" cy="260.9" r="1.55"/><circle cx="488.4" cy="256.9" r="1.55"/><circle cx="481.1" cy="260.1" r="1.55"/><circle cx="484.3" cy="263.8" r="1.55"/><circle cx="481.1" cy="264.4" r="1.55"/><circle cx="483.5" cy="270.2" r="1.55"/><circle cx="473.9" cy="264.1" r="1.55"/><circle cx="506.3" cy="254.8" r="1.55"/><circle cx="515.7" cy="256.1" r="1.55"/><circle cx="518.1" cy="258.9" r="1.55"/><circle cx="508.4" cy="260.1" r="1.55"/><circle cx="512.5" cy="259.6" r="1.55"/><circle cx="514.9" cy="261.7" r="1.55"/><circle cx="509.2" cy="263.3" r="1.55"/><circle cx="511.6" cy="264.1" r="1.55"/><circle cx="510.0" cy="266.5" r="1.55"/><circle cx="512.5" cy="266.5" r="1.55"/><circle cx="510.0" cy="268.9" r="1.55"/><circle cx="512.5" cy="268.9" r="1.55"/><circle cx="506.8" cy="274.0" r="1.55"/><circle cx="498.0" cy="269.7" r="1.55"/><circle cx="494.8" cy="275.0" r="1.55"/><circle cx="497.2" cy="278.2" r="1.55"/><circle cx="493.2" cy="281.4" r="1.55"/><circle cx="496.1" cy="287.4" r="1.55"/><circle cx="510.8" cy="276.1" r="1.55"/><circle cx="513.2" cy="279.8" r="1.55"/><circle cx="514.0" cy="283.0" r="1.55"/><circle cx="511.6" cy="284.2" r="1.55"/><circle cx="522.1" cy="285.8" r="1.55"/><circle cx="512.5" cy="286.6" r="1.55"/><circle cx="514.9" cy="287.4" r="1.55"/><circle cx="509.2" cy="289.0" r="1.55"/><circle cx="512.5" cy="289.0" r="1.55"/><circle cx="506.8" cy="293.8" r="1.55"/><circle cx="517.3" cy="284.2" r="1.55"/><circle cx="551.0" cy="251.6" r="1.55"/><circle cx="548.6" cy="257.7" r="1.55"/><circle cx="541.4" cy="260.9" r="1.55"/><circle cx="535.7" cy="264.9" r="1.55"/><circle cx="538.9" cy="264.9" r="1.55"/><circle cx="541.4" cy="264.1" r="1.55"/><circle cx="543.8" cy="263.3" r="1.55"/><circle cx="546.2" cy="264.1" r="1.55"/><circle cx="548.6" cy="264.9" r="1.55"/><circle cx="551.0" cy="266.5" r="1.55"/><circle cx="543.0" cy="266.5" r="1.55"/><circle cx="545.4" cy="267.3" r="1.55"/><circle cx="547.8" cy="267.3" r="1.55"/><circle cx="538.1" cy="269.7" r="1.55"/><circle cx="541.4" cy="268.9" r="1.55"/><circle cx="543.8" cy="269.7" r="1.55"/><circle cx="546.2" cy="269.7" r="1.55"/><circle cx="548.6" cy="270.5" r="1.55"/><circle cx="534.9" cy="272.9" r="1.55"/><circle cx="541.4" cy="272.1" r="1.55"/><circle cx="544.6" cy="272.9" r="1.55"/><circle cx="551.0" cy="271.3" r="1.55"/><circle cx="526.9" cy="277.3" r="1.55"/><circle cx="530.1" cy="279.3" r="1.55"/><circle cx="534.9" cy="277.7" r="1.55"/><circle cx="534.1" cy="282.6" r="1.55"/><circle cx="532.5" cy="287.4" r="1.55"/><circle cx="541.4" cy="276.9" r="1.55"/><circle cx="549.4" cy="277.7" r="1.55"/><circle cx="552.6" cy="280.9" r="1.55"/><circle cx="555.0" cy="286.6" r="1.55"/><circle cx="554.2" cy="290.6" r="1.55"/><circle cx="544.6" cy="280.9" r="1.55"/><circle cx="551.8" cy="275.3" r="1.55"/><circle cx="558.8" cy="252.8" r="1.55"/><circle cx="557.2" cy="278.5" r="1.55"/><circle cx="562.9" cy="284.2" r="1.55"/><circle cx="558.8" cy="286.6" r="1.55"/><circle cx="557.2" cy="290.6" r="1.55"/><circle cx="559.6" cy="291.4" r="1.55"/><circle cx="580.8" cy="253.7" r="1.55"/><circle cx="591.8" cy="251.6" r="1.55"/><circle cx="589.8" cy="256.1" r="1.55"/><circle cx="582.9" cy="258.9" r="1.55"/><circle cx="586.1" cy="260.9" r="1.55"/><circle cx="588.5" cy="260.1" r="1.55"/><circle cx="582.1" cy="263.3" r="1.55"/><circle cx="584.5" cy="263.3" r="1.55"/><circle cx="574.1" cy="263.3" r="1.55"/><circle cx="577.3" cy="266.5" r="1.55"/><circle cx="566.9" cy="267.3" r="1.55"/><circle cx="568.5" cy="272.9" r="1.55"/><circle cx="566.9" cy="278.2" r="1.55"/><circle cx="578.1" cy="272.1" r="1.55"/><circle cx="585.3" cy="272.1" r="1.55"/><circle cx="591.4" cy="272.4" r="1.55"/><circle cx="593.4" cy="276.1" r="1.55"/><circle cx="589.8" cy="278.2" r="1.55"/><circle cx="588.5" cy="284.2" r="1.55"/><circle cx="591.0" cy="288.5" r="1.55"/><circle cx="598.2" cy="273.7" r="1.55"/><circle cx="600.6" cy="269.2" r="1.55"/><circle cx="604.6" cy="276.1" r="1.55"/><circle cx="604.3" cy="280.9" r="1.55"/><circle cx="608.6" cy="279.3" r="1.55"/><circle cx="609.4" cy="272.9" r="1.55"/><circle cx="611.8" cy="268.6" r="1.55"/><circle cx="614.2" cy="272.1" r="1.55"/><circle cx="612.6" cy="283.7" r="1.55"/><circle cx="610.2" cy="288.5" r="1.55"/><circle cx="605.4" cy="292.7" r="1.55"/><circle cx="599.0" cy="294.6" r="1.55"/><circle cx="640.7" cy="248.8" r="1.55"/><circle cx="641.5" cy="254.1" r="1.55"/><circle cx="642.8" cy="259.3" r="1.55"/><circle cx="646.4" cy="258.5" r="1.55"/><circle cx="649.6" cy="259.6" r="1.55"/><circle cx="647.1" cy="263.3" r="1.55"/><circle cx="651.2" cy="264.1" r="1.55"/><circle cx="647.1" cy="267.3" r="1.55"/><circle cx="651.2" cy="268.1" r="1.55"/><circle cx="643.1" cy="269.7" r="1.55"/><circle cx="640.7" cy="273.7" r="1.55"/><circle cx="644.7" cy="274.5" r="1.55"/><circle cx="648.0" cy="272.1" r="1.55"/><circle cx="636.7" cy="273.7" r="1.55"/><circle cx="636.7" cy="279.3" r="1.55"/><circle cx="626.3" cy="284.6" r="1.55"/><circle cx="631.9" cy="285.8" r="1.55"/><circle cx="631.1" cy="288.2" r="1.55"/><circle cx="633.5" cy="289.0" r="1.55"/><circle cx="631.9" cy="292.2" r="1.55"/><circle cx="661.5" cy="253.8" r="1.55"/><circle cx="31.4" cy="329.1" r="1.55"/><circle cx="35.4" cy="327.5" r="1.55"/><circle cx="35.9" cy="331.5" r="1.55"/><circle cx="41.1" cy="329.9" r="1.55"/><circle cx="43.5" cy="329.1" r="1.55"/><circle cx="45.9" cy="328.3" r="1.55"/><circle cx="47.5" cy="330.7" r="1.55"/><circle cx="50.7" cy="331.5" r="1.55"/><circle cx="53.1" cy="330.7" r="1.55"/><circle cx="57.1" cy="328.3" r="1.55"/><circle cx="56.3" cy="332.3" r="1.55"/><circle cx="53.9" cy="333.1" r="1.55"/><circle cx="57.1" cy="334.7" r="1.55"/><circle cx="49.1" cy="335.5" r="1.55"/><circle cx="41.9" cy="337.9" r="1.55"/><circle cx="47.5" cy="340.3" r="1.55"/><circle cx="51.5" cy="340.3" r="1.55"/><circle cx="60.3" cy="317.5" r="1.55"/><circle cx="65.2" cy="320.3" r="1.55"/><circle cx="61.1" cy="323.0" r="1.55"/><circle cx="62.7" cy="327.5" r="1.55"/><circle cx="62.7" cy="343.2" r="1.55"/><circle cx="63.5" cy="348.7" r="1.55"/><circle cx="60.6" cy="352.9" r="1.55"/><circle cx="67.1" cy="352.4" r="1.55"/><circle cx="67.1" cy="338.4" r="1.55"/><circle cx="71.9" cy="338.7" r="1.55"/><circle cx="51.5" cy="333.9" r="1.55"/><circle cx="93.2" cy="317.9" r="1.55"/><circle cx="90.5" cy="322.3" r="1.55"/><circle cx="87.6" cy="325.9" r="1.55"/><circle cx="93.2" cy="325.6" r="1.55"/><circle cx="76.4" cy="325.9" r="1.55"/><circle cx="80.4" cy="328.3" r="1.55"/><circle cx="86.0" cy="330.7" r="1.55"/><circle cx="90.8" cy="329.9" r="1.55"/><circle cx="86.8" cy="334.7" r="1.55"/><circle cx="89.2" cy="335.5" r="1.55"/><circle cx="92.5" cy="333.9" r="1.55"/><circle cx="95.7" cy="333.9" r="1.55"/><circle cx="83.6" cy="338.7" r="1.55"/><circle cx="79.6" cy="341.6" r="1.55"/><circle cx="91.6" cy="337.9" r="1.55"/><circle cx="94.0" cy="338.7" r="1.55"/><circle cx="92.5" cy="341.1" r="1.55"/><circle cx="94.8" cy="341.1" r="1.55"/><circle cx="97.3" cy="341.9" r="1.55"/><circle cx="99.7" cy="343.5" r="1.55"/><circle cx="98.1" cy="350.0" r="1.55"/><circle cx="96.5" cy="337.1" r="1.55"/><circle cx="105.0" cy="317.5" r="1.55"/><circle cx="105.3" cy="322.7" r="1.55"/><circle cx="109.3" cy="320.3" r="1.55"/><circle cx="111.7" cy="321.9" r="1.55"/><circle cx="114.1" cy="322.7" r="1.55"/><circle cx="110.9" cy="324.3" r="1.55"/><circle cx="113.3" cy="325.1" r="1.55"/><circle cx="112.5" cy="327.5" r="1.55"/><circle cx="114.9" cy="328.3" r="1.55"/><circle cx="117.3" cy="326.7" r="1.55"/><circle cx="132.6" cy="330.7" r="1.55"/><circle cx="131.8" cy="334.7" r="1.55"/><circle cx="132.6" cy="339.0" r="1.55"/><circle cx="135.0" cy="337.1" r="1.55"/><circle cx="137.2" cy="333.1" r="1.55"/><circle cx="137.2" cy="335.5" r="1.55"/><circle cx="139.6" cy="336.3" r="1.55"/><circle cx="138.8" cy="338.7" r="1.55"/><circle cx="141.2" cy="333.6" r="1.55"/><circle cx="158.9" cy="317.5" r="1.55"/><circle cx="162.9" cy="320.3" r="1.55"/><circle cx="158.6" cy="323.0" r="1.55"/><circle cx="150.9" cy="328.3" r="1.55"/><circle cx="153.3" cy="329.1" r="1.55"/><circle cx="155.7" cy="328.3" r="1.55"/><circle cx="158.1" cy="330.7" r="1.55"/><circle cx="149.3" cy="330.7" r="1.55"/><circle cx="151.7" cy="331.5" r="1.55"/><circle cx="154.1" cy="332.3" r="1.55"/><circle cx="156.5" cy="333.1" r="1.55"/><circle cx="158.9" cy="333.1" r="1.55"/><circle cx="150.9" cy="333.9" r="1.55"/><circle cx="153.3" cy="334.7" r="1.55"/><circle cx="155.7" cy="335.5" r="1.55"/><circle cx="162.9" cy="335.5" r="1.55"/><circle cx="153.3" cy="339.5" r="1.55"/><circle cx="147.7" cy="341.9" r="1.55"/><circle cx="150.1" cy="343.5" r="1.55"/><circle cx="152.5" cy="342.7" r="1.55"/><circle cx="147.7" cy="345.1" r="1.55"/><circle cx="150.1" cy="346.8" r="1.55"/><circle cx="154.1" cy="345.9" r="1.55"/><circle cx="155.7" cy="348.4" r="1.55"/><circle cx="158.1" cy="347.6" r="1.55"/><circle cx="153.3" cy="350.8" r="1.55"/><circle cx="155.7" cy="351.6" r="1.55"/><circle cx="158.9" cy="350.0" r="1.55"/><circle cx="159.7" cy="353.2" r="1.55"/><circle cx="161.8" cy="358.3" r="1.55"/><circle cx="166.9" cy="325.6" r="1.55"/><circle cx="172.1" cy="324.6" r="1.55"/><circle cx="177.4" cy="323.9" r="1.55"/><circle cx="179.8" cy="317.5" r="1.55"/><circle cx="182.2" cy="322.3" r="1.55"/><circle cx="184.6" cy="323.5" r="1.55"/><circle cx="187.0" cy="321.9" r="1.55"/><circle cx="189.4" cy="320.3" r="1.55"/><circle cx="193.4" cy="320.7" r="1.55"/><circle cx="179.8" cy="327.5" r="1.55"/><circle cx="182.2" cy="325.9" r="1.55"/><circle cx="184.6" cy="327.5" r="1.55"/><circle cx="187.0" cy="325.1" r="1.55"/><circle cx="189.4" cy="324.3" r="1.55"/><circle cx="191.8" cy="323.9" r="1.55"/><circle cx="189.4" cy="326.7" r="1.55"/><circle cx="183.3" cy="333.1" r="1.55"/><circle cx="194.2" cy="328.8" r="1.55"/><circle cx="199.1" cy="332.3" r="1.55"/><circle cx="203.1" cy="328.8" r="1.55"/><circle cx="203.9" cy="334.7" r="1.55"/><circle cx="205.5" cy="339.5" r="1.55"/><circle cx="211.1" cy="340.0" r="1.55"/><circle cx="211.9" cy="348.4" r="1.55"/><circle cx="215.4" cy="351.9" r="1.55"/><circle cx="219.6" cy="317.5" r="1.55"/><circle cx="222.3" cy="321.1" r="1.55"/><circle cx="224.7" cy="321.9" r="1.55"/><circle cx="220.7" cy="323.5" r="1.55"/><circle cx="223.1" cy="324.3" r="1.55"/><circle cx="225.6" cy="325.1" r="1.55"/><circle cx="222.8" cy="328.3" r="1.55"/><circle cx="228.0" cy="329.1" r="1.55"/><circle cx="230.4" cy="325.1" r="1.55"/><circle cx="232.8" cy="323.5" r="1.55"/><circle cx="235.2" cy="322.7" r="1.55"/><circle cx="236.8" cy="320.3" r="1.55"/><circle cx="233.6" cy="325.9" r="1.55"/><circle cx="236.0" cy="325.9" r="1.55"/><circle cx="238.4" cy="324.3" r="1.55"/><circle cx="239.2" cy="327.5" r="1.55"/><circle cx="232.8" cy="328.3" r="1.55"/><circle cx="235.2" cy="329.9" r="1.55"/><circle cx="226.7" cy="334.2" r="1.55"/><circle cx="241.7" cy="319.8" r="1.55"/><circle cx="250.3" cy="319.1" r="1.55"/><circle cx="253.5" cy="317.5" r="1.55"/><circle cx="255.1" cy="320.3" r="1.55"/><circle cx="258.3" cy="320.3" r="1.55"/><circle cx="249.4" cy="321.9" r="1.55"/><circle cx="251.9" cy="322.7" r="1.55"/><circle cx="254.3" cy="322.7" r="1.55"/><circle cx="256.7" cy="323.5" r="1.55"/><circle cx="249.4" cy="325.1" r="1.55"/><circle cx="251.9" cy="325.1" r="1.55"/><circle cx="254.3" cy="325.1" r="1.55"/><circle cx="251.1" cy="327.5" r="1.55"/><circle cx="259.1" cy="325.1" r="1.55"/><circle cx="264.7" cy="323.9" r="1.55"/><circle cx="258.3" cy="334.7" r="1.55"/><circle cx="262.3" cy="338.4" r="1.55"/><circle cx="267.1" cy="339.5" r="1.55"/><circle cx="257.5" cy="340.6" r="1.55"/><circle cx="253.0" cy="341.9" r="1.55"/><circle cx="255.6" cy="345.1" r="1.55"/><circle cx="260.7" cy="344.8" r="1.55"/><circle cx="272.7" cy="318.6" r="1.55"/><circle cx="276.4" cy="317.5" r="1.55"/><circle cx="280.8" cy="318.2" r="1.55"/><circle cx="273.5" cy="321.1" r="1.55"/><circle cx="277.6" cy="321.9" r="1.55"/><circle cx="277.6" cy="327.2" r="1.55"/><circle cx="281.6" cy="326.7" r="1.55"/><circle cx="280.0" cy="331.5" r="1.55"/><circle cx="271.1" cy="337.9" r="1.55"/><circle cx="275.9" cy="336.3" r="1.55"/><circle cx="278.4" cy="336.3" r="1.55"/><circle cx="281.6" cy="335.5" r="1.55"/><circle cx="276.8" cy="338.7" r="1.55"/><circle cx="288.0" cy="325.9" r="1.55"/><circle cx="292.8" cy="323.9" r="1.55"/><circle cx="296.8" cy="323.9" r="1.55"/><circle cx="292.8" cy="328.0" r="1.55"/><circle cx="296.8" cy="328.0" r="1.55"/><circle cx="301.2" cy="330.4" r="1.55"/><circle cx="305.7" cy="319.4" r="1.55"/><circle cx="310.5" cy="321.4" r="1.55"/><circle cx="316.1" cy="319.1" r="1.55"/><circle cx="324.1" cy="319.1" r="1.55"/><circle cx="316.9" cy="323.5" r="1.55"/><circle cx="320.9" cy="323.5" r="1.55"/><circle cx="316.9" cy="326.7" r="1.55"/><circle cx="319.3" cy="326.7" r="1.55"/><circle cx="321.7" cy="326.7" r="1.55"/><circle cx="324.1" cy="327.5" r="1.55"/><circle cx="318.5" cy="329.1" r="1.55"/><circle cx="320.9" cy="329.1" r="1.55"/><circle cx="313.7" cy="329.9" r="1.55"/><circle cx="316.1" cy="331.5" r="1.55"/><circle cx="318.5" cy="332.3" r="1.55"/><circle cx="315.3" cy="333.9" r="1.55"/><circle cx="319.3" cy="334.7" r="1.55"/><circle cx="322.5" cy="334.7" r="1.55"/><circle cx="335.9" cy="328.3" r="1.55"/><circle cx="333.3" cy="333.9" r="1.55"/><circle cx="330.6" cy="334.7" r="1.55"/><circle cx="331.4" cy="337.9" r="1.55"/><circle cx="334.6" cy="337.9" r="1.55"/><circle cx="333.3" cy="340.6" r="1.55"/><circle cx="338.6" cy="341.6" r="1.55"/><circle cx="344.2" cy="321.1" r="1.55"/><circle cx="340.6" cy="321.6" r="1.55"/><circle cx="339.9" cy="323.1" r="1.55"/><circle cx="338.4" cy="323.9" r="1.55"/><circle cx="336.8" cy="323.8" r="1.55"/><circle cx="335.5" cy="322.8" r="1.55"/><circle cx="334.9" cy="321.3" r="1.55"/><circle cx="335.2" cy="319.7" r="1.55"/><circle cx="336.4" cy="318.5" r="1.55"/><circle cx="337.9" cy="318.2" r="1.55"/><circle cx="339.5" cy="318.7" r="1.55"/><circle cx="340.5" cy="320.0" r="1.55"/><circle cx="348.4" cy="317.5" r="1.55"/><circle cx="350.0" cy="322.3" r="1.55"/><circle cx="347.7" cy="326.7" r="1.55"/><circle cx="355.3" cy="323.5" r="1.55"/><circle cx="360.6" cy="325.6" r="1.55"/><circle cx="365.7" cy="326.2" r="1.55"/><circle cx="364.1" cy="329.1" r="1.55"/><circle cx="376.6" cy="327.2" r="1.55"/><circle cx="381.8" cy="325.9" r="1.55"/><circle cx="386.6" cy="320.3" r="1.55"/><circle cx="390.1" cy="329.1" r="1.55"/><circle cx="389.8" cy="334.7" r="1.55"/><circle cx="395.4" cy="325.1" r="1.55"/><circle cx="398.6" cy="328.8" r="1.55"/><circle cx="403.4" cy="330.7" r="1.55"/><circle cx="408.2" cy="332.3" r="1.55"/><circle cx="412.3" cy="330.4" r="1.55"/><circle cx="418.7" cy="320.3" r="1.55"/><circle cx="422.7" cy="317.5" r="1.55"/><circle cx="428.6" cy="319.4" r="1.55"/><circle cx="421.1" cy="323.5" r="1.55"/><circle cx="423.5" cy="324.3" r="1.55"/><circle cx="426.7" cy="324.3" r="1.55"/><circle cx="429.1" cy="325.1" r="1.55"/><circle cx="433.1" cy="326.7" r="1.55"/><circle cx="436.4" cy="323.9" r="1.55"/><circle cx="417.1" cy="328.8" r="1.55"/><circle cx="423.5" cy="328.3" r="1.55"/><circle cx="417.4" cy="334.2" r="1.55"/><circle cx="417.4" cy="339.0" r="1.55"/><circle cx="431.5" cy="333.6" r="1.55"/><circle cx="445.7" cy="326.7" r="1.55"/><circle cx="442.8" cy="330.7" r="1.55"/><circle cx="371.7" cy="333.0" r="1.55"/><circle cx="371.2" cy="334.0" r="1.55"/><circle cx="370.2" cy="334.6" r="1.55"/><circle cx="369.0" cy="334.5" r="1.55"/><circle cx="368.1" cy="333.9" r="1.55"/><circle cx="367.7" cy="332.8" r="1.55"/><circle cx="367.9" cy="331.7" r="1.55"/><circle cx="368.7" cy="330.9" r="1.55"/><circle cx="369.8" cy="330.6" r="1.55"/><circle cx="370.9" cy="331.0" r="1.55"/><circle cx="371.6" cy="331.9" r="1.55"/><circle cx="451.1" cy="324.3" r="1.55"/><circle cx="452.2" cy="330.4" r="1.55"/><circle cx="462.7" cy="327.2" r="1.55"/><circle cx="465.9" cy="330.7" r="1.55"/><circle cx="456.2" cy="317.0" r="1.55"/><circle cx="481.6" cy="317.5" r="1.55"/><circle cx="480.0" cy="322.3" r="1.55"/><circle cx="475.8" cy="325.6" r="1.55"/><circle cx="482.3" cy="327.8" r="1.55"/><circle cx="470.4" cy="335.2" r="1.55"/><circle cx="475.5" cy="341.1" r="1.55"/><circle cx="483.2" cy="340.6" r="1.55"/><circle cx="488.0" cy="318.6" r="1.55"/><circle cx="491.6" cy="317.5" r="1.55"/><circle cx="495.1" cy="317.5" r="1.55"/><circle cx="497.2" cy="319.8" r="1.55"/><circle cx="488.4" cy="321.9" r="1.55"/><circle cx="490.8" cy="321.1" r="1.55"/><circle cx="494.8" cy="321.1" r="1.55"/><circle cx="496.4" cy="325.9" r="1.55"/><circle cx="492.4" cy="326.7" r="1.55"/><circle cx="497.2" cy="329.1" r="1.55"/><circle cx="487.6" cy="329.9" r="1.55"/><circle cx="492.4" cy="331.5" r="1.55"/><circle cx="495.1" cy="332.3" r="1.55"/><circle cx="501.2" cy="331.0" r="1.55"/><circle cx="506.0" cy="318.6" r="1.55"/><circle cx="510.8" cy="320.3" r="1.55"/><circle cx="514.4" cy="317.5" r="1.55"/><circle cx="515.3" cy="322.7" r="1.55"/><circle cx="512.1" cy="325.9" r="1.55"/><circle cx="534.6" cy="322.3" r="1.55"/><circle cx="539.4" cy="321.9" r="1.55"/><circle cx="541.4" cy="317.5" r="1.55"/><circle cx="544.6" cy="324.3" r="1.55"/><circle cx="539.7" cy="325.6" r="1.55"/><circle cx="536.5" cy="328.8" r="1.55"/><circle cx="533.0" cy="332.0" r="1.55"/><circle cx="537.3" cy="333.6" r="1.55"/><circle cx="543.3" cy="328.8" r="1.55"/><circle cx="548.6" cy="327.8" r="1.55"/><circle cx="552.9" cy="329.4" r="1.55"/><circle cx="555.0" cy="325.1" r="1.55"/><circle cx="551.8" cy="333.9" r="1.55"/><circle cx="459.0" cy="321.6" r="1.55"/><circle cx="458.4" cy="322.8" r="1.55"/><circle cx="457.1" cy="323.5" r="1.55"/><circle cx="455.7" cy="323.4" r="1.55"/><circle cx="454.6" cy="322.6" r="1.55"/><circle cx="454.1" cy="321.3" r="1.55"/><circle cx="454.3" cy="319.9" r="1.55"/><circle cx="455.3" cy="318.9" r="1.55"/><circle cx="456.7" cy="318.6" r="1.55"/><circle cx="458.0" cy="319.0" r="1.55"/><circle cx="458.9" cy="320.1" r="1.55"/><circle cx="481.6" cy="333.2" r="1.55"/><circle cx="480.8" cy="334.6" r="1.55"/><circle cx="479.4" cy="335.4" r="1.55"/><circle cx="477.8" cy="335.4" r="1.55"/><circle cx="476.4" cy="334.4" r="1.55"/><circle cx="475.8" cy="332.9" r="1.55"/><circle cx="476.2" cy="331.3" r="1.55"/><circle cx="477.3" cy="330.1" r="1.55"/><circle cx="478.9" cy="329.7" r="1.55"/><circle cx="480.4" cy="330.3" r="1.55"/><circle cx="481.4" cy="331.6" r="1.55"/><circle cx="527.4" cy="327.2" r="1.55"/><circle cx="526.8" cy="328.4" r="1.55"/><circle cx="525.5" cy="329.1" r="1.55"/><circle cx="524.1" cy="329.1" r="1.55"/><circle cx="523.0" cy="328.2" r="1.55"/><circle cx="522.5" cy="326.9" r="1.55"/><circle cx="522.8" cy="325.5" r="1.55"/><circle cx="523.7" cy="324.5" r="1.55"/><circle cx="525.1" cy="324.2" r="1.55"/><circle cx="526.5" cy="324.6" r="1.55"/><circle cx="527.3" cy="325.8" r="1.55"/><circle cx="558.8" cy="328.3" r="1.55"/><circle cx="557.2" cy="333.9" r="1.55"/><circle cx="560.0" cy="337.9" r="1.55"/><circle cx="567.3" cy="328.3" r="1.55"/><circle cx="569.3" cy="332.6" r="1.55"/><circle cx="566.1" cy="336.3" r="1.55"/><circle cx="577.6" cy="317.5" r="1.55"/><circle cx="577.0" cy="322.3" r="1.55"/><circle cx="575.7" cy="327.5" r="1.55"/><circle cx="578.9" cy="333.1" r="1.55"/><circle cx="575.7" cy="342.7" r="1.55"/><circle cx="581.3" cy="336.3" r="1.55"/><circle cx="585.0" cy="339.0" r="1.55"/><circle cx="586.6" cy="335.2" r="1.55"/><circle cx="591.0" cy="333.1" r="1.55"/><circle cx="605.4" cy="320.3" r="1.55"/><circle cx="607.0" cy="327.5" r="1.55"/><circle cx="608.6" cy="335.2" r="1.55"/><circle cx="619.9" cy="323.9" r="1.55"/><circle cx="624.2" cy="322.3" r="1.55"/><circle cx="623.5" cy="327.2" r="1.55"/><circle cx="626.8" cy="331.5" r="1.55"/><circle cx="641.5" cy="327.5" r="1.55"/><circle cx="644.4" cy="332.0" r="1.55"/><circle cx="648.8" cy="330.4" r="1.55"/><circle cx="651.2" cy="332.6" r="1.55"/><circle cx="650.9" cy="327.5" r="1.55"/><circle cx="654.1" cy="325.9" r="1.55"/><circle cx="656.8" cy="326.7" r="1.55"/><circle cx="659.2" cy="333.9" r="1.55"/><circle cx="637.1" cy="321.6" r="1.55"/><circle cx="636.4" cy="323.1" r="1.55"/><circle cx="635.0" cy="323.9" r="1.55"/><circle cx="633.3" cy="323.8" r="1.55"/><circle cx="632.0" cy="322.8" r="1.55"/><circle cx="631.4" cy="321.3" r="1.55"/><circle cx="631.7" cy="319.7" r="1.55"/><circle cx="632.9" cy="318.5" r="1.55"/><circle cx="634.5" cy="318.2" r="1.55"/><circle cx="636.0" cy="318.7" r="1.55"/><circle cx="637.0" cy="320.0" r="1.55"/><circle cx="33.0" cy="362.7" r="1.55"/><circle cx="31.4" cy="367.9" r="1.55"/><circle cx="34.6" cy="366.2" r="1.55"/><circle cx="37.0" cy="367.9" r="1.55"/><circle cx="37.9" cy="370.3" r="1.55"/><circle cx="40.3" cy="369.1" r="1.55"/><circle cx="42.7" cy="369.8" r="1.55"/><circle cx="39.5" cy="372.7" r="1.55"/><circle cx="43.5" cy="373.5" r="1.55"/><circle cx="47.5" cy="373.0" r="1.55"/><circle cx="44.3" cy="378.3" r="1.55"/><circle cx="47.5" cy="382.3" r="1.55"/><circle cx="52.3" cy="362.7" r="1.55"/><circle cx="57.1" cy="362.7" r="1.55"/><circle cx="61.9" cy="364.3" r="1.55"/><circle cx="66.0" cy="367.5" r="1.55"/><circle cx="70.0" cy="370.7" r="1.55"/><circle cx="73.2" cy="367.0" r="1.55"/><circle cx="76.4" cy="362.7" r="1.55"/><circle cx="66.8" cy="377.5" r="1.55"/><circle cx="70.8" cy="380.7" r="1.55"/><circle cx="67.1" cy="381.0" r="1.55"/><circle cx="70.3" cy="385.2" r="1.55"/><circle cx="75.1" cy="376.2" r="1.55"/><circle cx="82.0" cy="362.7" r="1.55"/><circle cx="86.0" cy="362.7" r="1.55"/><circle cx="86.8" cy="367.0" r="1.55"/><circle cx="82.8" cy="371.1" r="1.55"/><circle cx="85.2" cy="371.1" r="1.55"/><circle cx="80.4" cy="373.9" r="1.55"/><circle cx="84.4" cy="375.6" r="1.55"/><circle cx="88.9" cy="375.1" r="1.55"/><circle cx="93.7" cy="375.6" r="1.55"/><circle cx="91.6" cy="379.4" r="1.55"/><circle cx="96.0" cy="379.4" r="1.55"/><circle cx="100.5" cy="369.1" r="1.55"/><circle cx="105.3" cy="369.1" r="1.55"/><circle cx="108.5" cy="365.4" r="1.55"/><circle cx="110.9" cy="364.6" r="1.55"/><circle cx="114.1" cy="362.7" r="1.55"/><circle cx="118.1" cy="364.3" r="1.55"/><circle cx="109.3" cy="367.9" r="1.55"/><circle cx="111.7" cy="367.5" r="1.55"/><circle cx="114.1" cy="367.9" r="1.55"/><circle cx="110.1" cy="370.3" r="1.55"/><circle cx="112.5" cy="370.3" r="1.55"/><circle cx="118.9" cy="371.9" r="1.55"/><circle cx="122.6" cy="375.6" r="1.55"/><circle cx="127.0" cy="383.1" r="1.55"/><circle cx="130.2" cy="380.7" r="1.55"/><circle cx="131.8" cy="383.6" r="1.55"/><circle cx="134.2" cy="379.1" r="1.55"/><circle cx="134.2" cy="382.3" r="1.55"/><circle cx="37.0" cy="390.3" r="1.55"/><circle cx="31.4" cy="398.4" r="1.55"/><circle cx="34.6" cy="398.4" r="1.55"/><circle cx="36.2" cy="395.9" r="1.55"/><circle cx="37.0" cy="399.2" r="1.55"/><circle cx="39.5" cy="398.4" r="1.55"/><circle cx="35.4" cy="401.6" r="1.55"/><circle cx="33.8" cy="406.1" r="1.55"/><circle cx="38.2" cy="406.1" r="1.55"/><circle cx="44.3" cy="392.7" r="1.55"/><circle cx="45.5" cy="400.0" r="1.55"/><circle cx="53.6" cy="395.1" r="1.55"/><circle cx="55.2" cy="390.3" r="1.55"/><circle cx="64.3" cy="390.3" r="1.55"/><circle cx="67.5" cy="394.3" r="1.55"/><circle cx="71.2" cy="398.0" r="1.55"/><circle cx="74.0" cy="398.4" r="1.55"/><circle cx="70.8" cy="400.8" r="1.55"/><circle cx="73.2" cy="402.4" r="1.55"/><circle cx="69.6" cy="403.2" r="1.55"/><circle cx="80.4" cy="401.9" r="1.55"/><circle cx="84.4" cy="399.6" r="1.55"/><circle cx="85.2" cy="390.6" r="1.55"/><circle cx="86.8" cy="394.3" r="1.55"/><circle cx="92.5" cy="400.3" r="1.55"/><circle cx="97.3" cy="393.5" r="1.55"/><circle cx="101.8" cy="394.3" r="1.55"/><circle cx="103.7" cy="390.6" r="1.55"/><circle cx="109.3" cy="406.4" r="1.55"/><circle cx="113.3" cy="403.2" r="1.55"/><circle cx="113.3" cy="408.0" r="1.55"/><circle cx="115.7" cy="399.2" r="1.55"/><circle cx="117.8" cy="390.6" r="1.55"/><circle cx="123.8" cy="395.5" r="1.55"/><circle cx="127.8" cy="394.3" r="1.55"/><circle cx="130.2" cy="390.3" r="1.55"/><circle cx="131.8" cy="395.1" r="1.55"/><circle cx="134.2" cy="395.1" r="1.55"/><circle cx="136.4" cy="382.3" r="1.55"/><circle cx="139.6" cy="378.8" r="1.55"/><circle cx="142.5" cy="375.1" r="1.55"/><circle cx="140.4" cy="362.7" r="1.55"/><circle cx="143.7" cy="366.6" r="1.55"/><circle cx="146.1" cy="370.7" r="1.55"/><circle cx="149.6" cy="367.0" r="1.55"/><circle cx="150.6" cy="373.0" r="1.55"/><circle cx="154.9" cy="374.6" r="1.55"/><circle cx="159.7" cy="375.9" r="1.55"/><circle cx="162.1" cy="379.9" r="1.55"/><circle cx="165.0" cy="377.5" r="1.55"/><circle cx="167.3" cy="378.3" r="1.55"/><circle cx="169.3" cy="373.9" r="1.55"/><circle cx="172.6" cy="370.3" r="1.55"/><circle cx="173.7" cy="374.3" r="1.55"/><circle cx="172.6" cy="365.0" r="1.55"/><circle cx="176.9" cy="362.7" r="1.55"/><circle cx="177.4" cy="367.0" r="1.55"/><circle cx="181.1" cy="364.6" r="1.55"/><circle cx="185.9" cy="365.9" r="1.55"/><circle cx="189.4" cy="363.8" r="1.55"/><circle cx="195.8" cy="362.7" r="1.55"/><circle cx="188.6" cy="367.9" r="1.55"/><circle cx="191.0" cy="367.0" r="1.55"/><circle cx="193.4" cy="367.9" r="1.55"/><circle cx="189.4" cy="370.3" r="1.55"/><circle cx="191.8" cy="370.3" r="1.55"/><circle cx="194.2" cy="371.1" r="1.55"/><circle cx="189.4" cy="377.8" r="1.55"/><circle cx="200.3" cy="383.6" r="1.55"/><circle cx="204.7" cy="382.0" r="1.55"/><circle cx="208.7" cy="383.6" r="1.55"/><circle cx="208.7" cy="379.1" r="1.55"/><circle cx="207.1" cy="373.0" r="1.55"/><circle cx="210.3" cy="369.4" r="1.55"/><circle cx="216.4" cy="371.1" r="1.55"/><circle cx="216.7" cy="375.6" r="1.55"/><circle cx="219.1" cy="367.0" r="1.55"/><circle cx="221.8" cy="362.7" r="1.55"/><circle cx="226.0" cy="384.7" r="1.55"/><circle cx="229.2" cy="380.7" r="1.55"/><circle cx="232.8" cy="383.9" r="1.55"/><circle cx="228.8" cy="375.6" r="1.55"/><circle cx="228.0" cy="371.1" r="1.55"/><circle cx="232.0" cy="370.3" r="1.55"/><circle cx="233.6" cy="365.4" r="1.55"/><circle cx="236.8" cy="362.7" r="1.55"/><circle cx="239.2" cy="365.4" r="1.55"/><circle cx="236.8" cy="367.9" r="1.55"/><circle cx="137.2" cy="392.7" r="1.55"/><circle cx="134.8" cy="399.6" r="1.55"/><circle cx="136.4" cy="404.0" r="1.55"/><circle cx="137.7" cy="408.8" r="1.55"/><circle cx="141.6" cy="396.4" r="1.55"/><circle cx="146.1" cy="395.1" r="1.55"/><circle cx="148.9" cy="397.1" r="1.55"/><circle cx="152.5" cy="395.9" r="1.55"/><circle cx="158.1" cy="392.3" r="1.55"/><circle cx="158.9" cy="395.1" r="1.55"/><circle cx="161.3" cy="393.5" r="1.55"/><circle cx="162.1" cy="391.1" r="1.55"/><circle cx="163.7" cy="395.9" r="1.55"/><circle cx="164.5" cy="400.8" r="1.55"/><circle cx="168.9" cy="390.6" r="1.55"/><circle cx="173.4" cy="391.6" r="1.55"/><circle cx="178.2" cy="391.1" r="1.55"/><circle cx="175.8" cy="395.9" r="1.55"/><circle cx="180.6" cy="395.9" r="1.55"/><circle cx="183.8" cy="399.2" r="1.55"/><circle cx="187.5" cy="402.9" r="1.55"/><circle cx="191.3" cy="404.8" r="1.55"/><circle cx="192.6" cy="393.2" r="1.55"/><circle cx="195.0" cy="396.4" r="1.55"/><circle cx="195.0" cy="401.6" r="1.55"/><circle cx="198.7" cy="404.8" r="1.55"/><circle cx="197.8" cy="393.2" r="1.55"/><circle cx="203.1" cy="398.4" r="1.55"/><circle cx="203.1" cy="403.2" r="1.55"/><circle cx="204.7" cy="393.9" r="1.55"/><circle cx="208.4" cy="390.6" r="1.55"/><circle cx="203.9" cy="408.0" r="1.55"/><circle cx="204.7" cy="412.8" r="1.55"/><circle cx="208.4" cy="410.4" r="1.55"/><circle cx="212.7" cy="392.7" r="1.55"/><circle cx="217.5" cy="390.6" r="1.55"/><circle cx="217.5" cy="395.5" r="1.55"/><circle cx="221.5" cy="393.9" r="1.55"/><circle cx="212.7" cy="398.4" r="1.55"/><circle cx="216.7" cy="400.8" r="1.55"/><circle cx="220.7" cy="398.4" r="1.55"/><circle cx="226.0" cy="395.1" r="1.55"/><circle cx="234.4" cy="397.6" r="1.55"/><circle cx="235.7" cy="390.6" r="1.55"/><circle cx="239.2" cy="393.2" r="1.55"/><circle cx="243.8" cy="365.9" r="1.55"/><circle cx="247.0" cy="363.4" r="1.55"/><circle cx="250.3" cy="362.7" r="1.55"/><circle cx="244.6" cy="369.1" r="1.55"/><circle cx="247.0" cy="367.9" r="1.55"/><circle cx="251.1" cy="367.5" r="1.55"/><circle cx="247.0" cy="370.7" r="1.55"/><circle cx="249.4" cy="371.9" r="1.55"/><circle cx="251.9" cy="370.3" r="1.55"/><circle cx="255.6" cy="369.8" r="1.55"/><circle cx="259.4" cy="370.3" r="1.55"/><circle cx="263.6" cy="366.6" r="1.55"/><circle cx="264.7" cy="371.1" r="1.55"/><circle cx="268.4" cy="362.7" r="1.55"/><circle cx="268.4" cy="367.5" r="1.55"/><circle cx="273.5" cy="369.1" r="1.55"/><circle cx="277.6" cy="367.0" r="1.55"/><circle cx="275.1" cy="372.3" r="1.55"/><circle cx="279.6" cy="371.1" r="1.55"/><circle cx="286.4" cy="365.4" r="1.55"/><circle cx="290.4" cy="362.7" r="1.55"/><circle cx="289.6" cy="366.6" r="1.55"/><circle cx="292.0" cy="365.9" r="1.55"/><circle cx="288.0" cy="370.3" r="1.55"/><circle cx="291.2" cy="369.1" r="1.55"/><circle cx="295.2" cy="374.3" r="1.55"/><circle cx="299.2" cy="367.0" r="1.55"/><circle cx="299.2" cy="371.9" r="1.55"/><circle cx="313.7" cy="365.0" r="1.55"/><circle cx="317.7" cy="367.5" r="1.55"/><circle cx="315.3" cy="372.3" r="1.55"/><circle cx="312.9" cy="376.7" r="1.55"/><circle cx="308.1" cy="379.1" r="1.55"/><circle cx="303.7" cy="381.5" r="1.55"/><circle cx="315.0" cy="380.7" r="1.55"/><circle cx="326.5" cy="362.7" r="1.55"/><circle cx="331.4" cy="365.9" r="1.55"/><circle cx="329.7" cy="369.4" r="1.55"/><circle cx="334.6" cy="365.9" r="1.55"/><circle cx="337.8" cy="362.7" r="1.55"/><circle cx="337.8" cy="367.9" r="1.55"/><circle cx="341.0" cy="364.3" r="1.55"/><circle cx="342.3" cy="369.1" r="1.55"/><circle cx="335.4" cy="372.7" r="1.55"/><circle cx="339.4" cy="372.3" r="1.55"/><circle cx="244.3" cy="393.2" r="1.55"/><circle cx="250.3" cy="393.5" r="1.55"/><circle cx="259.4" cy="390.6" r="1.55"/><circle cx="263.9" cy="393.2" r="1.55"/><circle cx="267.9" cy="392.3" r="1.55"/><circle cx="267.1" cy="396.8" r="1.55"/><circle cx="265.5" cy="401.6" r="1.55"/><circle cx="271.6" cy="398.4" r="1.55"/><circle cx="275.9" cy="394.8" r="1.55"/><circle cx="280.8" cy="393.5" r="1.55"/><circle cx="282.4" cy="391.1" r="1.55"/><circle cx="285.6" cy="390.6" r="1.55"/><circle cx="283.2" cy="397.6" r="1.55"/><circle cx="285.6" cy="394.3" r="1.55"/><circle cx="290.4" cy="395.9" r="1.55"/><circle cx="294.4" cy="394.3" r="1.55"/><circle cx="298.4" cy="390.6" r="1.55"/><circle cx="299.2" cy="395.1" r="1.55"/><circle cx="302.4" cy="398.4" r="1.55"/><circle cx="306.9" cy="390.6" r="1.55"/><circle cx="309.2" cy="394.3" r="1.55"/><circle cx="312.1" cy="399.2" r="1.55"/><circle cx="316.1" cy="400.0" r="1.55"/><circle cx="311.3" cy="402.9" r="1.55"/><circle cx="315.0" cy="404.0" r="1.55"/><circle cx="320.4" cy="390.6" r="1.55"/><circle cx="324.6" cy="392.7" r="1.55"/><circle cx="321.7" cy="395.1" r="1.55"/><circle cx="326.5" cy="396.4" r="1.55"/><circle cx="322.5" cy="398.4" r="1.55"/><circle cx="324.9" cy="400.8" r="1.55"/><circle cx="331.0" cy="399.2" r="1.55"/><circle cx="339.4" cy="394.3" r="1.55"/><circle cx="342.3" cy="390.6" r="1.55"/><circle cx="344.2" cy="397.6" r="1.55"/><circle cx="352.9" cy="362.7" r="1.55"/><circle cx="357.3" cy="363.8" r="1.55"/><circle cx="354.4" cy="367.0" r="1.55"/><circle cx="352.9" cy="372.3" r="1.55"/><circle cx="349.6" cy="375.1" r="1.55"/><circle cx="346.4" cy="378.8" r="1.55"/><circle cx="351.6" cy="378.3" r="1.55"/><circle cx="355.3" cy="376.2" r="1.55"/><circle cx="358.0" cy="380.4" r="1.55"/><circle cx="360.1" cy="376.7" r="1.55"/><circle cx="368.6" cy="362.7" r="1.55"/><circle cx="369.2" cy="367.5" r="1.55"/><circle cx="373.7" cy="368.6" r="1.55"/><circle cx="371.3" cy="372.3" r="1.55"/><circle cx="376.6" cy="372.3" r="1.55"/><circle cx="380.9" cy="372.7" r="1.55"/><circle cx="368.6" cy="376.2" r="1.55"/><circle cx="365.7" cy="380.4" r="1.55"/><circle cx="387.9" cy="362.2" r="1.55"/><circle cx="389.5" cy="367.0" r="1.55"/><circle cx="390.1" cy="372.3" r="1.55"/><circle cx="385.3" cy="377.5" r="1.55"/><circle cx="390.1" cy="377.5" r="1.55"/><circle cx="387.9" cy="381.0" r="1.55"/><circle cx="386.2" cy="386.3" r="1.55"/><circle cx="395.4" cy="379.1" r="1.55"/><circle cx="399.4" cy="381.0" r="1.55"/><circle cx="403.9" cy="371.1" r="1.55"/><circle cx="408.7" cy="371.1" r="1.55"/><circle cx="411.0" cy="367.0" r="1.55"/><circle cx="414.2" cy="370.7" r="1.55"/><circle cx="418.4" cy="369.4" r="1.55"/><circle cx="416.3" cy="374.3" r="1.55"/><circle cx="418.7" cy="373.5" r="1.55"/><circle cx="422.2" cy="366.2" r="1.55"/><circle cx="425.4" cy="362.7" r="1.55"/><circle cx="429.9" cy="366.2" r="1.55"/><circle cx="433.5" cy="362.7" r="1.55"/><circle cx="433.9" cy="366.2" r="1.55"/><circle cx="433.9" cy="369.8" r="1.55"/><circle cx="438.0" cy="369.8" r="1.55"/><circle cx="442.0" cy="366.6" r="1.55"/><circle cx="442.0" cy="370.3" r="1.55"/><circle cx="446.0" cy="373.5" r="1.55"/><circle cx="449.2" cy="367.0" r="1.55"/><circle cx="347.7" cy="398.4" r="1.55"/><circle cx="351.2" cy="398.7" r="1.55"/><circle cx="351.2" cy="402.9" r="1.55"/><circle cx="354.8" cy="394.8" r="1.55"/><circle cx="357.3" cy="390.6" r="1.55"/><circle cx="361.2" cy="391.9" r="1.55"/><circle cx="364.9" cy="390.6" r="1.55"/><circle cx="362.5" cy="395.5" r="1.55"/><circle cx="366.5" cy="394.3" r="1.55"/><circle cx="370.5" cy="397.1" r="1.55"/><circle cx="375.0" cy="399.2" r="1.55"/><circle cx="379.3" cy="399.6" r="1.55"/><circle cx="380.9" cy="395.5" r="1.55"/><circle cx="380.9" cy="391.9" r="1.55"/><circle cx="384.6" cy="390.6" r="1.55"/><circle cx="385.8" cy="394.3" r="1.55"/><circle cx="384.2" cy="398.7" r="1.55"/><circle cx="389.8" cy="395.9" r="1.55"/><circle cx="392.2" cy="393.5" r="1.55"/><circle cx="395.4" cy="390.6" r="1.55"/><circle cx="395.4" cy="395.9" r="1.55"/><circle cx="393.0" cy="398.7" r="1.55"/><circle cx="400.2" cy="397.1" r="1.55"/><circle cx="405.8" cy="390.6" r="1.55"/><circle cx="404.2" cy="395.1" r="1.55"/><circle cx="409.1" cy="394.3" r="1.55"/><circle cx="414.2" cy="393.5" r="1.55"/><circle cx="417.4" cy="397.1" r="1.55"/><circle cx="421.6" cy="390.6" r="1.55"/><circle cx="423.8" cy="394.3" r="1.55"/><circle cx="424.8" cy="400.0" r="1.55"/><circle cx="426.7" cy="404.0" r="1.55"/><circle cx="428.3" cy="408.8" r="1.55"/><circle cx="432.8" cy="393.5" r="1.55"/><circle cx="437.6" cy="394.3" r="1.55"/><circle cx="440.4" cy="390.6" r="1.55"/><circle cx="434.7" cy="398.4" r="1.55"/><circle cx="438.3" cy="399.2" r="1.55"/><circle cx="440.4" cy="404.0" r="1.55"/><circle cx="444.7" cy="400.8" r="1.55"/><circle cx="448.4" cy="398.4" r="1.55"/><circle cx="452.7" cy="362.7" r="1.55"/><circle cx="457.5" cy="362.2" r="1.55"/><circle cx="461.4" cy="365.9" r="1.55"/><circle cx="453.0" cy="371.1" r="1.55"/><circle cx="455.4" cy="373.0" r="1.55"/><circle cx="458.2" cy="370.3" r="1.55"/><circle cx="461.4" cy="370.3" r="1.55"/><circle cx="465.9" cy="365.0" r="1.55"/><circle cx="471.5" cy="362.2" r="1.55"/><circle cx="475.5" cy="362.7" r="1.55"/><circle cx="470.4" cy="366.2" r="1.55"/><circle cx="473.9" cy="366.6" r="1.55"/><circle cx="472.3" cy="371.1" r="1.55"/><circle cx="475.8" cy="374.6" r="1.55"/><circle cx="469.4" cy="375.9" r="1.55"/><circle cx="467.5" cy="380.4" r="1.55"/><circle cx="483.5" cy="362.2" r="1.55"/><circle cx="488.4" cy="363.0" r="1.55"/><circle cx="480.6" cy="367.0" r="1.55"/><circle cx="485.1" cy="367.0" r="1.55"/><circle cx="482.3" cy="371.1" r="1.55"/><circle cx="490.0" cy="370.3" r="1.55"/><circle cx="494.0" cy="370.3" r="1.55"/><circle cx="494.8" cy="374.3" r="1.55"/><circle cx="499.3" cy="374.6" r="1.55"/><circle cx="499.6" cy="362.2" r="1.55"/><circle cx="501.2" cy="367.5" r="1.55"/><circle cx="502.8" cy="371.4" r="1.55"/><circle cx="509.6" cy="377.8" r="1.55"/><circle cx="512.1" cy="370.7" r="1.55"/><circle cx="515.3" cy="366.6" r="1.55"/><circle cx="530.1" cy="376.2" r="1.55"/><circle cx="532.5" cy="372.3" r="1.55"/><circle cx="532.5" cy="367.5" r="1.55"/><circle cx="536.5" cy="366.2" r="1.55"/><circle cx="542.1" cy="362.2" r="1.55"/><circle cx="535.7" cy="369.4" r="1.55"/><circle cx="539.7" cy="372.7" r="1.55"/><circle cx="546.5" cy="367.0" r="1.55"/><circle cx="547.8" cy="373.5" r="1.55"/><circle cx="551.0" cy="370.3" r="1.55"/><circle cx="552.6" cy="365.0" r="1.55"/><circle cx="555.0" cy="368.6" r="1.55"/><circle cx="452.2" cy="390.6" r="1.55"/><circle cx="452.2" cy="395.5" r="1.55"/><circle cx="457.0" cy="396.4" r="1.55"/><circle cx="461.1" cy="398.0" r="1.55"/><circle cx="463.5" cy="390.6" r="1.55"/><circle cx="465.1" cy="394.8" r="1.55"/><circle cx="468.8" cy="398.4" r="1.55"/><circle cx="470.4" cy="394.3" r="1.55"/><circle cx="474.7" cy="396.4" r="1.55"/><circle cx="479.5" cy="390.6" r="1.55"/><circle cx="479.0" cy="395.5" r="1.55"/><circle cx="483.2" cy="398.4" r="1.55"/><circle cx="487.1" cy="400.8" r="1.55"/><circle cx="491.6" cy="390.6" r="1.55"/><circle cx="492.4" cy="395.5" r="1.55"/><circle cx="492.9" cy="404.8" r="1.55"/><circle cx="497.2" cy="402.9" r="1.55"/><circle cx="501.5" cy="395.5" r="1.55"/><circle cx="506.0" cy="394.3" r="1.55"/><circle cx="510.8" cy="394.8" r="1.55"/><circle cx="519.7" cy="393.5" r="1.55"/><circle cx="523.7" cy="393.5" r="1.55"/><circle cx="520.5" cy="397.6" r="1.55"/><circle cx="524.0" cy="397.6" r="1.55"/><circle cx="527.7" cy="390.6" r="1.55"/><circle cx="539.7" cy="390.6" r="1.55"/><circle cx="543.3" cy="390.6" r="1.55"/><circle cx="544.9" cy="393.5" r="1.55"/><circle cx="546.5" cy="395.9" r="1.55"/><circle cx="549.1" cy="393.5" r="1.55"/><circle cx="552.9" cy="390.6" r="1.55"/><circle cx="554.2" cy="394.3" r="1.55"/><circle cx="525.4" cy="366.4" r="1.55"/><circle cx="524.7" cy="367.7" r="1.55"/><circle cx="523.5" cy="368.4" r="1.55"/><circle cx="522.0" cy="368.3" r="1.55"/><circle cx="520.9" cy="367.5" r="1.55"/><circle cx="520.4" cy="366.1" r="1.55"/><circle cx="520.7" cy="364.8" r="1.55"/><circle cx="521.6" cy="363.7" r="1.55"/><circle cx="523.0" cy="363.4" r="1.55"/><circle cx="524.4" cy="363.9" r="1.55"/><circle cx="525.2" cy="365.0" r="1.55"/><circle cx="556.4" cy="362.7" r="1.55"/><circle cx="554.0" cy="373.9" r="1.55"/><circle cx="557.2" cy="377.8" r="1.55"/><circle cx="561.6" cy="362.7" r="1.55"/><circle cx="562.0" cy="379.4" r="1.55"/><circle cx="564.1" cy="374.6" r="1.55"/><circle cx="566.1" cy="364.3" r="1.55"/><circle cx="562.9" cy="367.0" r="1.55"/><circle cx="566.9" cy="370.3" r="1.55"/><circle cx="569.0" cy="367.0" r="1.55"/><circle cx="570.1" cy="373.5" r="1.55"/><circle cx="574.1" cy="363.4" r="1.55"/><circle cx="576.5" cy="362.2" r="1.55"/><circle cx="578.9" cy="362.7" r="1.55"/><circle cx="574.9" cy="366.6" r="1.55"/><circle cx="578.1" cy="365.4" r="1.55"/><circle cx="580.5" cy="367.5" r="1.55"/><circle cx="579.7" cy="372.3" r="1.55"/><circle cx="584.5" cy="366.6" r="1.55"/><circle cx="589.3" cy="362.7" r="1.55"/><circle cx="589.8" cy="367.5" r="1.55"/><circle cx="585.6" cy="370.7" r="1.55"/><circle cx="594.2" cy="370.3" r="1.55"/><circle cx="597.9" cy="365.9" r="1.55"/><circle cx="594.6" cy="374.6" r="1.55"/><circle cx="599.5" cy="371.1" r="1.55"/><circle cx="603.8" cy="365.4" r="1.55"/><circle cx="607.5" cy="362.7" r="1.55"/><circle cx="611.8" cy="364.3" r="1.55"/><circle cx="603.8" cy="370.3" r="1.55"/><circle cx="608.1" cy="367.9" r="1.55"/><circle cx="613.4" cy="370.3" r="1.55"/><circle cx="617.5" cy="371.9" r="1.55"/><circle cx="623.9" cy="362.7" r="1.55"/><circle cx="622.3" cy="365.4" r="1.55"/><circle cx="624.7" cy="365.4" r="1.55"/><circle cx="621.5" cy="367.9" r="1.55"/><circle cx="623.9" cy="367.9" r="1.55"/><circle cx="624.7" cy="371.1" r="1.55"/><circle cx="623.1" cy="375.1" r="1.55"/><circle cx="628.7" cy="374.3" r="1.55"/><circle cx="633.2" cy="365.4" r="1.55"/><circle cx="636.7" cy="368.6" r="1.55"/><circle cx="641.2" cy="372.3" r="1.55"/><circle cx="643.1" cy="362.7" r="1.55"/><circle cx="641.9" cy="367.5" r="1.55"/><circle cx="646.4" cy="365.9" r="1.55"/><circle cx="646.0" cy="370.3" r="1.55"/><circle cx="651.5" cy="362.7" r="1.55"/><circle cx="655.2" cy="362.7" r="1.55"/><circle cx="650.4" cy="365.9" r="1.55"/><circle cx="652.8" cy="365.9" r="1.55"/><circle cx="656.3" cy="365.9" r="1.55"/><circle cx="653.6" cy="368.6" r="1.55"/><circle cx="654.4" cy="373.5" r="1.55"/><circle cx="655.2" cy="378.3" r="1.55"/><circle cx="655.7" cy="383.1" r="1.55"/><circle cx="554.5" cy="409.3" r="1.55"/><circle cx="560.9" cy="390.6" r="1.55"/><circle cx="565.3" cy="393.2" r="1.55"/><circle cx="569.0" cy="396.4" r="1.55"/><circle cx="570.1" cy="400.8" r="1.55"/><circle cx="573.8" cy="397.1" r="1.55"/><circle cx="578.1" cy="392.3" r="1.55"/><circle cx="577.3" cy="395.1" r="1.55"/><circle cx="594.2" cy="390.6" r="1.55"/><circle cx="595.8" cy="395.1" r="1.55"/><circle cx="591.4" cy="397.1" r="1.55"/><circle cx="597.4" cy="399.6" r="1.55"/><circle cx="601.1" cy="394.3" r="1.55"/><circle cx="605.4" cy="395.5" r="1.55"/><circle cx="608.6" cy="392.3" r="1.55"/><circle cx="613.4" cy="390.6" r="1.55"/><circle cx="618.2" cy="390.6" r="1.55"/><circle cx="622.3" cy="393.2" r="1.55"/><circle cx="626.8" cy="394.3" r="1.55"/><circle cx="628.4" cy="390.6" r="1.55"/><circle cx="630.3" cy="396.4" r="1.55"/><circle cx="636.7" cy="390.6" r="1.55"/><circle cx="641.2" cy="390.6" r="1.55"/><circle cx="645.1" cy="390.6" r="1.55"/><circle cx="641.2" cy="394.3" r="1.55"/><circle cx="644.7" cy="394.3" r="1.55"/><circle cx="648.0" cy="398.4" r="1.55"/><circle cx="31.4" cy="418.7" r="1.55"/><circle cx="35.4" cy="417.1" r="1.55"/><circle cx="33.0" cy="422.4" r="1.55"/><circle cx="36.2" cy="425.6" r="1.55"/><circle cx="45.5" cy="417.1" r="1.55"/><circle cx="45.9" cy="422.0" r="1.55"/><circle cx="49.9" cy="424.9" r="1.55"/><circle cx="53.6" cy="428.1" r="1.55"/><circle cx="57.1" cy="425.6" r="1.55"/><circle cx="59.5" cy="417.1" r="1.55"/><circle cx="60.3" cy="422.0" r="1.55"/><circle cx="59.5" cy="428.1" r="1.55"/><circle cx="63.5" cy="424.5" r="1.55"/><circle cx="61.1" cy="425.6" r="1.55"/><circle cx="67.5" cy="420.8" r="1.55"/><circle cx="67.5" cy="425.6" r="1.55"/><circle cx="69.2" cy="417.1" r="1.55"/><circle cx="73.2" cy="418.7" r="1.55"/><circle cx="77.2" cy="419.2" r="1.55"/><circle cx="81.2" cy="420.8" r="1.55"/><circle cx="84.7" cy="417.1" r="1.55"/><circle cx="86.8" cy="422.0" r="1.55"/><circle cx="81.2" cy="425.6" r="1.55"/><circle cx="90.5" cy="417.1" r="1.55"/><circle cx="95.3" cy="419.2" r="1.55"/><circle cx="99.7" cy="420.8" r="1.55"/><circle cx="100.5" cy="426.1" r="1.55"/><circle cx="103.7" cy="418.7" r="1.55"/><circle cx="108.2" cy="419.2" r="1.55"/><circle cx="113.0" cy="419.2" r="1.55"/><circle cx="116.8" cy="417.1" r="1.55"/><circle cx="117.3" cy="422.0" r="1.55"/><circle cx="118.9" cy="426.1" r="1.55"/><circle cx="123.3" cy="424.9" r="1.55"/><circle cx="123.8" cy="417.1" r="1.55"/><circle cx="127.5" cy="425.6" r="1.55"/><circle cx="126.5" cy="421.6" r="1.55"/><circle cx="130.2" cy="419.7" r="1.55"/><circle cx="134.2" cy="419.2" r="1.55"/><circle cx="31.1" cy="434.8" r="1.55"/><circle cx="33.4" cy="438.5" r="1.55"/><circle cx="35.9" cy="442.8" r="1.55"/><circle cx="38.2" cy="447.0" r="1.55"/><circle cx="41.9" cy="438.0" r="1.55"/><circle cx="44.6" cy="434.8" r="1.55"/><circle cx="47.5" cy="436.4" r="1.55"/><circle cx="51.5" cy="438.5" r="1.55"/><circle cx="52.3" cy="434.8" r="1.55"/><circle cx="56.3" cy="435.8" r="1.55"/><circle cx="55.5" cy="439.3" r="1.55"/><circle cx="60.3" cy="440.6" r="1.55"/><circle cx="64.3" cy="438.5" r="1.55"/><circle cx="69.2" cy="436.4" r="1.55"/><circle cx="78.0" cy="444.9" r="1.55"/><circle cx="80.9" cy="440.9" r="1.55"/><circle cx="84.4" cy="437.7" r="1.55"/><circle cx="88.4" cy="434.8" r="1.55"/><circle cx="92.5" cy="434.8" r="1.55"/><circle cx="95.7" cy="437.7" r="1.55"/><circle cx="98.9" cy="440.9" r="1.55"/><circle cx="102.4" cy="445.4" r="1.55"/><circle cx="106.9" cy="441.7" r="1.55"/><circle cx="110.1" cy="434.8" r="1.55"/><circle cx="111.7" cy="439.6" r="1.55"/><circle cx="114.9" cy="434.8" r="1.55"/><circle cx="116.5" cy="439.6" r="1.55"/><circle cx="118.9" cy="436.4" r="1.55"/><circle cx="120.1" cy="440.9" r="1.55"/><circle cx="124.2" cy="434.8" r="1.55"/><circle cx="127.0" cy="438.5" r="1.55"/><circle cx="129.4" cy="434.8" r="1.55"/><circle cx="31.4" cy="451.8" r="1.55"/><circle cx="35.4" cy="454.6" r="1.55"/><circle cx="39.5" cy="457.3" r="1.55"/><circle cx="43.0" cy="451.3" r="1.55"/><circle cx="47.2" cy="454.1" r="1.55"/><circle cx="51.0" cy="457.3" r="1.55"/><circle cx="54.7" cy="451.3" r="1.55"/><circle cx="57.1" cy="455.4" r="1.55"/><circle cx="59.5" cy="452.1" r="1.55"/><circle cx="64.3" cy="456.2" r="1.55"/><circle cx="68.4" cy="451.3" r="1.55"/><circle cx="68.7" cy="455.7" r="1.55"/><circle cx="71.6" cy="451.3" r="1.55"/><circle cx="74.0" cy="452.1" r="1.55"/><circle cx="76.1" cy="455.4" r="1.55"/><circle cx="78.3" cy="452.1" r="1.55"/><circle cx="82.5" cy="450.9" r="1.55"/><circle cx="86.0" cy="454.1" r="1.55"/><circle cx="89.5" cy="457.8" r="1.55"/><circle cx="98.1" cy="454.1" r="1.55"/><circle cx="101.8" cy="457.3" r="1.55"/><circle cx="106.1" cy="451.3" r="1.55"/><circle cx="107.7" cy="455.4" r="1.55"/><circle cx="110.1" cy="451.8" r="1.55"/><circle cx="114.1" cy="451.3" r="1.55"/><circle cx="117.8" cy="455.4" r="1.55"/><circle cx="125.4" cy="451.8" r="1.55"/><circle cx="129.4" cy="454.1" r="1.55"/><circle cx="133.4" cy="455.4" r="1.55"/><circle cx="64.3" cy="461.0" r="1.55"/><circle cx="32.2" cy="465.3" r="1.55"/><circle cx="36.6" cy="464.7" r="1.55"/><circle cx="31.4" cy="470.1" r="1.55"/><circle cx="38.6" cy="469.0" r="1.55"/><circle cx="41.1" cy="465.3" r="1.55"/><circle cx="45.1" cy="465.3" r="1.55"/><circle cx="48.8" cy="468.5" r="1.55"/><circle cx="52.6" cy="471.7" r="1.55"/><circle cx="57.1" cy="465.3" r="1.55"/><circle cx="58.7" cy="469.0" r="1.55"/><circle cx="61.9" cy="466.3" r="1.55"/><circle cx="67.5" cy="465.3" r="1.55"/><circle cx="66.8" cy="469.8" r="1.55"/><circle cx="66.0" cy="474.6" r="1.55"/><circle cx="72.4" cy="465.3" r="1.55"/><circle cx="76.4" cy="467.4" r="1.55"/><circle cx="84.7" cy="468.5" r="1.55"/><circle cx="88.4" cy="471.7" r="1.55"/><circle cx="92.8" cy="465.3" r="1.55"/><circle cx="95.7" cy="468.5" r="1.55"/><circle cx="98.9" cy="472.2" r="1.55"/><circle cx="103.4" cy="473.3" r="1.55"/><circle cx="104.0" cy="469.0" r="1.55"/><circle cx="105.3" cy="465.3" r="1.55"/><circle cx="109.3" cy="465.3" r="1.55"/><circle cx="113.3" cy="467.4" r="1.55"/><circle cx="116.8" cy="469.5" r="1.55"/><circle cx="121.3" cy="465.3" r="1.55"/><circle cx="124.2" cy="468.5" r="1.55"/><circle cx="127.5" cy="473.3" r="1.55"/><circle cx="131.0" cy="465.3" r="1.55"/><circle cx="134.2" cy="467.4" r="1.55"/><circle cx="31.4" cy="474.9" r="1.55"/><circle cx="139.3" cy="417.6" r="1.55"/><circle cx="139.3" cy="422.0" r="1.55"/><circle cx="143.7" cy="419.7" r="1.55"/><circle cx="148.0" cy="420.4" r="1.55"/><circle cx="153.8" cy="417.1" r="1.55"/><circle cx="154.4" cy="422.0" r="1.55"/><circle cx="152.5" cy="425.2" r="1.55"/><circle cx="155.7" cy="427.7" r="1.55"/><circle cx="158.1" cy="424.0" r="1.55"/><circle cx="162.9" cy="417.6" r="1.55"/><circle cx="166.9" cy="417.6" r="1.55"/><circle cx="162.1" cy="420.4" r="1.55"/><circle cx="167.3" cy="421.6" r="1.55"/><circle cx="171.8" cy="421.3" r="1.55"/><circle cx="176.6" cy="422.4" r="1.55"/><circle cx="176.6" cy="427.3" r="1.55"/><circle cx="188.6" cy="419.2" r="1.55"/><circle cx="193.9" cy="419.2" r="1.55"/><circle cx="198.7" cy="419.7" r="1.55"/><circle cx="202.6" cy="417.1" r="1.55"/><circle cx="211.9" cy="422.0" r="1.55"/><circle cx="219.9" cy="417.1" r="1.55"/><circle cx="221.2" cy="422.0" r="1.55"/><circle cx="226.0" cy="417.1" r="1.55"/><circle cx="227.6" cy="422.0" r="1.55"/><circle cx="228.3" cy="426.4" r="1.55"/><circle cx="225.6" cy="430.0" r="1.55"/><circle cx="232.8" cy="428.1" r="1.55"/><circle cx="237.3" cy="424.0" r="1.55"/><circle cx="239.2" cy="419.2" r="1.55"/><circle cx="140.0" cy="434.8" r="1.55"/><circle cx="142.8" cy="443.3" r="1.55"/><circle cx="146.9" cy="444.9" r="1.55"/><circle cx="150.1" cy="440.9" r="1.55"/><circle cx="153.3" cy="437.4" r="1.55"/><circle cx="157.0" cy="434.8" r="1.55"/><circle cx="161.3" cy="436.9" r="1.55"/><circle cx="164.5" cy="434.8" r="1.55"/><circle cx="166.9" cy="438.0" r="1.55"/><circle cx="163.7" cy="440.1" r="1.55"/><circle cx="170.9" cy="438.0" r="1.55"/><circle cx="176.2" cy="435.8" r="1.55"/><circle cx="180.1" cy="442.2" r="1.55"/><circle cx="184.3" cy="434.8" r="1.55"/><circle cx="187.5" cy="442.8" r="1.55"/><circle cx="191.8" cy="434.8" r="1.55"/><circle cx="196.2" cy="436.4" r="1.55"/><circle cx="200.7" cy="435.3" r="1.55"/><circle cx="204.7" cy="438.0" r="1.55"/><circle cx="207.1" cy="434.8" r="1.55"/><circle cx="208.7" cy="440.1" r="1.55"/><circle cx="211.6" cy="434.8" r="1.55"/><circle cx="214.8" cy="437.4" r="1.55"/><circle cx="218.6" cy="434.8" r="1.55"/><circle cx="222.3" cy="443.3" r="1.55"/><circle cx="226.3" cy="438.0" r="1.55"/><circle cx="231.2" cy="437.4" r="1.55"/><circle cx="230.4" cy="441.7" r="1.55"/><circle cx="235.2" cy="434.8" r="1.55"/><circle cx="239.2" cy="438.0" r="1.55"/><circle cx="138.8" cy="456.2" r="1.55"/><circle cx="140.0" cy="451.3" r="1.55"/><circle cx="144.4" cy="451.3" r="1.55"/><circle cx="148.5" cy="454.1" r="1.55"/><circle cx="151.7" cy="457.3" r="1.55"/><circle cx="156.5" cy="456.2" r="1.55"/><circle cx="158.1" cy="451.3" r="1.55"/><circle cx="156.5" cy="460.2" r="1.55"/><circle cx="162.9" cy="451.3" r="1.55"/><circle cx="166.9" cy="454.6" r="1.55"/><circle cx="170.2" cy="457.3" r="1.55"/><circle cx="174.2" cy="451.3" r="1.55"/><circle cx="179.0" cy="452.1" r="1.55"/><circle cx="183.3" cy="451.3" r="1.55"/><circle cx="183.0" cy="455.7" r="1.55"/><circle cx="191.8" cy="457.8" r="1.55"/><circle cx="191.8" cy="461.0" r="1.55"/><circle cx="198.2" cy="451.3" r="1.55"/><circle cx="199.8" cy="455.7" r="1.55"/><circle cx="203.1" cy="452.5" r="1.55"/><circle cx="206.8" cy="451.3" r="1.55"/><circle cx="211.1" cy="454.6" r="1.55"/><circle cx="214.3" cy="457.8" r="1.55"/><circle cx="219.1" cy="451.3" r="1.55"/><circle cx="226.0" cy="457.8" r="1.55"/><circle cx="230.4" cy="451.3" r="1.55"/><circle cx="234.4" cy="454.6" r="1.55"/><circle cx="237.9" cy="457.0" r="1.55"/><circle cx="133.2" cy="469.8" r="1.55"/><circle cx="136.7" cy="466.3" r="1.55"/><circle cx="140.4" cy="465.0" r="1.55"/><circle cx="143.7" cy="469.0" r="1.55"/><circle cx="146.9" cy="472.7" r="1.55"/><circle cx="151.7" cy="465.3" r="1.55"/><circle cx="157.3" cy="465.3" r="1.55"/><circle cx="156.5" cy="469.8" r="1.55"/><circle cx="162.9" cy="465.3" r="1.55"/><circle cx="166.9" cy="468.5" r="1.55"/><circle cx="169.8" cy="471.4" r="1.55"/><circle cx="174.2" cy="465.3" r="1.55"/><circle cx="178.2" cy="467.4" r="1.55"/><circle cx="182.2" cy="469.5" r="1.55"/><circle cx="186.5" cy="465.3" r="1.55"/><circle cx="191.0" cy="466.3" r="1.55"/><circle cx="195.8" cy="465.3" r="1.55"/><circle cx="199.8" cy="467.4" r="1.55"/><circle cx="203.9" cy="469.5" r="1.55"/><circle cx="208.4" cy="465.3" r="1.55"/><circle cx="212.2" cy="468.2" r="1.55"/><circle cx="219.9" cy="465.3" r="1.55"/><circle cx="221.5" cy="469.8" r="1.55"/><circle cx="224.7" cy="466.3" r="1.55"/><circle cx="228.8" cy="465.3" r="1.55"/><circle cx="232.4" cy="468.2" r="1.55"/><circle cx="236.0" cy="471.7" r="1.55"/><circle cx="241.4" cy="426.4" r="1.55"/><circle cx="245.4" cy="420.4" r="1.55"/><circle cx="250.3" cy="417.1" r="1.55"/><circle cx="253.9" cy="418.1" r="1.55"/><circle cx="251.9" cy="422.0" r="1.55"/><circle cx="255.1" cy="423.6" r="1.55"/><circle cx="258.3" cy="420.8" r="1.55"/><circle cx="261.5" cy="418.4" r="1.55"/><circle cx="263.9" cy="421.3" r="1.55"/><circle cx="266.3" cy="417.1" r="1.55"/><circle cx="267.1" cy="422.0" r="1.55"/><circle cx="271.1" cy="420.4" r="1.55"/><circle cx="274.3" cy="417.1" r="1.55"/><circle cx="271.6" cy="424.5" r="1.55"/><circle cx="294.1" cy="422.0" r="1.55"/><circle cx="298.4" cy="419.7" r="1.55"/><circle cx="302.4" cy="417.1" r="1.55"/><circle cx="306.5" cy="420.4" r="1.55"/><circle cx="309.2" cy="424.0" r="1.55"/><circle cx="311.3" cy="419.7" r="1.55"/><circle cx="315.0" cy="417.1" r="1.55"/><circle cx="319.8" cy="428.9" r="1.55"/><circle cx="321.7" cy="424.9" r="1.55"/><circle cx="324.1" cy="420.8" r="1.55"/><circle cx="326.9" cy="417.1" r="1.55"/><circle cx="331.4" cy="427.3" r="1.55"/><circle cx="339.1" cy="421.3" r="1.55"/><circle cx="342.6" cy="418.4" r="1.55"/><circle cx="239.0" cy="440.6" r="1.55"/><circle cx="243.0" cy="438.5" r="1.55"/><circle cx="245.4" cy="434.8" r="1.55"/><circle cx="249.4" cy="436.1" r="1.55"/><circle cx="251.1" cy="440.1" r="1.55"/><circle cx="254.3" cy="436.4" r="1.55"/><circle cx="258.8" cy="434.8" r="1.55"/><circle cx="263.1" cy="434.8" r="1.55"/><circle cx="263.9" cy="439.3" r="1.55"/><circle cx="267.1" cy="436.4" r="1.55"/><circle cx="276.8" cy="436.4" r="1.55"/><circle cx="277.6" cy="440.1" r="1.55"/><circle cx="286.1" cy="434.8" r="1.55"/><circle cx="286.7" cy="439.3" r="1.55"/><circle cx="294.7" cy="435.8" r="1.55"/><circle cx="300.0" cy="434.8" r="1.55"/><circle cx="304.1" cy="435.8" r="1.55"/><circle cx="299.2" cy="438.5" r="1.55"/><circle cx="308.1" cy="444.9" r="1.55"/><circle cx="310.8" cy="441.2" r="1.55"/><circle cx="314.5" cy="437.4" r="1.55"/><circle cx="318.2" cy="434.8" r="1.55"/><circle cx="322.5" cy="436.9" r="1.55"/><circle cx="327.3" cy="436.9" r="1.55"/><circle cx="331.0" cy="438.5" r="1.55"/><circle cx="335.4" cy="437.4" r="1.55"/><circle cx="337.8" cy="440.9" r="1.55"/><circle cx="340.7" cy="436.9" r="1.55"/><circle cx="344.2" cy="434.8" r="1.55"/><circle cx="237.4" cy="454.6" r="1.55"/><circle cx="242.2" cy="451.3" r="1.55"/><circle cx="246.6" cy="454.1" r="1.55"/><circle cx="250.7" cy="455.7" r="1.55"/><circle cx="255.1" cy="451.3" r="1.55"/><circle cx="259.1" cy="454.1" r="1.55"/><circle cx="267.9" cy="451.3" r="1.55"/><circle cx="269.5" cy="455.7" r="1.55"/><circle cx="271.9" cy="452.9" r="1.55"/><circle cx="280.8" cy="454.1" r="1.55"/><circle cx="284.0" cy="457.8" r="1.55"/><circle cx="288.3" cy="451.3" r="1.55"/><circle cx="291.2" cy="455.7" r="1.55"/><circle cx="297.3" cy="451.3" r="1.55"/><circle cx="303.2" cy="459.4" r="1.55"/><circle cx="307.3" cy="451.3" r="1.55"/><circle cx="310.5" cy="455.7" r="1.55"/><circle cx="313.7" cy="458.6" r="1.55"/><circle cx="320.1" cy="454.6" r="1.55"/><circle cx="324.1" cy="458.6" r="1.55"/><circle cx="335.4" cy="457.8" r="1.55"/><circle cx="340.2" cy="451.3" r="1.55"/><circle cx="342.9" cy="456.2" r="1.55"/><circle cx="241.4" cy="469.8" r="1.55"/><circle cx="245.0" cy="467.4" r="1.55"/><circle cx="249.4" cy="465.3" r="1.55"/><circle cx="256.7" cy="471.4" r="1.55"/><circle cx="261.5" cy="474.3" r="1.55"/><circle cx="263.6" cy="465.3" r="1.55"/><circle cx="267.9" cy="465.3" r="1.55"/><circle cx="271.9" cy="467.4" r="1.55"/><circle cx="281.6" cy="465.3" r="1.55"/><circle cx="280.8" cy="469.8" r="1.55"/><circle cx="280.3" cy="474.3" r="1.55"/><circle cx="286.4" cy="465.3" r="1.55"/><circle cx="288.8" cy="468.5" r="1.55"/><circle cx="292.0" cy="472.7" r="1.55"/><circle cx="296.0" cy="465.8" r="1.55"/><circle cx="296.0" cy="469.8" r="1.55"/><circle cx="295.7" cy="474.6" r="1.55"/><circle cx="300.8" cy="465.3" r="1.55"/><circle cx="305.7" cy="467.4" r="1.55"/><circle cx="309.2" cy="469.8" r="1.55"/><circle cx="313.7" cy="465.3" r="1.55"/><circle cx="317.2" cy="468.2" r="1.55"/><circle cx="320.1" cy="471.4" r="1.55"/><circle cx="325.2" cy="465.3" r="1.55"/><circle cx="324.9" cy="474.6" r="1.55"/><circle cx="336.2" cy="471.4" r="1.55"/><circle cx="341.0" cy="465.3" r="1.55"/><circle cx="344.2" cy="468.5" r="1.55"/><circle cx="344.0" cy="422.0" r="1.55"/><circle cx="349.6" cy="420.8" r="1.55"/><circle cx="351.6" cy="417.1" r="1.55"/><circle cx="359.3" cy="422.9" r="1.55"/><circle cx="371.3" cy="419.2" r="1.55"/><circle cx="375.3" cy="417.1" r="1.55"/><circle cx="375.3" cy="422.4" r="1.55"/><circle cx="378.2" cy="426.1" r="1.55"/><circle cx="382.1" cy="417.1" r="1.55"/><circle cx="386.9" cy="418.7" r="1.55"/><circle cx="391.4" cy="417.1" r="1.55"/><circle cx="390.6" cy="422.0" r="1.55"/><circle cx="395.4" cy="427.3" r="1.55"/><circle cx="398.6" cy="423.6" r="1.55"/><circle cx="402.3" cy="420.4" r="1.55"/><circle cx="405.5" cy="417.1" r="1.55"/><circle cx="409.4" cy="424.5" r="1.55"/><circle cx="413.1" cy="421.3" r="1.55"/><circle cx="415.1" cy="417.1" r="1.55"/><circle cx="418.4" cy="420.4" r="1.55"/><circle cx="422.2" cy="426.1" r="1.55"/><circle cx="426.7" cy="422.9" r="1.55"/><circle cx="430.2" cy="419.7" r="1.55"/><circle cx="433.9" cy="417.1" r="1.55"/><circle cx="441.2" cy="417.1" r="1.55"/><circle cx="449.5" cy="417.1" r="1.55"/><circle cx="348.4" cy="438.0" r="1.55"/><circle cx="352.0" cy="434.8" r="1.55"/><circle cx="352.0" cy="441.7" r="1.55"/><circle cx="355.7" cy="438.0" r="1.55"/><circle cx="363.3" cy="434.8" r="1.55"/><circle cx="367.3" cy="435.8" r="1.55"/><circle cx="364.4" cy="439.3" r="1.55"/><circle cx="372.1" cy="446.5" r="1.55"/><circle cx="374.5" cy="442.2" r="1.55"/><circle cx="377.3" cy="438.0" r="1.55"/><circle cx="384.2" cy="436.9" r="1.55"/><circle cx="386.6" cy="434.8" r="1.55"/><circle cx="390.1" cy="436.9" r="1.55"/><circle cx="387.9" cy="440.6" r="1.55"/><circle cx="394.6" cy="446.0" r="1.55"/><circle cx="400.2" cy="439.6" r="1.55"/><circle cx="402.6" cy="434.8" r="1.55"/><circle cx="406.6" cy="446.0" r="1.55"/><circle cx="410.3" cy="442.2" r="1.55"/><circle cx="412.6" cy="438.5" r="1.55"/><circle cx="415.5" cy="434.8" r="1.55"/><circle cx="419.5" cy="434.8" r="1.55"/><circle cx="423.5" cy="436.9" r="1.55"/><circle cx="427.5" cy="439.6" r="1.55"/><circle cx="432.3" cy="434.8" r="1.55"/><circle cx="436.0" cy="437.4" r="1.55"/><circle cx="444.1" cy="434.8" r="1.55"/><circle cx="447.6" cy="438.0" r="1.55"/><circle cx="450.0" cy="441.7" r="1.55"/><circle cx="345.6" cy="459.4" r="1.55"/><circle cx="350.0" cy="451.3" r="1.55"/><circle cx="354.1" cy="454.1" r="1.55"/><circle cx="358.0" cy="456.2" r="1.55"/><circle cx="362.5" cy="451.3" r="1.55"/><circle cx="366.0" cy="454.1" r="1.55"/><circle cx="369.7" cy="457.8" r="1.55"/><circle cx="374.0" cy="451.3" r="1.55"/><circle cx="375.6" cy="456.2" r="1.55"/><circle cx="378.5" cy="452.5" r="1.55"/><circle cx="383.4" cy="451.3" r="1.55"/><circle cx="385.0" cy="455.7" r="1.55"/><circle cx="388.2" cy="452.5" r="1.55"/><circle cx="392.2" cy="451.3" r="1.55"/><circle cx="396.5" cy="452.5" r="1.55"/><circle cx="400.7" cy="451.3" r="1.55"/><circle cx="403.9" cy="455.7" r="1.55"/><circle cx="405.8" cy="459.9" r="1.55"/><circle cx="410.7" cy="451.3" r="1.55"/><circle cx="414.2" cy="454.6" r="1.55"/><circle cx="417.9" cy="457.8" r="1.55"/><circle cx="426.7" cy="454.1" r="1.55"/><circle cx="430.2" cy="456.2" r="1.55"/><circle cx="434.7" cy="451.3" r="1.55"/><circle cx="436.4" cy="455.7" r="1.55"/><circle cx="439.6" cy="452.1" r="1.55"/><circle cx="443.6" cy="451.3" r="1.55"/><circle cx="447.3" cy="454.6" r="1.55"/><circle cx="348.8" cy="471.7" r="1.55"/><circle cx="352.9" cy="465.3" r="1.55"/><circle cx="355.3" cy="469.5" r="1.55"/><circle cx="361.7" cy="465.3" r="1.55"/><circle cx="363.3" cy="469.0" r="1.55"/><circle cx="366.5" cy="466.6" r="1.55"/><circle cx="375.0" cy="466.6" r="1.55"/><circle cx="383.4" cy="468.2" r="1.55"/><circle cx="386.6" cy="471.7" r="1.55"/><circle cx="391.1" cy="465.3" r="1.55"/><circle cx="394.9" cy="468.5" r="1.55"/><circle cx="398.6" cy="472.2" r="1.55"/><circle cx="404.2" cy="465.3" r="1.55"/><circle cx="403.9" cy="469.8" r="1.55"/><circle cx="402.3" cy="474.6" r="1.55"/><circle cx="410.7" cy="465.3" r="1.55"/><circle cx="409.1" cy="469.8" r="1.55"/><circle cx="408.2" cy="474.6" r="1.55"/><circle cx="415.1" cy="465.3" r="1.55"/><circle cx="419.0" cy="467.4" r="1.55"/><circle cx="423.5" cy="469.8" r="1.55"/><circle cx="429.9" cy="465.3" r="1.55"/><circle cx="428.3" cy="469.8" r="1.55"/><circle cx="427.5" cy="474.6" r="1.55"/><circle cx="435.6" cy="465.3" r="1.55"/><circle cx="435.1" cy="469.8" r="1.55"/><circle cx="433.1" cy="474.6" r="1.55"/><circle cx="441.2" cy="465.3" r="1.55"/><circle cx="440.9" cy="469.8" r="1.55"/><circle cx="445.7" cy="465.3" r="1.55"/><circle cx="446.8" cy="469.8" r="1.55"/><circle cx="452.7" cy="420.4" r="1.55"/><circle cx="459.1" cy="427.7" r="1.55"/><circle cx="467.2" cy="417.6" r="1.55"/><circle cx="467.5" cy="421.3" r="1.55"/><circle cx="472.0" cy="418.7" r="1.55"/><circle cx="476.3" cy="419.7" r="1.55"/><circle cx="481.1" cy="418.7" r="1.55"/><circle cx="485.5" cy="417.1" r="1.55"/><circle cx="490.0" cy="418.7" r="1.55"/><circle cx="494.0" cy="417.1" r="1.55"/><circle cx="492.9" cy="422.0" r="1.55"/><circle cx="495.1" cy="426.1" r="1.55"/><circle cx="498.8" cy="417.1" r="1.55"/><circle cx="501.5" cy="421.3" r="1.55"/><circle cx="501.2" cy="425.6" r="1.55"/><circle cx="506.3" cy="421.3" r="1.55"/><circle cx="510.8" cy="428.9" r="1.55"/><circle cx="513.7" cy="424.9" r="1.55"/><circle cx="519.2" cy="417.1" r="1.55"/><circle cx="523.4" cy="420.4" r="1.55"/><circle cx="526.1" cy="424.0" r="1.55"/><circle cx="528.5" cy="419.7" r="1.55"/><circle cx="532.5" cy="417.1" r="1.55"/><circle cx="537.8" cy="422.0" r="1.55"/><circle cx="539.7" cy="417.1" r="1.55"/><circle cx="541.4" cy="421.3" r="1.55"/><circle cx="545.4" cy="421.3" r="1.55"/><circle cx="549.7" cy="418.1" r="1.55"/><circle cx="549.4" cy="422.0" r="1.55"/><circle cx="552.9" cy="417.1" r="1.55"/><circle cx="455.4" cy="434.8" r="1.55"/><circle cx="459.8" cy="436.4" r="1.55"/><circle cx="463.9" cy="438.5" r="1.55"/><circle cx="468.3" cy="434.8" r="1.55"/><circle cx="477.1" cy="434.8" r="1.55"/><circle cx="478.7" cy="439.0" r="1.55"/><circle cx="481.1" cy="435.8" r="1.55"/><circle cx="485.5" cy="434.8" r="1.55"/><circle cx="487.1" cy="439.0" r="1.55"/><circle cx="490.3" cy="435.8" r="1.55"/><circle cx="494.5" cy="434.8" r="1.55"/><circle cx="498.8" cy="436.4" r="1.55"/><circle cx="502.8" cy="439.0" r="1.55"/><circle cx="507.3" cy="434.8" r="1.55"/><circle cx="510.0" cy="438.0" r="1.55"/><circle cx="518.1" cy="434.8" r="1.55"/><circle cx="519.2" cy="439.0" r="1.55"/><circle cx="522.1" cy="435.8" r="1.55"/><circle cx="528.2" cy="439.0" r="1.55"/><circle cx="531.7" cy="435.8" r="1.55"/><circle cx="535.7" cy="434.8" r="1.55"/><circle cx="539.4" cy="437.4" r="1.55"/><circle cx="543.0" cy="440.6" r="1.55"/><circle cx="549.4" cy="434.8" r="1.55"/><circle cx="547.0" cy="443.8" r="1.55"/><circle cx="553.4" cy="434.8" r="1.55"/><circle cx="455.4" cy="451.3" r="1.55"/><circle cx="457.5" cy="456.2" r="1.55"/><circle cx="464.3" cy="451.3" r="1.55"/><circle cx="466.7" cy="455.7" r="1.55"/><circle cx="476.8" cy="454.1" r="1.55"/><circle cx="480.3" cy="457.8" r="1.55"/><circle cx="484.8" cy="451.3" r="1.55"/><circle cx="489.2" cy="451.8" r="1.55"/><circle cx="494.0" cy="451.3" r="1.55"/><circle cx="496.7" cy="455.7" r="1.55"/><circle cx="499.6" cy="459.4" r="1.55"/><circle cx="503.6" cy="461.0" r="1.55"/><circle cx="505.7" cy="451.3" r="1.55"/><circle cx="504.4" cy="455.7" r="1.55"/><circle cx="510.0" cy="451.3" r="1.55"/><circle cx="514.0" cy="452.5" r="1.55"/><circle cx="511.6" cy="456.2" r="1.55"/><circle cx="518.5" cy="451.3" r="1.55"/><circle cx="519.2" cy="456.2" r="1.55"/><circle cx="523.4" cy="454.1" r="1.55"/><circle cx="528.2" cy="456.2" r="1.55"/><circle cx="527.7" cy="461.0" r="1.55"/><circle cx="536.2" cy="451.3" r="1.55"/><circle cx="540.5" cy="451.3" r="1.55"/><circle cx="542.1" cy="455.7" r="1.55"/><circle cx="544.9" cy="452.5" r="1.55"/><circle cx="549.4" cy="451.3" r="1.55"/><circle cx="450.6" cy="465.3" r="1.55"/><circle cx="454.6" cy="465.3" r="1.55"/><circle cx="454.6" cy="469.8" r="1.55"/><circle cx="454.3" cy="474.6" r="1.55"/><circle cx="459.1" cy="465.3" r="1.55"/><circle cx="461.1" cy="469.5" r="1.55"/><circle cx="463.9" cy="466.3" r="1.55"/><circle cx="468.3" cy="465.3" r="1.55"/><circle cx="469.4" cy="469.8" r="1.55"/><circle cx="473.6" cy="466.3" r="1.55"/><circle cx="477.1" cy="465.3" r="1.55"/><circle cx="478.7" cy="469.8" r="1.55"/><circle cx="482.3" cy="466.3" r="1.55"/><circle cx="486.4" cy="465.3" r="1.55"/><circle cx="490.3" cy="467.4" r="1.55"/><circle cx="494.0" cy="469.5" r="1.55"/><circle cx="498.0" cy="465.3" r="1.55"/><circle cx="499.6" cy="469.5" r="1.55"/><circle cx="503.1" cy="467.4" r="1.55"/><circle cx="506.8" cy="465.3" r="1.55"/><circle cx="509.2" cy="469.5" r="1.55"/><circle cx="512.5" cy="466.3" r="1.55"/><circle cx="516.0" cy="465.3" r="1.55"/><circle cx="520.5" cy="466.3" r="1.55"/><circle cx="524.5" cy="465.3" r="1.55"/><circle cx="526.9" cy="469.5" r="1.55"/><circle cx="530.1" cy="466.3" r="1.55"/><circle cx="533.6" cy="465.3" r="1.55"/><circle cx="536.2" cy="469.5" r="1.55"/><circle cx="540.1" cy="466.3" r="1.55"/><circle cx="543.3" cy="465.3" r="1.55"/><circle cx="546.5" cy="468.5" r="1.55"/><circle cx="550.2" cy="471.7" r="1.55"/><circle cx="554.2" cy="465.3" r="1.55"/><circle cx="557.7" cy="418.1" r="1.55"/><circle cx="554.8" cy="421.3" r="1.55"/><circle cx="558.8" cy="421.3" r="1.55"/><circle cx="568.0" cy="419.7" r="1.55"/><circle cx="572.5" cy="418.7" r="1.55"/><circle cx="577.0" cy="417.1" r="1.55"/><circle cx="580.8" cy="427.3" r="1.55"/><circle cx="584.0" cy="423.6" r="1.55"/><circle cx="587.3" cy="419.7" r="1.55"/><circle cx="591.0" cy="417.1" r="1.55"/><circle cx="595.3" cy="422.0" r="1.55"/><circle cx="598.5" cy="424.9" r="1.55"/><circle cx="599.8" cy="420.4" r="1.55"/><circle cx="603.0" cy="417.1" r="1.55"/><circle cx="607.5" cy="420.4" r="1.55"/><circle cx="609.7" cy="424.0" r="1.55"/><circle cx="611.8" cy="419.7" r="1.55"/><circle cx="615.8" cy="417.1" r="1.55"/><circle cx="620.7" cy="419.7" r="1.55"/><circle cx="629.0" cy="417.1" r="1.55"/><circle cx="633.2" cy="417.1" r="1.55"/><circle cx="635.9" cy="425.6" r="1.55"/><circle cx="636.4" cy="421.3" r="1.55"/><circle cx="641.2" cy="421.3" r="1.55"/><circle cx="645.5" cy="419.2" r="1.55"/><circle cx="648.3" cy="417.1" r="1.55"/><circle cx="650.9" cy="420.4" r="1.55"/><circle cx="647.6" cy="422.9" r="1.55"/><circle cx="554.5" cy="439.3" r="1.55"/><circle cx="558.4" cy="436.1" r="1.55"/><circle cx="562.0" cy="434.8" r="1.55"/><circle cx="566.1" cy="437.4" r="1.55"/><circle cx="569.6" cy="440.6" r="1.55"/><circle cx="574.1" cy="443.8" r="1.55"/><circle cx="575.4" cy="439.0" r="1.55"/><circle cx="580.5" cy="434.8" r="1.55"/><circle cx="584.5" cy="436.4" r="1.55"/><circle cx="593.0" cy="434.8" r="1.55"/><circle cx="596.9" cy="437.4" r="1.55"/><circle cx="600.6" cy="440.6" r="1.55"/><circle cx="605.4" cy="439.3" r="1.55"/><circle cx="604.6" cy="443.8" r="1.55"/><circle cx="606.5" cy="434.8" r="1.55"/><circle cx="615.0" cy="436.4" r="1.55"/><circle cx="619.4" cy="439.0" r="1.55"/><circle cx="623.9" cy="434.8" r="1.55"/><circle cx="624.2" cy="439.6" r="1.55"/><circle cx="628.4" cy="436.4" r="1.55"/><circle cx="632.7" cy="434.8" r="1.55"/><circle cx="633.5" cy="439.3" r="1.55"/><circle cx="641.2" cy="434.8" r="1.55"/><circle cx="643.1" cy="439.0" r="1.55"/><circle cx="646.0" cy="435.8" r="1.55"/><circle cx="650.4" cy="434.8" r="1.55"/><circle cx="654.1" cy="437.4" r="1.55"/><circle cx="657.6" cy="440.6" r="1.55"/><circle cx="557.2" cy="456.2" r="1.55"/><circle cx="565.7" cy="451.3" r="1.55"/><circle cx="563.6" cy="455.7" r="1.55"/><circle cx="570.5" cy="451.3" r="1.55"/><circle cx="574.1" cy="454.6" r="1.55"/><circle cx="584.5" cy="455.7" r="1.55"/><circle cx="588.2" cy="458.6" r="1.55"/><circle cx="592.5" cy="451.3" r="1.55"/><circle cx="595.3" cy="455.4" r="1.55"/><circle cx="597.9" cy="459.4" r="1.55"/><circle cx="602.2" cy="451.3" r="1.55"/><circle cx="605.4" cy="454.6" r="1.55"/><circle cx="609.4" cy="457.8" r="1.55"/><circle cx="613.9" cy="451.3" r="1.55"/><circle cx="618.2" cy="452.5" r="1.55"/><circle cx="615.0" cy="456.2" r="1.55"/><circle cx="624.2" cy="451.3" r="1.55"/><circle cx="623.1" cy="456.2" r="1.55"/><circle cx="622.6" cy="460.5" r="1.55"/><circle cx="628.7" cy="451.3" r="1.55"/><circle cx="633.2" cy="452.5" r="1.55"/><circle cx="637.5" cy="451.3" r="1.55"/><circle cx="640.7" cy="455.4" r="1.55"/><circle cx="643.9" cy="458.6" r="1.55"/><circle cx="648.3" cy="451.3" r="1.55"/><circle cx="652.5" cy="452.5" r="1.55"/><circle cx="649.9" cy="455.7" r="1.55"/><circle cx="558.0" cy="468.5" r="1.55"/><circle cx="561.6" cy="471.4" r="1.55"/><circle cx="565.3" cy="474.6" r="1.55"/><circle cx="566.9" cy="469.5" r="1.55"/><circle cx="572.5" cy="465.3" r="1.55"/><circle cx="576.0" cy="468.5" r="1.55"/><circle cx="579.7" cy="471.7" r="1.55"/><circle cx="44.6" cy="275.5" r="1.55"/><circle cx="42.1" cy="276.8" r="1.55"/><circle cx="43.7" cy="273.0" r="1.55"/><circle cx="45.3" cy="277.8" r="1.55"/><circle cx="40.2" cy="274.9" r="1.55"/><circle cx="61.6" cy="275.0" r="1.55"/><circle cx="59.1" cy="276.3" r="1.55"/><circle cx="60.7" cy="272.5" r="1.55"/><circle cx="62.3" cy="277.4" r="1.55"/><circle cx="57.2" cy="274.4" r="1.55"/><circle cx="63.6" cy="273.0" r="1.55"/><circle cx="59.5" cy="278.9" r="1.55"/><circle cx="58.5" cy="271.2" r="1.55"/><circle cx="64.8" cy="276.6" r="1.55"/><circle cx="56.0" cy="276.9" r="1.55"/><circle cx="38.6" cy="299.5" r="1.55"/><circle cx="36.1" cy="300.8" r="1.55"/><circle cx="37.7" cy="297.0" r="1.55"/><circle cx="39.3" cy="301.8" r="1.55"/><circle cx="34.2" cy="298.9" r="1.55"/><circle cx="98.4" cy="273.7" r="1.55"/><circle cx="95.9" cy="274.9" r="1.55"/><circle cx="97.5" cy="271.3" r="1.55"/><circle cx="99.0" cy="275.9" r="1.55"/><circle cx="94.1" cy="273.1" r="1.55"/><circle cx="100.3" cy="271.8" r="1.55"/><circle cx="96.3" cy="277.4" r="1.55"/><circle cx="104.8" cy="276.9" r="1.55"/><circle cx="102.3" cy="278.1" r="1.55"/><circle cx="103.9" cy="274.5" r="1.55"/><circle cx="105.4" cy="279.1" r="1.55"/><circle cx="100.5" cy="276.3" r="1.55"/><circle cx="106.7" cy="275.0" r="1.55"/><circle cx="102.7" cy="280.6" r="1.55"/><circle cx="113.6" cy="282.6" r="1.55"/><circle cx="111.1" cy="283.9" r="1.55"/><circle cx="112.7" cy="280.1" r="1.55"/><circle cx="114.3" cy="284.9" r="1.55"/><circle cx="109.2" cy="282.0" r="1.55"/><circle cx="130.5" cy="274.5" r="1.55"/><circle cx="128.0" cy="275.8" r="1.55"/><circle cx="129.6" cy="272.0" r="1.55"/><circle cx="131.2" cy="276.8" r="1.55"/><circle cx="126.1" cy="273.9" r="1.55"/><circle cx="182.5" cy="272.9" r="1.55"/><circle cx="180.0" cy="274.2" r="1.55"/><circle cx="181.6" cy="270.4" r="1.55"/><circle cx="183.2" cy="275.3" r="1.55"/><circle cx="178.1" cy="272.3" r="1.55"/><circle cx="184.6" cy="270.9" r="1.55"/><circle cx="180.3" cy="276.8" r="1.55"/><circle cx="179.4" cy="269.0" r="1.55"/><circle cx="214.6" cy="261.7" r="1.55"/><circle cx="212.1" cy="262.9" r="1.55"/><circle cx="213.7" cy="259.3" r="1.55"/><circle cx="215.2" cy="263.9" r="1.55"/><circle cx="210.3" cy="261.1" r="1.55"/><circle cx="216.5" cy="259.8" r="1.55"/><circle cx="212.5" cy="265.4" r="1.55"/><circle cx="254.6" cy="273.7" r="1.55"/><circle cx="252.1" cy="274.9" r="1.55"/><circle cx="253.7" cy="271.3" r="1.55"/><circle cx="255.2" cy="275.9" r="1.55"/><circle cx="250.3" cy="273.1" r="1.55"/><circle cx="256.5" cy="271.8" r="1.55"/><circle cx="252.5" cy="277.4" r="1.55"/><circle cx="284.3" cy="297.8" r="1.55"/><circle cx="281.8" cy="299.1" r="1.55"/><circle cx="283.4" cy="295.3" r="1.55"/><circle cx="285.0" cy="300.1" r="1.55"/><circle cx="279.9" cy="297.2" r="1.55"/><circle cx="286.3" cy="295.8" r="1.55"/><circle cx="282.1" cy="301.7" r="1.55"/><circle cx="281.2" cy="294.0" r="1.55"/><circle cx="287.5" cy="299.4" r="1.55"/><circle cx="278.7" cy="299.7" r="1.55"/><circle cx="333.3" cy="278.5" r="1.55"/><circle cx="330.8" cy="279.8" r="1.55"/><circle cx="332.4" cy="276.0" r="1.55"/><circle cx="334.0" cy="280.9" r="1.55"/><circle cx="328.9" cy="277.9" r="1.55"/><circle cx="335.4" cy="276.5" r="1.55"/><circle cx="331.1" cy="282.4" r="1.55"/><circle cx="330.2" cy="274.6" r="1.55"/><circle cx="339.7" cy="260.9" r="1.55"/><circle cx="337.2" cy="262.1" r="1.55"/><circle cx="338.8" cy="258.5" r="1.55"/><circle cx="340.3" cy="263.1" r="1.55"/><circle cx="370.8" cy="266.5" r="1.55"/><circle cx="368.3" cy="267.8" r="1.55"/><circle cx="369.9" cy="264.0" r="1.55"/><circle cx="371.5" cy="268.9" r="1.55"/><circle cx="366.4" cy="265.9" r="1.55"/><circle cx="372.9" cy="264.5" r="1.55"/><circle cx="368.6" cy="270.4" r="1.55"/><circle cx="367.7" cy="262.6" r="1.55"/><circle cx="367.6" cy="289.0" r="1.55"/><circle cx="365.1" cy="290.3" r="1.55"/><circle cx="366.7" cy="286.5" r="1.55"/><circle cx="368.3" cy="291.3" r="1.55"/><circle cx="363.2" cy="288.4" r="1.55"/><circle cx="432.6" cy="286.6" r="1.55"/><circle cx="430.1" cy="287.9" r="1.55"/><circle cx="431.7" cy="284.2" r="1.55"/><circle cx="433.2" cy="288.8" r="1.55"/><circle cx="428.3" cy="286.0" r="1.55"/><circle cx="434.5" cy="284.7" r="1.55"/><circle cx="430.5" cy="290.3" r="1.55"/><circle cx="419.8" cy="278.5" r="1.55"/><circle cx="417.4" cy="279.7" r="1.55"/><circle cx="418.9" cy="276.1" r="1.55"/><circle cx="420.4" cy="280.7" r="1.55"/><circle cx="469.4" cy="268.9" r="1.55"/><circle cx="466.9" cy="270.1" r="1.55"/><circle cx="468.5" cy="266.5" r="1.55"/><circle cx="470.0" cy="271.1" r="1.55"/><circle cx="465.1" cy="268.3" r="1.55"/><circle cx="471.3" cy="267.0" r="1.55"/><circle cx="467.3" cy="272.6" r="1.55"/><circle cx="511.1" cy="267.3" r="1.55"/><circle cx="508.6" cy="268.6" r="1.55"/><circle cx="510.2" cy="264.8" r="1.55"/><circle cx="511.8" cy="269.6" r="1.55"/><circle cx="506.7" cy="266.7" r="1.55"/><circle cx="511.9" cy="287.4" r="1.55"/><circle cx="509.4" cy="288.7" r="1.55"/><circle cx="511.0" cy="284.9" r="1.55"/><circle cx="512.6" cy="289.7" r="1.55"/><circle cx="507.5" cy="286.8" r="1.55"/><circle cx="544.1" cy="267.3" r="1.55"/><circle cx="541.6" cy="268.6" r="1.55"/><circle cx="543.2" cy="264.8" r="1.55"/><circle cx="544.8" cy="269.6" r="1.55"/><circle cx="539.7" cy="266.7" r="1.55"/><circle cx="546.1" cy="265.3" r="1.55"/><circle cx="542.0" cy="271.2" r="1.55"/><circle cx="541.0" cy="263.5" r="1.55"/><circle cx="547.3" cy="268.9" r="1.55"/><circle cx="538.5" cy="269.2" r="1.55"/><circle cx="558.3" cy="288.2" r="1.55"/><circle cx="555.8" cy="289.5" r="1.55"/><circle cx="557.4" cy="285.7" r="1.55"/><circle cx="559.0" cy="290.5" r="1.55"/><circle cx="553.9" cy="287.6" r="1.55"/><circle cx="631.4" cy="287.4" r="1.55"/><circle cx="628.9" cy="288.7" r="1.55"/><circle cx="630.5" cy="284.9" r="1.55"/><circle cx="632.1" cy="289.7" r="1.55"/><circle cx="627.0" cy="286.8" r="1.55"/><circle cx="50.2" cy="331.5" r="1.55"/><circle cx="47.7" cy="332.8" r="1.55"/><circle cx="49.3" cy="329.1" r="1.55"/><circle cx="50.8" cy="333.7" r="1.55"/><circle cx="45.9" cy="330.9" r="1.55"/><circle cx="52.1" cy="329.6" r="1.55"/><circle cx="48.1" cy="335.2" r="1.55"/><circle cx="95.1" cy="340.3" r="1.55"/><circle cx="92.6" cy="341.6" r="1.55"/><circle cx="94.2" cy="337.8" r="1.55"/><circle cx="95.8" cy="342.6" r="1.55"/><circle cx="90.7" cy="339.7" r="1.55"/><circle cx="113.6" cy="325.1" r="1.55"/><circle cx="111.1" cy="326.4" r="1.55"/><circle cx="112.7" cy="322.6" r="1.55"/><circle cx="114.3" cy="327.4" r="1.55"/><circle cx="109.2" cy="324.5" r="1.55"/><circle cx="133.7" cy="334.7" r="1.55"/><circle cx="131.2" cy="336.0" r="1.55"/><circle cx="132.8" cy="332.2" r="1.55"/><circle cx="134.4" cy="337.0" r="1.55"/><circle cx="129.3" cy="334.1" r="1.55"/><circle cx="155.2" cy="331.5" r="1.55"/><circle cx="152.7" cy="332.8" r="1.55"/><circle cx="154.3" cy="329.1" r="1.55"/><circle cx="155.8" cy="333.7" r="1.55"/><circle cx="150.9" cy="330.9" r="1.55"/><circle cx="157.1" cy="329.6" r="1.55"/><circle cx="153.1" cy="335.2" r="1.55"/><circle cx="155.2" cy="347.6" r="1.55"/><circle cx="152.7" cy="348.9" r="1.55"/><circle cx="154.3" cy="345.1" r="1.55"/><circle cx="155.9" cy="349.9" r="1.55"/><circle cx="150.8" cy="347.0" r="1.55"/><circle cx="186.5" cy="325.1" r="1.55"/><circle cx="184.0" cy="326.4" r="1.55"/><circle cx="185.6" cy="322.6" r="1.55"/><circle cx="187.2" cy="327.4" r="1.55"/><circle cx="182.1" cy="324.5" r="1.55"/><circle cx="225.8" cy="325.1" r="1.55"/><circle cx="223.3" cy="326.4" r="1.55"/><circle cx="224.9" cy="322.6" r="1.55"/><circle cx="226.5" cy="327.4" r="1.55"/><circle cx="221.4" cy="324.5" r="1.55"/><circle cx="235.5" cy="325.9" r="1.55"/><circle cx="233.0" cy="327.2" r="1.55"/><circle cx="234.6" cy="323.4" r="1.55"/><circle cx="236.2" cy="328.2" r="1.55"/><circle cx="231.1" cy="325.3" r="1.55"/><circle cx="253.8" cy="322.7" r="1.55"/><circle cx="251.3" cy="324.0" r="1.55"/><circle cx="252.9" cy="320.2" r="1.55"/><circle cx="254.5" cy="325.0" r="1.55"/><circle cx="249.4" cy="322.1" r="1.55"/><circle cx="320.4" cy="326.7" r="1.55"/><circle cx="317.9" cy="327.9" r="1.55"/><circle cx="319.5" cy="324.3" r="1.55"/><circle cx="321.0" cy="328.9" r="1.55"/><circle cx="316.1" cy="326.1" r="1.55"/><circle cx="322.3" cy="324.8" r="1.55"/><circle cx="318.3" cy="330.4" r="1.55"/><circle cx="421.4" cy="325.1" r="1.55"/><circle cx="418.9" cy="326.3" r="1.55"/><circle cx="420.5" cy="322.7" r="1.55"/><circle cx="422.0" cy="327.3" r="1.55"/><circle cx="41.4" cy="370.3" r="1.55"/><circle cx="38.9" cy="371.6" r="1.55"/><circle cx="40.5" cy="367.8" r="1.55"/><circle cx="42.1" cy="372.6" r="1.55"/><circle cx="37.0" cy="369.7" r="1.55"/><circle cx="112.8" cy="367.8" r="1.55"/><circle cx="110.3" cy="369.1" r="1.55"/><circle cx="111.9" cy="365.3" r="1.55"/><circle cx="113.5" cy="370.1" r="1.55"/><circle cx="108.4" cy="367.2" r="1.55"/><circle cx="192.9" cy="369.5" r="1.55"/><circle cx="190.4" cy="370.8" r="1.55"/><circle cx="192.0" cy="367.1" r="1.55"/><circle cx="193.5" cy="371.7" r="1.55"/><circle cx="188.6" cy="368.9" r="1.55"/><circle cx="194.8" cy="367.6" r="1.55"/><circle cx="190.8" cy="373.2" r="1.55"/><circle cx="161.6" cy="393.5" r="1.55"/><circle cx="159.1" cy="394.8" r="1.55"/><circle cx="160.7" cy="391.0" r="1.55"/><circle cx="162.3" cy="395.8" r="1.55"/><circle cx="157.2" cy="392.9" r="1.55"/><circle cx="248.9" cy="368.7" r="1.55"/><circle cx="246.4" cy="370.0" r="1.55"/><circle cx="248.0" cy="366.2" r="1.55"/><circle cx="249.6" cy="371.0" r="1.55"/><circle cx="244.5" cy="368.1" r="1.55"/><circle cx="31.5" cy="479.4" r="1.55"/><circle cx="40.4" cy="479.4" r="1.55"/><circle cx="49.2" cy="479.4" r="1.55"/><circle cx="53.6" cy="479.4" r="1.55"/><circle cx="58.1" cy="479.4" r="1.55"/><circle cx="62.5" cy="479.4" r="1.55"/><circle cx="66.9" cy="479.4" r="1.55"/><circle cx="75.8" cy="479.4" r="1.55"/><circle cx="80.2" cy="479.4" r="1.55"/><circle cx="84.6" cy="479.4" r="1.55"/><circle cx="89.0" cy="479.4" r="1.55"/><circle cx="93.5" cy="479.4" r="1.55"/><circle cx="97.9" cy="479.4" r="1.55"/><circle cx="102.3" cy="479.4" r="1.55"/><circle cx="106.8" cy="479.4" r="1.55"/><circle cx="111.2" cy="479.4" r="1.55"/><circle cx="115.6" cy="479.4" r="1.55"/><circle cx="120.0" cy="479.4" r="1.55"/><circle cx="124.5" cy="479.4" r="1.55"/><circle cx="128.9" cy="479.4" r="1.55"/><circle cx="133.3" cy="479.4" r="1.55"/><circle cx="137.8" cy="479.4" r="1.55"/><circle cx="142.2" cy="479.4" r="1.55"/><circle cx="146.6" cy="479.4" r="1.55"/><circle cx="151.0" cy="479.4" r="1.55"/><circle cx="155.5" cy="479.4" r="1.55"/><circle cx="159.9" cy="479.4" r="1.55"/><circle cx="164.3" cy="479.4" r="1.55"/><circle cx="168.7" cy="479.4" r="1.55"/><circle cx="173.2" cy="479.4" r="1.55"/><circle cx="177.6" cy="479.4" r="1.55"/><circle cx="182.0" cy="479.4" r="1.55"/><circle cx="186.4" cy="479.4" r="1.55"/><circle cx="195.3" cy="479.4" r="1.55"/><circle cx="199.7" cy="479.4" r="1.55"/><circle cx="204.2" cy="479.4" r="1.55"/><circle cx="208.6" cy="479.4" r="1.55"/><circle cx="213.0" cy="479.4" r="1.55"/><circle cx="217.4" cy="479.4" r="1.55"/><circle cx="226.3" cy="479.4" r="1.55"/><circle cx="230.7" cy="479.4" r="1.55"/><circle cx="235.1" cy="479.4" r="1.55"/><circle cx="244.0" cy="479.4" r="1.55"/><circle cx="248.4" cy="479.4" r="1.55"/><circle cx="252.8" cy="479.4" r="1.55"/><circle cx="257.3" cy="479.4" r="1.55"/><circle cx="261.7" cy="479.4" r="1.55"/><circle cx="266.1" cy="479.4" r="1.55"/><circle cx="270.6" cy="479.4" r="1.55"/><circle cx="275.0" cy="479.4" r="1.55"/><circle cx="279.4" cy="479.4" r="1.55"/><circle cx="288.3" cy="479.4" r="1.55"/><circle cx="292.7" cy="479.4" r="1.55"/><circle cx="297.1" cy="479.4" r="1.55"/><circle cx="301.6" cy="479.4" r="1.55"/><circle cx="310.4" cy="479.4" r="1.55"/><circle cx="314.8" cy="479.4" r="1.55"/><circle cx="319.2" cy="479.4" r="1.55"/><circle cx="328.1" cy="479.4" r="1.55"/><circle cx="332.5" cy="479.4" r="1.55"/><circle cx="337.0" cy="479.4" r="1.55"/><circle cx="341.4" cy="479.4" r="1.55"/><circle cx="345.8" cy="479.4" r="1.55"/><circle cx="350.2" cy="479.4" r="1.55"/><circle cx="354.7" cy="479.4" r="1.55"/><circle cx="359.1" cy="479.4" r="1.55"/><circle cx="363.5" cy="479.4" r="1.55"/><circle cx="367.9" cy="479.4" r="1.55"/><circle cx="372.4" cy="479.4" r="1.55"/><circle cx="376.8" cy="479.4" r="1.55"/><circle cx="381.2" cy="479.4" r="1.55"/><circle cx="385.7" cy="479.4" r="1.55"/><circle cx="390.1" cy="479.4" r="1.55"/><circle cx="394.5" cy="479.4" r="1.55"/><circle cx="398.9" cy="479.4" r="1.55"/><circle cx="403.4" cy="479.4" r="1.55"/><circle cx="407.8" cy="479.4" r="1.55"/><circle cx="412.2" cy="479.4" r="1.55"/><circle cx="416.6" cy="479.4" r="1.55"/><circle cx="421.1" cy="479.4" r="1.55"/><circle cx="425.5" cy="479.4" r="1.55"/><circle cx="429.9" cy="479.4" r="1.55"/><circle cx="438.8" cy="479.4" r="1.55"/><circle cx="443.2" cy="479.4" r="1.55"/><circle cx="447.6" cy="479.4" r="1.55"/><circle cx="452.1" cy="479.4" r="1.55"/><circle cx="456.5" cy="479.4" r="1.55"/><circle cx="460.9" cy="479.4" r="1.55"/><circle cx="465.4" cy="479.4" r="1.55"/><circle cx="469.8" cy="479.4" r="1.55"/><circle cx="474.2" cy="479.4" r="1.55"/><circle cx="478.6" cy="479.4" r="1.55"/><circle cx="483.1" cy="479.4" r="1.55"/><circle cx="487.5" cy="479.4" r="1.55"/><circle cx="491.9" cy="479.4" r="1.55"/><circle cx="496.3" cy="479.4" r="1.55"/><circle cx="500.8" cy="479.4" r="1.55"/><circle cx="505.2" cy="479.4" r="1.55"/><circle cx="509.6" cy="479.4" r="1.55"/><circle cx="514.0" cy="479.4" r="1.55"/><circle cx="518.5" cy="479.4" r="1.55"/><circle cx="522.9" cy="479.4" r="1.55"/><circle cx="527.3" cy="479.4" r="1.55"/><circle cx="531.8" cy="479.4" r="1.55"/><circle cx="536.2" cy="479.4" r="1.55"/><circle cx="540.6" cy="479.4" r="1.55"/><circle cx="549.5" cy="479.4" r="1.55"/><circle cx="553.9" cy="479.4" r="1.55"/><circle cx="558.3" cy="479.4" r="1.55"/><circle cx="562.7" cy="479.4" r="1.55"/><circle cx="567.2" cy="479.4" r="1.55"/><circle cx="571.6" cy="479.4" r="1.55"/><circle cx="580.5" cy="479.4" r="1.55"/><circle cx="31.5" cy="483.9" r="1.55"/><circle cx="44.8" cy="483.9" r="1.55"/><circle cx="49.2" cy="483.9" r="1.55"/><circle cx="53.6" cy="483.9" r="1.55"/><circle cx="58.1" cy="483.9" r="1.55"/><circle cx="62.5" cy="483.9" r="1.55"/><circle cx="66.9" cy="483.9" r="1.55"/><circle cx="71.3" cy="483.9" r="1.55"/><circle cx="80.2" cy="483.9" r="1.55"/><circle cx="84.6" cy="483.9" r="1.55"/><circle cx="89.0" cy="483.9" r="1.55"/><circle cx="93.5" cy="483.9" r="1.55"/><circle cx="97.9" cy="483.9" r="1.55"/><circle cx="106.8" cy="483.9" r="1.55"/><circle cx="111.2" cy="483.9" r="1.55"/><circle cx="115.6" cy="483.9" r="1.55"/><circle cx="120.0" cy="483.9" r="1.55"/><circle cx="124.5" cy="483.9" r="1.55"/><circle cx="128.9" cy="483.9" r="1.55"/><circle cx="133.3" cy="483.9" r="1.55"/><circle cx="137.8" cy="483.9" r="1.55"/><circle cx="142.2" cy="483.9" r="1.55"/><circle cx="146.6" cy="483.9" r="1.55"/><circle cx="151.0" cy="483.9" r="1.55"/><circle cx="155.5" cy="483.9" r="1.55"/><circle cx="159.9" cy="483.9" r="1.55"/><circle cx="164.3" cy="483.9" r="1.55"/><circle cx="168.7" cy="483.9" r="1.55"/><circle cx="173.2" cy="483.9" r="1.55"/><circle cx="177.6" cy="483.9" r="1.55"/><circle cx="182.0" cy="483.9" r="1.55"/><circle cx="186.4" cy="483.9" r="1.55"/><circle cx="190.9" cy="483.9" r="1.55"/><circle cx="195.3" cy="483.9" r="1.55"/><circle cx="199.7" cy="483.9" r="1.55"/><circle cx="204.2" cy="483.9" r="1.55"/><circle cx="208.6" cy="483.9" r="1.55"/><circle cx="213.0" cy="483.9" r="1.55"/><circle cx="217.4" cy="483.9" r="1.55"/><circle cx="221.9" cy="483.9" r="1.55"/><circle cx="226.3" cy="483.9" r="1.55"/><circle cx="230.7" cy="483.9" r="1.55"/><circle cx="235.1" cy="483.9" r="1.55"/><circle cx="244.0" cy="483.9" r="1.55"/><circle cx="248.4" cy="483.9" r="1.55"/><circle cx="252.8" cy="483.9" r="1.55"/><circle cx="257.3" cy="483.9" r="1.55"/><circle cx="266.1" cy="483.9" r="1.55"/><circle cx="270.6" cy="483.9" r="1.55"/><circle cx="275.0" cy="483.9" r="1.55"/><circle cx="279.4" cy="483.9" r="1.55"/><circle cx="283.8" cy="483.9" r="1.55"/><circle cx="288.3" cy="483.9" r="1.55"/><circle cx="292.7" cy="483.9" r="1.55"/><circle cx="297.1" cy="483.9" r="1.55"/><circle cx="301.6" cy="483.9" r="1.55"/><circle cx="306.0" cy="483.9" r="1.55"/><circle cx="310.4" cy="483.9" r="1.55"/><circle cx="314.8" cy="483.9" r="1.55"/><circle cx="319.2" cy="483.9" r="1.55"/><circle cx="323.7" cy="483.9" r="1.55"/><circle cx="328.1" cy="483.9" r="1.55"/><circle cx="332.5" cy="483.9" r="1.55"/><circle cx="341.4" cy="483.9" r="1.55"/><circle cx="345.8" cy="483.9" r="1.55"/><circle cx="350.2" cy="483.9" r="1.55"/><circle cx="354.7" cy="483.9" r="1.55"/><circle cx="359.1" cy="483.9" r="1.55"/><circle cx="363.5" cy="483.9" r="1.55"/><circle cx="367.9" cy="483.9" r="1.55"/><circle cx="372.4" cy="483.9" r="1.55"/><circle cx="376.8" cy="483.9" r="1.55"/><circle cx="381.2" cy="483.9" r="1.55"/><circle cx="385.7" cy="483.9" r="1.55"/><circle cx="390.1" cy="483.9" r="1.55"/><circle cx="394.5" cy="483.9" r="1.55"/><circle cx="398.9" cy="483.9" r="1.55"/><circle cx="403.4" cy="483.9" r="1.55"/><circle cx="407.8" cy="483.9" r="1.55"/><circle cx="412.2" cy="483.9" r="1.55"/><circle cx="416.6" cy="483.9" r="1.55"/><circle cx="425.5" cy="483.9" r="1.55"/><circle cx="429.9" cy="483.9" r="1.55"/><circle cx="438.8" cy="483.9" r="1.55"/><circle cx="447.6" cy="483.9" r="1.55"/><circle cx="452.1" cy="483.9" r="1.55"/><circle cx="456.5" cy="483.9" r="1.55"/><circle cx="460.9" cy="483.9" r="1.55"/><circle cx="469.8" cy="483.9" r="1.55"/><circle cx="474.2" cy="483.9" r="1.55"/><circle cx="478.6" cy="483.9" r="1.55"/><circle cx="483.1" cy="483.9" r="1.55"/><circle cx="487.5" cy="483.9" r="1.55"/><circle cx="491.9" cy="483.9" r="1.55"/><circle cx="496.3" cy="483.9" r="1.55"/><circle cx="500.8" cy="483.9" r="1.55"/><circle cx="509.6" cy="483.9" r="1.55"/><circle cx="514.0" cy="483.9" r="1.55"/><circle cx="518.5" cy="483.9" r="1.55"/><circle cx="522.9" cy="483.9" r="1.55"/><circle cx="527.3" cy="483.9" r="1.55"/><circle cx="531.8" cy="483.9" r="1.55"/><circle cx="536.2" cy="483.9" r="1.55"/><circle cx="540.6" cy="483.9" r="1.55"/><circle cx="545.0" cy="483.9" r="1.55"/><circle cx="549.5" cy="483.9" r="1.55"/><circle cx="553.9" cy="483.9" r="1.55"/><circle cx="558.3" cy="483.9" r="1.55"/><circle cx="562.7" cy="483.9" r="1.55"/><circle cx="567.2" cy="483.9" r="1.55"/><circle cx="571.6" cy="483.9" r="1.55"/><circle cx="576.0" cy="483.9" r="1.55"/><circle cx="580.5" cy="483.9" r="1.55"/><circle cx="31.5" cy="488.4" r="1.55"/><circle cx="35.9" cy="488.4" r="1.55"/><circle cx="40.4" cy="488.4" r="1.55"/><circle cx="44.8" cy="488.4" r="1.55"/><circle cx="49.2" cy="488.4" r="1.55"/><circle cx="53.6" cy="488.4" r="1.55"/><circle cx="58.1" cy="488.4" r="1.55"/><circle cx="62.5" cy="488.4" r="1.55"/><circle cx="66.9" cy="488.4" r="1.55"/><circle cx="75.8" cy="488.4" r="1.55"/><circle cx="84.6" cy="488.4" r="1.55"/><circle cx="89.0" cy="488.4" r="1.55"/><circle cx="97.9" cy="488.4" r="1.55"/><circle cx="102.3" cy="488.4" r="1.55"/><circle cx="111.2" cy="488.4" r="1.55"/><circle cx="120.0" cy="488.4" r="1.55"/><circle cx="124.5" cy="488.4" r="1.55"/><circle cx="128.9" cy="488.4" r="1.55"/><circle cx="133.3" cy="488.4" r="1.55"/><circle cx="137.8" cy="488.4" r="1.55"/><circle cx="142.2" cy="488.4" r="1.55"/><circle cx="151.0" cy="488.4" r="1.55"/><circle cx="155.5" cy="488.4" r="1.55"/><circle cx="164.3" cy="488.4" r="1.55"/><circle cx="168.7" cy="488.4" r="1.55"/><circle cx="173.2" cy="488.4" r="1.55"/><circle cx="177.6" cy="488.4" r="1.55"/><circle cx="190.9" cy="488.4" r="1.55"/><circle cx="195.3" cy="488.4" r="1.55"/><circle cx="199.7" cy="488.4" r="1.55"/><circle cx="204.2" cy="488.4" r="1.55"/><circle cx="208.6" cy="488.4" r="1.55"/><circle cx="213.0" cy="488.4" r="1.55"/><circle cx="217.4" cy="488.4" r="1.55"/><circle cx="221.9" cy="488.4" r="1.55"/><circle cx="226.3" cy="488.4" r="1.55"/><circle cx="230.7" cy="488.4" r="1.55"/><circle cx="235.1" cy="488.4" r="1.55"/><circle cx="239.6" cy="488.4" r="1.55"/><circle cx="248.4" cy="488.4" r="1.55"/><circle cx="252.8" cy="488.4" r="1.55"/><circle cx="257.3" cy="488.4" r="1.55"/><circle cx="261.7" cy="488.4" r="1.55"/><circle cx="266.1" cy="488.4" r="1.55"/><circle cx="275.0" cy="488.4" r="1.55"/><circle cx="279.4" cy="488.4" r="1.55"/><circle cx="283.8" cy="488.4" r="1.55"/><circle cx="288.3" cy="488.4" r="1.55"/><circle cx="292.7" cy="488.4" r="1.55"/><circle cx="297.1" cy="488.4" r="1.55"/><circle cx="301.6" cy="488.4" r="1.55"/><circle cx="306.0" cy="488.4" r="1.55"/><circle cx="310.4" cy="488.4" r="1.55"/><circle cx="314.8" cy="488.4" r="1.55"/><circle cx="319.2" cy="488.4" r="1.55"/><circle cx="323.7" cy="488.4" r="1.55"/><circle cx="337.0" cy="488.4" r="1.55"/><circle cx="341.4" cy="488.4" r="1.55"/><circle cx="345.8" cy="488.4" r="1.55"/><circle cx="359.1" cy="488.4" r="1.55"/><circle cx="367.9" cy="488.4" r="1.55"/><circle cx="372.4" cy="488.4" r="1.55"/><circle cx="376.8" cy="488.4" r="1.55"/><circle cx="381.2" cy="488.4" r="1.55"/><circle cx="385.7" cy="488.4" r="1.55"/><circle cx="390.1" cy="488.4" r="1.55"/><circle cx="394.5" cy="488.4" r="1.55"/><circle cx="398.9" cy="488.4" r="1.55"/><circle cx="403.4" cy="488.4" r="1.55"/><circle cx="407.8" cy="488.4" r="1.55"/><circle cx="412.2" cy="488.4" r="1.55"/><circle cx="416.6" cy="488.4" r="1.55"/><circle cx="434.4" cy="488.4" r="1.55"/><circle cx="438.8" cy="488.4" r="1.55"/><circle cx="443.2" cy="488.4" r="1.55"/><circle cx="447.6" cy="488.4" r="1.55"/><circle cx="452.1" cy="488.4" r="1.55"/><circle cx="456.5" cy="488.4" r="1.55"/><circle cx="460.9" cy="488.4" r="1.55"/><circle cx="465.4" cy="488.4" r="1.55"/><circle cx="469.8" cy="488.4" r="1.55"/><circle cx="474.2" cy="488.4" r="1.55"/><circle cx="478.6" cy="488.4" r="1.55"/><circle cx="483.1" cy="488.4" r="1.55"/><circle cx="487.5" cy="488.4" r="1.55"/><circle cx="491.9" cy="488.4" r="1.55"/><circle cx="496.3" cy="488.4" r="1.55"/><circle cx="500.8" cy="488.4" r="1.55"/><circle cx="505.2" cy="488.4" r="1.55"/><circle cx="509.6" cy="488.4" r="1.55"/><circle cx="514.0" cy="488.4" r="1.55"/><circle cx="522.9" cy="488.4" r="1.55"/><circle cx="527.3" cy="488.4" r="1.55"/><circle cx="531.8" cy="488.4" r="1.55"/><circle cx="536.2" cy="488.4" r="1.55"/><circle cx="545.0" cy="488.4" r="1.55"/><circle cx="549.5" cy="488.4" r="1.55"/><circle cx="558.3" cy="488.4" r="1.55"/><circle cx="562.7" cy="488.4" r="1.55"/><circle cx="567.2" cy="488.4" r="1.55"/><circle cx="571.6" cy="488.4" r="1.55"/><circle cx="576.0" cy="488.4" r="1.55"/><circle cx="580.5" cy="488.4" r="1.55"/><circle cx="31.5" cy="492.8" r="1.55"/><circle cx="40.4" cy="492.8" r="1.55"/><circle cx="44.8" cy="492.8" r="1.55"/><circle cx="49.2" cy="492.8" r="1.55"/><circle cx="53.6" cy="492.8" r="1.55"/><circle cx="58.1" cy="492.8" r="1.55"/><circle cx="62.5" cy="492.8" r="1.55"/><circle cx="66.9" cy="492.8" r="1.55"/><circle cx="71.3" cy="492.8" r="1.55"/><circle cx="75.8" cy="492.8" r="1.55"/><circle cx="84.6" cy="492.8" r="1.55"/><circle cx="89.0" cy="492.8" r="1.55"/><circle cx="97.9" cy="492.8" r="1.55"/><circle cx="102.3" cy="492.8" r="1.55"/><circle cx="106.8" cy="492.8" r="1.55"/><circle cx="111.2" cy="492.8" r="1.55"/><circle cx="115.6" cy="492.8" r="1.55"/><circle cx="120.0" cy="492.8" r="1.55"/><circle cx="124.5" cy="492.8" r="1.55"/><circle cx="128.9" cy="492.8" r="1.55"/><circle cx="133.3" cy="492.8" r="1.55"/><circle cx="137.8" cy="492.8" r="1.55"/><circle cx="142.2" cy="492.8" r="1.55"/><circle cx="146.6" cy="492.8" r="1.55"/><circle cx="151.0" cy="492.8" r="1.55"/><circle cx="155.5" cy="492.8" r="1.55"/><circle cx="164.3" cy="492.8" r="1.55"/><circle cx="168.7" cy="492.8" r="1.55"/><circle cx="173.2" cy="492.8" r="1.55"/><circle cx="177.6" cy="492.8" r="1.55"/><circle cx="182.0" cy="492.8" r="1.55"/><circle cx="186.4" cy="492.8" r="1.55"/><circle cx="190.9" cy="492.8" r="1.55"/><circle cx="195.3" cy="492.8" r="1.55"/><circle cx="199.7" cy="492.8" r="1.55"/><circle cx="204.2" cy="492.8" r="1.55"/><circle cx="217.4" cy="492.8" r="1.55"/><circle cx="221.9" cy="492.8" r="1.55"/><circle cx="226.3" cy="492.8" r="1.55"/><circle cx="230.7" cy="492.8" r="1.55"/><circle cx="235.1" cy="492.8" r="1.55"/><circle cx="239.6" cy="492.8" r="1.55"/><circle cx="252.8" cy="492.8" r="1.55"/><circle cx="257.3" cy="492.8" r="1.55"/><circle cx="261.7" cy="492.8" r="1.55"/><circle cx="266.1" cy="492.8" r="1.55"/><circle cx="270.6" cy="492.8" r="1.55"/><circle cx="275.0" cy="492.8" r="1.55"/><circle cx="279.4" cy="492.8" r="1.55"/><circle cx="283.8" cy="492.8" r="1.55"/><circle cx="288.3" cy="492.8" r="1.55"/><circle cx="292.7" cy="492.8" r="1.55"/><circle cx="297.1" cy="492.8" r="1.55"/><circle cx="301.6" cy="492.8" r="1.55"/><circle cx="306.0" cy="492.8" r="1.55"/><circle cx="310.4" cy="492.8" r="1.55"/><circle cx="314.8" cy="492.8" r="1.55"/><circle cx="319.2" cy="492.8" r="1.55"/><circle cx="323.7" cy="492.8" r="1.55"/><circle cx="337.0" cy="492.8" r="1.55"/><circle cx="341.4" cy="492.8" r="1.55"/><circle cx="345.8" cy="492.8" r="1.55"/><circle cx="350.2" cy="492.8" r="1.55"/><circle cx="359.1" cy="492.8" r="1.55"/><circle cx="363.5" cy="492.8" r="1.55"/><circle cx="367.9" cy="492.8" r="1.55"/><circle cx="372.4" cy="492.8" r="1.55"/><circle cx="376.8" cy="492.8" r="1.55"/><circle cx="385.7" cy="492.8" r="1.55"/><circle cx="390.1" cy="492.8" r="1.55"/><circle cx="398.9" cy="492.8" r="1.55"/><circle cx="403.4" cy="492.8" r="1.55"/><circle cx="407.8" cy="492.8" r="1.55"/><circle cx="412.2" cy="492.8" r="1.55"/><circle cx="416.6" cy="492.8" r="1.55"/><circle cx="421.1" cy="492.8" r="1.55"/><circle cx="425.5" cy="492.8" r="1.55"/><circle cx="429.9" cy="492.8" r="1.55"/><circle cx="438.8" cy="492.8" r="1.55"/><circle cx="443.2" cy="492.8" r="1.55"/><circle cx="447.6" cy="492.8" r="1.55"/><circle cx="452.1" cy="492.8" r="1.55"/><circle cx="456.5" cy="492.8" r="1.55"/><circle cx="460.9" cy="492.8" r="1.55"/><circle cx="465.4" cy="492.8" r="1.55"/><circle cx="469.8" cy="492.8" r="1.55"/><circle cx="474.2" cy="492.8" r="1.55"/><circle cx="478.6" cy="492.8" r="1.55"/><circle cx="483.1" cy="492.8" r="1.55"/><circle cx="487.5" cy="492.8" r="1.55"/><circle cx="491.9" cy="492.8" r="1.55"/><circle cx="496.3" cy="492.8" r="1.55"/><circle cx="500.8" cy="492.8" r="1.55"/><circle cx="505.2" cy="492.8" r="1.55"/><circle cx="509.6" cy="492.8" r="1.55"/><circle cx="514.0" cy="492.8" r="1.55"/><circle cx="518.5" cy="492.8" r="1.55"/><circle cx="522.9" cy="492.8" r="1.55"/><circle cx="527.3" cy="492.8" r="1.55"/><circle cx="531.8" cy="492.8" r="1.55"/><circle cx="536.2" cy="492.8" r="1.55"/><circle cx="540.6" cy="492.8" r="1.55"/><circle cx="545.0" cy="492.8" r="1.55"/><circle cx="549.5" cy="492.8" r="1.55"/><circle cx="558.3" cy="492.8" r="1.55"/><circle cx="562.7" cy="492.8" r="1.55"/><circle cx="567.2" cy="492.8" r="1.55"/><circle cx="571.6" cy="492.8" r="1.55"/><circle cx="576.0" cy="492.8" r="1.55"/><circle cx="580.5" cy="492.8" r="1.55"/><circle cx="31.5" cy="497.2" r="1.55"/><circle cx="35.9" cy="497.2" r="1.55"/><circle cx="40.4" cy="497.2" r="1.55"/><circle cx="44.8" cy="497.2" r="1.55"/><circle cx="49.2" cy="497.2" r="1.55"/><circle cx="53.6" cy="497.2" r="1.55"/><circle cx="58.1" cy="497.2" r="1.55"/><circle cx="62.5" cy="497.2" r="1.55"/><circle cx="66.9" cy="497.2" r="1.55"/><circle cx="71.3" cy="497.2" r="1.55"/><circle cx="75.8" cy="497.2" r="1.55"/><circle cx="80.2" cy="497.2" r="1.55"/><circle cx="84.6" cy="497.2" r="1.55"/><circle cx="89.0" cy="497.2" r="1.55"/><circle cx="93.5" cy="497.2" r="1.55"/><circle cx="97.9" cy="497.2" r="1.55"/><circle cx="102.3" cy="497.2" r="1.55"/><circle cx="106.8" cy="497.2" r="1.55"/><circle cx="111.2" cy="497.2" r="1.55"/><circle cx="115.6" cy="497.2" r="1.55"/><circle cx="120.0" cy="497.2" r="1.55"/><circle cx="124.5" cy="497.2" r="1.55"/><circle cx="128.9" cy="497.2" r="1.55"/><circle cx="133.3" cy="497.2" r="1.55"/><circle cx="137.8" cy="497.2" r="1.55"/><circle cx="142.2" cy="497.2" r="1.55"/><circle cx="146.6" cy="497.2" r="1.55"/><circle cx="151.0" cy="497.2" r="1.55"/><circle cx="155.5" cy="497.2" r="1.55"/><circle cx="159.9" cy="497.2" r="1.55"/><circle cx="164.3" cy="497.2" r="1.55"/><circle cx="168.7" cy="497.2" r="1.55"/><circle cx="173.2" cy="497.2" r="1.55"/><circle cx="177.6" cy="497.2" r="1.55"/><circle cx="182.0" cy="497.2" r="1.55"/><circle cx="186.4" cy="497.2" r="1.55"/><circle cx="190.9" cy="497.2" r="1.55"/><circle cx="195.3" cy="497.2" r="1.55"/><circle cx="199.7" cy="497.2" r="1.55"/><circle cx="204.2" cy="497.2" r="1.55"/><circle cx="208.6" cy="497.2" r="1.55"/><circle cx="213.0" cy="497.2" r="1.55"/><circle cx="217.4" cy="497.2" r="1.55"/><circle cx="221.9" cy="497.2" r="1.55"/><circle cx="226.3" cy="497.2" r="1.55"/><circle cx="230.7" cy="497.2" r="1.55"/><circle cx="239.6" cy="497.2" r="1.55"/><circle cx="244.0" cy="497.2" r="1.55"/><circle cx="248.4" cy="497.2" r="1.55"/><circle cx="252.8" cy="497.2" r="1.55"/><circle cx="257.3" cy="497.2" r="1.55"/><circle cx="261.7" cy="497.2" r="1.55"/><circle cx="266.1" cy="497.2" r="1.55"/><circle cx="275.0" cy="497.2" r="1.55"/><circle cx="279.4" cy="497.2" r="1.55"/><circle cx="283.8" cy="497.2" r="1.55"/><circle cx="288.3" cy="497.2" r="1.55"/><circle cx="297.1" cy="497.2" r="1.55"/><circle cx="301.6" cy="497.2" r="1.55"/><circle cx="310.4" cy="497.2" r="1.55"/><circle cx="314.8" cy="497.2" r="1.55"/><circle cx="319.2" cy="497.2" r="1.55"/><circle cx="328.1" cy="497.2" r="1.55"/><circle cx="337.0" cy="497.2" r="1.55"/><circle cx="341.4" cy="497.2" r="1.55"/><circle cx="345.8" cy="497.2" r="1.55"/><circle cx="350.2" cy="497.2" r="1.55"/><circle cx="354.7" cy="497.2" r="1.55"/><circle cx="359.1" cy="497.2" r="1.55"/><circle cx="363.5" cy="497.2" r="1.55"/><circle cx="367.9" cy="497.2" r="1.55"/><circle cx="372.4" cy="497.2" r="1.55"/><circle cx="376.8" cy="497.2" r="1.55"/><circle cx="381.2" cy="497.2" r="1.55"/><circle cx="385.7" cy="497.2" r="1.55"/><circle cx="390.1" cy="497.2" r="1.55"/><circle cx="394.5" cy="497.2" r="1.55"/><circle cx="398.9" cy="497.2" r="1.55"/><circle cx="407.8" cy="497.2" r="1.55"/><circle cx="412.2" cy="497.2" r="1.55"/><circle cx="416.6" cy="497.2" r="1.55"/><circle cx="421.1" cy="497.2" r="1.55"/><circle cx="425.5" cy="497.2" r="1.55"/><circle cx="429.9" cy="497.2" r="1.55"/><circle cx="434.4" cy="497.2" r="1.55"/><circle cx="438.8" cy="497.2" r="1.55"/><circle cx="443.2" cy="497.2" r="1.55"/><circle cx="447.6" cy="497.2" r="1.55"/><circle cx="452.1" cy="497.2" r="1.55"/><circle cx="460.9" cy="497.2" r="1.55"/><circle cx="465.4" cy="497.2" r="1.55"/><circle cx="469.8" cy="497.2" r="1.55"/><circle cx="474.2" cy="497.2" r="1.55"/><circle cx="478.6" cy="497.2" r="1.55"/><circle cx="483.1" cy="497.2" r="1.55"/><circle cx="487.5" cy="497.2" r="1.55"/><circle cx="491.9" cy="497.2" r="1.55"/><circle cx="496.3" cy="497.2" r="1.55"/><circle cx="500.8" cy="497.2" r="1.55"/><circle cx="509.6" cy="497.2" r="1.55"/><circle cx="31.5" cy="501.6" r="1.55"/><circle cx="35.9" cy="501.6" r="1.55"/><circle cx="40.4" cy="501.6" r="1.55"/><circle cx="44.8" cy="501.6" r="1.55"/><circle cx="53.6" cy="501.6" r="1.55"/><circle cx="58.1" cy="501.6" r="1.55"/><circle cx="62.5" cy="501.6" r="1.55"/><circle cx="66.9" cy="501.6" r="1.55"/><circle cx="75.8" cy="501.6" r="1.55"/><circle cx="80.2" cy="501.6" r="1.55"/><circle cx="84.6" cy="501.6" r="1.55"/><circle cx="89.0" cy="501.6" r="1.55"/><circle cx="93.5" cy="501.6" r="1.55"/><circle cx="97.9" cy="501.6" r="1.55"/><circle cx="102.3" cy="501.6" r="1.55"/><circle cx="111.2" cy="501.6" r="1.55"/><circle cx="115.6" cy="501.6" r="1.55"/><circle cx="120.0" cy="501.6" r="1.55"/><circle cx="128.9" cy="501.6" r="1.55"/><circle cx="137.8" cy="501.6" r="1.55"/><circle cx="146.6" cy="501.6" r="1.55"/><circle cx="151.0" cy="501.6" r="1.55"/><circle cx="155.5" cy="501.6" r="1.55"/><circle cx="159.9" cy="501.6" r="1.55"/><circle cx="164.3" cy="501.6" r="1.55"/><circle cx="168.7" cy="501.6" r="1.55"/><circle cx="173.2" cy="501.6" r="1.55"/><circle cx="177.6" cy="501.6" r="1.55"/><circle cx="182.0" cy="501.6" r="1.55"/><circle cx="186.4" cy="501.6" r="1.55"/><circle cx="190.9" cy="501.6" r="1.55"/><circle cx="195.3" cy="501.6" r="1.55"/><circle cx="199.7" cy="501.6" r="1.55"/><circle cx="204.2" cy="501.6" r="1.55"/><circle cx="208.6" cy="501.6" r="1.55"/><circle cx="213.0" cy="501.6" r="1.55"/><circle cx="217.4" cy="501.6" r="1.55"/><circle cx="221.9" cy="501.6" r="1.55"/><circle cx="226.3" cy="501.6" r="1.55"/><circle cx="230.7" cy="501.6" r="1.55"/><circle cx="235.1" cy="501.6" r="1.55"/><circle cx="239.6" cy="501.6" r="1.55"/><circle cx="244.0" cy="501.6" r="1.55"/><circle cx="248.4" cy="501.6" r="1.55"/><circle cx="252.8" cy="501.6" r="1.55"/><circle cx="257.3" cy="501.6" r="1.55"/><circle cx="261.7" cy="501.6" r="1.55"/><circle cx="266.1" cy="501.6" r="1.55"/><circle cx="270.6" cy="501.6" r="1.55"/><circle cx="275.0" cy="501.6" r="1.55"/><circle cx="279.4" cy="501.6" r="1.55"/><circle cx="283.8" cy="501.6" r="1.55"/><circle cx="288.3" cy="501.6" r="1.55"/><circle cx="297.1" cy="501.6" r="1.55"/><circle cx="301.6" cy="501.6" r="1.55"/><circle cx="306.0" cy="501.6" r="1.55"/><circle cx="310.4" cy="501.6" r="1.55"/><circle cx="314.8" cy="501.6" r="1.55"/><circle cx="319.2" cy="501.6" r="1.55"/><circle cx="323.7" cy="501.6" r="1.55"/><circle cx="328.1" cy="501.6" r="1.55"/><circle cx="332.5" cy="501.6" r="1.55"/><circle cx="337.0" cy="501.6" r="1.55"/><circle cx="341.4" cy="501.6" r="1.55"/><circle cx="345.8" cy="501.6" r="1.55"/><circle cx="350.2" cy="501.6" r="1.55"/><circle cx="354.7" cy="501.6" r="1.55"/><circle cx="359.1" cy="501.6" r="1.55"/><circle cx="363.5" cy="501.6" r="1.55"/><circle cx="367.9" cy="501.6" r="1.55"/><circle cx="372.4" cy="501.6" r="1.55"/><circle cx="376.8" cy="501.6" r="1.55"/><circle cx="381.2" cy="501.6" r="1.55"/><circle cx="385.7" cy="501.6" r="1.55"/><circle cx="390.1" cy="501.6" r="1.55"/><circle cx="394.5" cy="501.6" r="1.55"/><circle cx="398.9" cy="501.6" r="1.55"/><circle cx="403.4" cy="501.6" r="1.55"/><circle cx="407.8" cy="501.6" r="1.55"/><circle cx="412.2" cy="501.6" r="1.55"/><circle cx="416.6" cy="501.6" r="1.55"/><circle cx="421.1" cy="501.6" r="1.55"/><circle cx="425.5" cy="501.6" r="1.55"/><circle cx="429.9" cy="501.6" r="1.55"/><circle cx="434.4" cy="501.6" r="1.55"/><circle cx="438.8" cy="501.6" r="1.55"/><circle cx="443.2" cy="501.6" r="1.55"/><circle cx="447.6" cy="501.6" r="1.55"/><circle cx="452.1" cy="501.6" r="1.55"/><circle cx="460.9" cy="501.6" r="1.55"/><circle cx="465.4" cy="501.6" r="1.55"/><circle cx="469.8" cy="501.6" r="1.55"/><circle cx="474.2" cy="501.6" r="1.55"/><circle cx="478.6" cy="501.6" r="1.55"/><circle cx="483.1" cy="501.6" r="1.55"/><circle cx="487.5" cy="501.6" r="1.55"/><circle cx="491.9" cy="501.6" r="1.55"/><circle cx="496.3" cy="501.6" r="1.55"/><circle cx="500.8" cy="501.6" r="1.55"/><circle cx="505.2" cy="501.6" r="1.55"/><circle cx="509.6" cy="501.6" r="1.55"/></g><g fill="#f7f23a"><circle cx="47.5" cy="256.1" r="1.55"/><circle cx="35.0" cy="259.6" r="1.55"/><circle cx="35.4" cy="263.3" r="1.55"/><circle cx="63.5" cy="260.9" r="1.55"/><circle cx="58.7" cy="269.2" r="1.55"/><circle cx="37.9" cy="274.0" r="1.55"/><circle cx="47.5" cy="273.4" r="1.55"/><circle cx="42.7" cy="277.3" r="1.55"/><circle cx="45.1" cy="278.2" r="1.55"/><circle cx="60.6" cy="275.0" r="1.55"/><circle cx="33.4" cy="300.7" r="1.55"/><circle cx="39.5" cy="299.7" r="1.55"/><circle cx="44.3" cy="297.8" r="1.55"/><circle cx="48.8" cy="296.5" r="1.55"/><circle cx="52.6" cy="297.0" r="1.55"/><circle cx="57.9" cy="298.6" r="1.55"/><circle cx="63.5" cy="294.6" r="1.55"/><circle cx="63.2" cy="299.1" r="1.55"/><circle cx="57.9" cy="303.9" r="1.55"/><circle cx="67.1" cy="304.2" r="1.55"/><circle cx="71.2" cy="306.3" r="1.55"/><circle cx="105.3" cy="260.6" r="1.55"/><circle cx="116.2" cy="266.5" r="1.55"/><circle cx="109.3" cy="273.4" r="1.55"/><circle cx="92.5" cy="277.3" r="1.55"/><circle cx="111.7" cy="277.7" r="1.55"/><circle cx="112.5" cy="280.1" r="1.55"/><circle cx="82.5" cy="283.4" r="1.55"/><circle cx="94.8" cy="289.0" r="1.55"/><circle cx="124.2" cy="281.4" r="1.55"/><circle cx="132.3" cy="266.0" r="1.55"/><circle cx="134.5" cy="261.2" r="1.55"/><circle cx="134.2" cy="275.3" r="1.55"/><circle cx="135.6" cy="282.1" r="1.55"/><circle cx="195.8" cy="261.2" r="1.55"/><circle cx="195.8" cy="269.2" r="1.55"/><circle cx="174.2" cy="275.6" r="1.55"/><circle cx="165.7" cy="283.0" r="1.55"/><circle cx="195.0" cy="281.4" r="1.55"/><circle cx="215.1" cy="255.3" r="1.55"/><circle cx="231.2" cy="254.1" r="1.55"/><circle cx="246.6" cy="256.1" r="1.55"/><circle cx="245.0" cy="260.9" r="1.55"/><circle cx="250.3" cy="260.9" r="1.55"/><circle cx="243.3" cy="266.0" r="1.55"/><circle cx="251.1" cy="267.3" r="1.55"/><circle cx="253.5" cy="270.5" r="1.55"/><circle cx="252.7" cy="277.3" r="1.55"/><circle cx="253.9" cy="285.8" r="1.55"/><circle cx="253.9" cy="293.3" r="1.55"/><circle cx="251.1" cy="298.1" r="1.55"/><circle cx="247.8" cy="264.1" r="1.55"/><circle cx="279.6" cy="255.3" r="1.55"/><circle cx="282.4" cy="260.6" r="1.55"/><circle cx="288.5" cy="264.6" r="1.55"/><circle cx="283.5" cy="269.2" r="1.55"/><circle cx="285.1" cy="301.3" r="1.55"/><circle cx="315.0" cy="257.3" r="1.55"/><circle cx="311.8" cy="264.9" r="1.55"/><circle cx="319.3" cy="270.2" r="1.55"/><circle cx="312.9" cy="275.0" r="1.55"/><circle cx="314.5" cy="278.9" r="1.55"/><circle cx="338.6" cy="266.0" r="1.55"/><circle cx="340.7" cy="269.2" r="1.55"/><circle cx="342.3" cy="289.5" r="1.55"/><circle cx="347.7" cy="268.6" r="1.55"/><circle cx="369.2" cy="292.7" r="1.55"/><circle cx="405.5" cy="260.6" r="1.55"/><circle cx="411.1" cy="260.1" r="1.55"/><circle cx="447.3" cy="285.0" r="1.55"/><circle cx="445.7" cy="258.0" r="1.55"/><circle cx="447.9" cy="263.3" r="1.55"/><circle cx="469.4" cy="254.8" r="1.55"/><circle cx="464.6" cy="264.4" r="1.55"/><circle cx="471.5" cy="265.7" r="1.55"/><circle cx="462.3" cy="268.6" r="1.55"/><circle cx="479.5" cy="267.0" r="1.55"/><circle cx="506.0" cy="264.4" r="1.55"/><circle cx="505.7" cy="269.7" r="1.55"/><circle cx="510.0" cy="272.9" r="1.55"/><circle cx="508.9" cy="279.3" r="1.55"/><circle cx="507.6" cy="286.2" r="1.55"/><circle cx="503.6" cy="291.7" r="1.55"/><circle cx="516.9" cy="290.6" r="1.55"/><circle cx="548.3" cy="253.7" r="1.55"/><circle cx="552.9" cy="255.3" r="1.55"/><circle cx="532.0" cy="276.1" r="1.55"/><circle cx="538.5" cy="275.6" r="1.55"/><circle cx="545.9" cy="276.1" r="1.55"/><circle cx="571.7" cy="269.2" r="1.55"/><circle cx="580.8" cy="267.6" r="1.55"/><circle cx="585.3" cy="267.3" r="1.55"/><circle cx="576.0" cy="276.6" r="1.55"/><circle cx="586.1" cy="288.2" r="1.55"/><circle cx="657.9" cy="257.3" r="1.55"/><circle cx="653.6" cy="260.9" r="1.55"/><circle cx="628.4" cy="270.2" r="1.55"/><circle cx="630.0" cy="276.6" r="1.55"/><circle cx="632.7" cy="281.4" r="1.55"/><circle cx="628.7" cy="283.0" r="1.55"/><circle cx="626.8" cy="287.4" r="1.55"/><circle cx="627.9" cy="296.5" r="1.55"/><circle cx="632.7" cy="297.0" r="1.55"/><circle cx="623.5" cy="300.2" r="1.55"/><circle cx="45.5" cy="333.9" r="1.55"/><circle cx="61.6" cy="337.4" r="1.55"/><circle cx="88.0" cy="317.5" r="1.55"/><circle cx="81.5" cy="334.2" r="1.55"/><circle cx="90.0" cy="333.1" r="1.55"/><circle cx="97.3" cy="339.5" r="1.55"/><circle cx="99.7" cy="340.6" r="1.55"/><circle cx="116.8" cy="323.9" r="1.55"/><circle cx="124.9" cy="328.8" r="1.55"/><circle cx="135.0" cy="329.9" r="1.55"/><circle cx="143.2" cy="336.3" r="1.55"/><circle cx="201.0" cy="337.4" r="1.55"/><circle cx="209.0" cy="343.9" r="1.55"/><circle cx="246.2" cy="325.9" r="1.55"/><circle cx="256.7" cy="328.8" r="1.55"/><circle cx="275.5" cy="341.6" r="1.55"/><circle cx="308.6" cy="317.5" r="1.55"/><circle cx="306.5" cy="322.7" r="1.55"/><circle cx="368.1" cy="325.1" r="1.55"/><circle cx="365.7" cy="333.9" r="1.55"/><circle cx="391.1" cy="317.5" r="1.55"/><circle cx="397.5" cy="320.3" r="1.55"/><circle cx="383.0" cy="321.9" r="1.55"/><circle cx="399.1" cy="325.1" r="1.55"/><circle cx="386.6" cy="324.3" r="1.55"/><circle cx="389.8" cy="325.1" r="1.55"/><circle cx="393.0" cy="325.9" r="1.55"/><circle cx="385.8" cy="327.5" r="1.55"/><circle cx="416.3" cy="323.5" r="1.55"/><circle cx="431.5" cy="323.5" r="1.55"/><circle cx="429.6" cy="328.8" r="1.55"/><circle cx="440.9" cy="325.1" r="1.55"/><circle cx="450.0" cy="327.5" r="1.55"/><circle cx="459.1" cy="318.6" r="1.55"/><circle cx="493.2" cy="323.5" r="1.55"/><circle cx="528.8" cy="325.9" r="1.55"/><circle cx="564.5" cy="332.6" r="1.55"/><circle cx="575.4" cy="333.6" r="1.55"/><circle cx="577.0" cy="337.9" r="1.55"/><circle cx="595.0" cy="335.8" r="1.55"/><circle cx="599.8" cy="333.9" r="1.55"/><circle cx="604.6" cy="332.6" r="1.55"/><circle cx="604.9" cy="337.9" r="1.55"/><circle cx="609.7" cy="317.5" r="1.55"/><circle cx="609.4" cy="322.7" r="1.55"/><circle cx="614.5" cy="323.1" r="1.55"/><circle cx="650.9" cy="317.5" r="1.55"/><circle cx="651.5" cy="322.7" r="1.55"/><circle cx="653.6" cy="328.8" r="1.55"/><circle cx="656.8" cy="329.4" r="1.55"/><circle cx="649.6" cy="337.9" r="1.55"/><circle cx="37.5" cy="362.7" r="1.55"/><circle cx="83.1" cy="367.0" r="1.55"/><circle cx="70.8" cy="376.2" r="1.55"/><circle cx="47.8" cy="395.9" r="1.55"/><circle cx="56.8" cy="398.0" r="1.55"/><circle cx="60.6" cy="401.6" r="1.55"/><circle cx="89.2" cy="397.1" r="1.55"/><circle cx="88.4" cy="400.8" r="1.55"/><circle cx="102.9" cy="400.0" r="1.55"/><circle cx="100.5" cy="404.0" r="1.55"/><circle cx="105.3" cy="404.0" r="1.55"/><circle cx="102.9" cy="408.0" r="1.55"/><circle cx="118.6" cy="395.5" r="1.55"/><circle cx="164.0" cy="373.5" r="1.55"/><circle cx="211.9" cy="374.3" r="1.55"/><circle cx="153.8" cy="390.6" r="1.55"/><circle cx="150.9" cy="393.5" r="1.55"/><circle cx="194.6" cy="390.6" r="1.55"/><circle cx="228.0" cy="391.9" r="1.55"/><circle cx="231.5" cy="393.5" r="1.55"/><circle cx="229.6" cy="397.1" r="1.55"/><circle cx="282.4" cy="367.5" r="1.55"/><circle cx="295.2" cy="369.8" r="1.55"/><circle cx="317.2" cy="362.2" r="1.55"/><circle cx="322.5" cy="365.9" r="1.55"/><circle cx="322.0" cy="370.3" r="1.55"/><circle cx="247.5" cy="390.6" r="1.55"/><circle cx="247.5" cy="396.4" r="1.55"/><circle cx="255.1" cy="394.3" r="1.55"/><circle cx="302.1" cy="390.6" r="1.55"/><circle cx="334.9" cy="392.3" r="1.55"/><circle cx="334.9" cy="397.1" r="1.55"/><circle cx="364.4" cy="365.4" r="1.55"/><circle cx="438.0" cy="366.6" r="1.55"/><circle cx="347.2" cy="402.9" r="1.55"/><circle cx="412.6" cy="398.0" r="1.55"/><circle cx="426.4" cy="390.6" r="1.55"/><circle cx="455.4" cy="367.5" r="1.55"/><circle cx="490.8" cy="374.6" r="1.55"/><circle cx="507.9" cy="373.5" r="1.55"/><circle cx="493.5" cy="400.3" r="1.55"/><circle cx="508.9" cy="390.6" r="1.55"/><circle cx="515.3" cy="396.8" r="1.55"/><circle cx="532.0" cy="393.5" r="1.55"/><circle cx="536.5" cy="394.8" r="1.55"/><circle cx="537.8" cy="399.6" r="1.55"/><circle cx="537.8" cy="404.5" r="1.55"/><circle cx="548.1" cy="390.6" r="1.55"/><circle cx="577.3" cy="369.1" r="1.55"/><circle cx="607.0" cy="372.3" r="1.55"/><circle cx="637.5" cy="364.3" r="1.55"/><circle cx="556.1" cy="399.6" r="1.55"/><circle cx="556.1" cy="404.8" r="1.55"/><circle cx="582.9" cy="393.2" r="1.55"/><circle cx="587.3" cy="390.6" r="1.55"/><circle cx="581.3" cy="397.1" r="1.55"/><circle cx="632.2" cy="392.3" r="1.55"/><circle cx="36.6" cy="420.8" r="1.55"/><circle cx="41.1" cy="423.6" r="1.55"/><circle cx="71.2" cy="422.4" r="1.55"/><circle cx="46.2" cy="440.1" r="1.55"/><circle cx="74.0" cy="434.8" r="1.55"/><circle cx="106.6" cy="437.4" r="1.55"/><circle cx="126.2" cy="443.3" r="1.55"/><circle cx="131.8" cy="438.5" r="1.55"/><circle cx="64.3" cy="451.3" r="1.55"/><circle cx="94.0" cy="451.3" r="1.55"/><circle cx="68.7" cy="461.0" r="1.55"/><circle cx="121.0" cy="458.9" r="1.55"/><circle cx="80.9" cy="465.3" r="1.55"/><circle cx="180.1" cy="419.2" r="1.55"/><circle cx="184.6" cy="417.1" r="1.55"/><circle cx="202.6" cy="422.0" r="1.55"/><circle cx="207.1" cy="422.9" r="1.55"/><circle cx="216.7" cy="420.4" r="1.55"/><circle cx="136.1" cy="437.4" r="1.55"/><circle cx="140.4" cy="439.6" r="1.55"/><circle cx="172.1" cy="434.8" r="1.55"/><circle cx="175.3" cy="439.6" r="1.55"/><circle cx="184.3" cy="439.6" r="1.55"/><circle cx="199.4" cy="439.6" r="1.55"/><circle cx="219.1" cy="439.6" r="1.55"/><circle cx="138.0" cy="461.0" r="1.55"/><circle cx="176.2" cy="455.7" r="1.55"/><circle cx="187.5" cy="453.4" r="1.55"/><circle cx="193.9" cy="451.3" r="1.55"/><circle cx="222.8" cy="454.6" r="1.55"/><circle cx="151.2" cy="470.1" r="1.55"/><circle cx="150.9" cy="474.6" r="1.55"/><circle cx="155.7" cy="474.6" r="1.55"/><circle cx="188.6" cy="469.5" r="1.55"/><circle cx="215.9" cy="471.4" r="1.55"/><circle cx="275.5" cy="422.0" r="1.55"/><circle cx="280.3" cy="422.9" r="1.55"/><circle cx="284.8" cy="422.4" r="1.55"/><circle cx="289.3" cy="422.9" r="1.55"/><circle cx="335.4" cy="425.2" r="1.55"/><circle cx="340.2" cy="417.1" r="1.55"/><circle cx="271.9" cy="435.8" r="1.55"/><circle cx="281.6" cy="438.0" r="1.55"/><circle cx="290.4" cy="436.4" r="1.55"/><circle cx="303.2" cy="440.1" r="1.55"/><circle cx="331.4" cy="434.8" r="1.55"/><circle cx="263.1" cy="455.7" r="1.55"/><circle cx="276.4" cy="451.3" r="1.55"/><circle cx="293.6" cy="459.4" r="1.55"/><circle cx="300.5" cy="455.4" r="1.55"/><circle cx="317.7" cy="451.3" r="1.55"/><circle cx="328.1" cy="451.3" r="1.55"/><circle cx="332.1" cy="454.6" r="1.55"/><circle cx="240.6" cy="465.3" r="1.55"/><circle cx="253.5" cy="468.2" r="1.55"/><circle cx="262.3" cy="469.8" r="1.55"/><circle cx="275.9" cy="469.5" r="1.55"/><circle cx="329.7" cy="465.3" r="1.55"/><circle cx="333.3" cy="468.2" r="1.55"/><circle cx="324.9" cy="470.1" r="1.55"/><circle cx="346.7" cy="418.1" r="1.55"/><circle cx="355.7" cy="426.1" r="1.55"/><circle cx="363.3" cy="420.4" r="1.55"/><circle cx="367.0" cy="417.1" r="1.55"/><circle cx="438.0" cy="419.7" r="1.55"/><circle cx="442.4" cy="422.0" r="1.55"/><circle cx="445.2" cy="426.1" r="1.55"/><circle cx="359.6" cy="438.5" r="1.55"/><circle cx="380.1" cy="434.8" r="1.55"/><circle cx="397.5" cy="442.8" r="1.55"/><circle cx="439.6" cy="440.6" r="1.55"/><circle cx="393.3" cy="456.2" r="1.55"/><circle cx="422.2" cy="451.3" r="1.55"/><circle cx="357.3" cy="466.3" r="1.55"/><circle cx="370.5" cy="465.3" r="1.55"/><circle cx="372.1" cy="469.8" r="1.55"/><circle cx="379.3" cy="465.3" r="1.55"/><circle cx="440.4" cy="474.6" r="1.55"/><circle cx="455.9" cy="424.0" r="1.55"/><circle cx="463.9" cy="417.1" r="1.55"/><circle cx="463.0" cy="420.8" r="1.55"/><circle cx="516.5" cy="421.3" r="1.55"/><circle cx="536.5" cy="418.4" r="1.55"/><circle cx="546.2" cy="417.1" r="1.55"/><circle cx="468.8" cy="439.6" r="1.55"/><circle cx="472.3" cy="436.4" r="1.55"/><circle cx="513.2" cy="441.7" r="1.55"/><circle cx="526.6" cy="434.8" r="1.55"/><circle cx="548.1" cy="439.6" r="1.55"/><circle cx="451.1" cy="457.8" r="1.55"/><circle cx="459.8" cy="452.9" r="1.55"/><circle cx="468.8" cy="452.5" r="1.55"/><circle cx="473.6" cy="451.3" r="1.55"/><circle cx="529.3" cy="451.3" r="1.55"/><circle cx="534.6" cy="456.2" r="1.55"/><circle cx="533.6" cy="461.0" r="1.55"/><circle cx="552.9" cy="454.1" r="1.55"/><circle cx="518.1" cy="469.8" r="1.55"/><circle cx="563.2" cy="421.3" r="1.55"/><circle cx="622.6" cy="423.6" r="1.55"/><circle cx="624.7" cy="419.2" r="1.55"/><circle cx="576.0" cy="434.8" r="1.55"/><circle cx="588.5" cy="439.0" r="1.55"/><circle cx="611.0" cy="434.8" r="1.55"/><circle cx="637.0" cy="435.8" r="1.55"/><circle cx="561.6" cy="451.3" r="1.55"/><circle cx="577.6" cy="457.8" r="1.55"/><circle cx="581.8" cy="451.3" r="1.55"/><circle cx="630.3" cy="456.2" r="1.55"/><circle cx="567.7" cy="465.3" r="1.55"/><circle cx="45.5" cy="276.5" r="1.55"/><circle cx="43.2" cy="277.7" r="1.55"/><circle cx="44.7" cy="274.2" r="1.55"/><circle cx="391.4" cy="325.5" r="1.55"/><circle cx="389.3" cy="326.6" r="1.55"/><circle cx="390.7" cy="323.4" r="1.55"/><circle cx="392.0" cy="327.5" r="1.55"/><circle cx="387.7" cy="325.0" r="1.55"/><circle cx="35.9" cy="479.4" r="1.55"/><circle cx="44.8" cy="479.4" r="1.55"/><circle cx="71.3" cy="479.4" r="1.55"/><circle cx="190.9" cy="479.4" r="1.55"/><circle cx="221.9" cy="479.4" r="1.55"/><circle cx="239.6" cy="479.4" r="1.55"/><circle cx="283.8" cy="479.4" r="1.55"/><circle cx="306.0" cy="479.4" r="1.55"/><circle cx="323.7" cy="479.4" r="1.55"/><circle cx="434.4" cy="479.4" r="1.55"/><circle cx="545.0" cy="479.4" r="1.55"/><circle cx="576.0" cy="479.4" r="1.55"/><circle cx="35.9" cy="483.9" r="1.55"/><circle cx="40.4" cy="483.9" r="1.55"/><circle cx="75.8" cy="483.9" r="1.55"/><circle cx="102.3" cy="483.9" r="1.55"/><circle cx="239.6" cy="483.9" r="1.55"/><circle cx="261.7" cy="483.9" r="1.55"/><circle cx="337.0" cy="483.9" r="1.55"/><circle cx="421.1" cy="483.9" r="1.55"/><circle cx="434.4" cy="483.9" r="1.55"/><circle cx="443.2" cy="483.9" r="1.55"/><circle cx="465.4" cy="483.9" r="1.55"/><circle cx="505.2" cy="483.9" r="1.55"/><circle cx="71.3" cy="488.4" r="1.55"/><circle cx="80.2" cy="488.4" r="1.55"/><circle cx="93.5" cy="488.4" r="1.55"/><circle cx="106.8" cy="488.4" r="1.55"/><circle cx="115.6" cy="488.4" r="1.55"/><circle cx="146.6" cy="488.4" r="1.55"/><circle cx="159.9" cy="488.4" r="1.55"/><circle cx="182.0" cy="488.4" r="1.55"/><circle cx="186.4" cy="488.4" r="1.55"/><circle cx="244.0" cy="488.4" r="1.55"/><circle cx="270.6" cy="488.4" r="1.55"/><circle cx="328.1" cy="488.4" r="1.55"/><circle cx="332.5" cy="488.4" r="1.55"/><circle cx="350.2" cy="488.4" r="1.55"/><circle cx="354.7" cy="488.4" r="1.55"/><circle cx="363.5" cy="488.4" r="1.55"/><circle cx="421.1" cy="488.4" r="1.55"/><circle cx="425.5" cy="488.4" r="1.55"/><circle cx="429.9" cy="488.4" r="1.55"/><circle cx="518.5" cy="488.4" r="1.55"/><circle cx="540.6" cy="488.4" r="1.55"/><circle cx="553.9" cy="488.4" r="1.55"/><circle cx="35.9" cy="492.8" r="1.55"/><circle cx="80.2" cy="492.8" r="1.55"/><circle cx="93.5" cy="492.8" r="1.55"/><circle cx="159.9" cy="492.8" r="1.55"/><circle cx="208.6" cy="492.8" r="1.55"/><circle cx="213.0" cy="492.8" r="1.55"/><circle cx="244.0" cy="492.8" r="1.55"/><circle cx="248.4" cy="492.8" r="1.55"/><circle cx="328.1" cy="492.8" r="1.55"/><circle cx="332.5" cy="492.8" r="1.55"/><circle cx="354.7" cy="492.8" r="1.55"/><circle cx="381.2" cy="492.8" r="1.55"/><circle cx="394.5" cy="492.8" r="1.55"/><circle cx="434.4" cy="492.8" r="1.55"/><circle cx="553.9" cy="492.8" r="1.55"/><circle cx="235.1" cy="497.2" r="1.55"/><circle cx="270.6" cy="497.2" r="1.55"/><circle cx="292.7" cy="497.2" r="1.55"/><circle cx="306.0" cy="497.2" r="1.55"/><circle cx="323.7" cy="497.2" r="1.55"/><circle cx="332.5" cy="497.2" r="1.55"/><circle cx="403.4" cy="497.2" r="1.55"/><circle cx="456.5" cy="497.2" r="1.55"/><circle cx="505.2" cy="497.2" r="1.55"/><circle cx="49.2" cy="501.6" r="1.55"/><circle cx="71.3" cy="501.6" r="1.55"/><circle cx="106.8" cy="501.6" r="1.55"/><circle cx="124.5" cy="501.6" r="1.55"/><circle cx="133.3" cy="501.6" r="1.55"/><circle cx="142.2" cy="501.6" r="1.55"/><circle cx="292.7" cy="501.6" r="1.55"/><circle cx="456.5" cy="501.6" r="1.55"/></g><rect x="585.6" y="465.6" width="72.8" height="39.3" fill="#fff" stroke="#222" stroke-width="1.2"/><circle cx="595.6" cy="477" r="3.9" fill="#f4f000" stroke="#333" stroke-width="0.7"/><circle cx="595.6" cy="495.5" r="3.9" fill="#7a7878" stroke="#2c3a5a" stroke-width="0.8"/><text x="604.4" y="476" font-size="8.2" font-family="Liberation Sans, sans-serif" fill="#111" textLength="44.1" lengthAdjust="spacingAndGlyphs">Important for</text><text x="604.4" y="484.4" font-size="8.2" font-family="Liberation Sans, sans-serif" fill="#111" textLength="45.2" lengthAdjust="spacingAndGlyphs">Classification</text><text x="604.4" y="498.7" font-size="8.2" font-family="Liberation Sans, sans-serif" fill="#111" textLength="32.9" lengthAdjust="spacingAndGlyphs">Unranked</text></svg></body></html>
